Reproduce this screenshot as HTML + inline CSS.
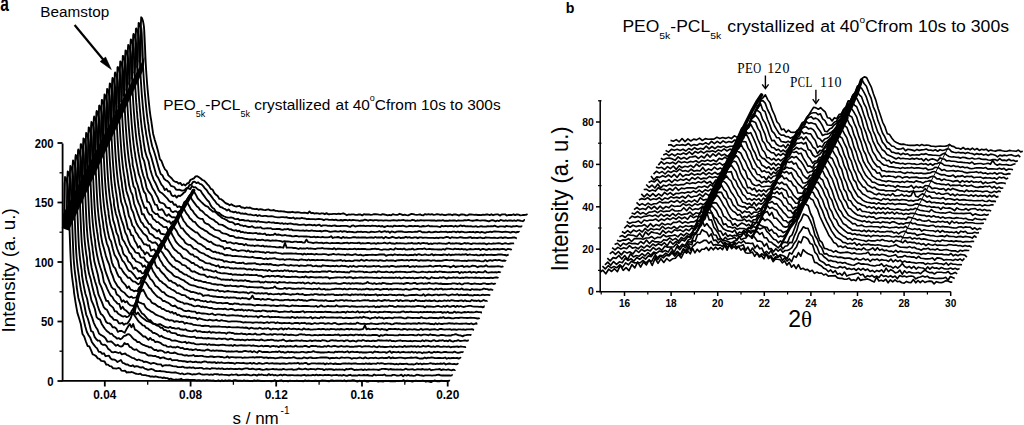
<!DOCTYPE html><html><head><meta charset="utf-8"><style>html,body{margin:0;padding:0;background:#fff;width:1024px;height:425px;overflow:hidden}svg{display:block}.s{font-family:"Liberation Sans",sans-serif}.r{font-family:"Liberation Serif",serif}</style></head><body><svg width="1024" height="425" viewBox="0 0 1024 425"><rect width="1024" height="425" fill="#fff"/><path d="M63.2 183L140.5 22L143.8 32L145.2 56L143.5 70L68.8 230.5L63.2 228.5Z" fill="#a8a8a8"/><path d="M63.2 228.5L68.8 230.5L143.5 69.5L144.5 57L63.2 214Z" fill="#000"/><g fill="none" stroke="#000" stroke-width="1.85" stroke-linejoin="round"><path d="M62.0 228.0L62.3 227.9L62.6 227.6L62.9 227.2L63.2 226.4L63.5 225.4L63.8 224.1L64.1 220.8L64.4 203.5L64.7 187.4L65.0 177.0L65.3 177.2L65.6 177.6L65.9 178.3L66.2 179.1L66.5 180.0L66.8 181.0L67.1 182.3L67.4 184.0L67.7 186.2L68.0 189.5L68.3 195.2L68.6 202.0L68.9 209.9L69.2 219.1L69.5 228.2L69.8 236.4L70.1 244.8L70.4 252.8L70.7 259.7L71.0 265.0L71.3 268.9L71.6 272.3L71.9 275.2L72.2 277.8L72.5 280.2L72.8 282.5L73.1 284.7L73.4 286.8L73.7 288.6L74.0 292.3L75.7 303.3L77.4 312.9L79.1 318.3L80.8 324.0L82.5 334.0L84.2 336.5L85.9 341.5L87.6 346.0L89.3 346.3L91.0 350.2L92.7 354.4L94.4 355.0L96.1 356.1L97.8 358.4L99.5 358.9L101.2 360.9L102.9 361.2L104.6 361.5L106.3 364.7L108.0 364.6L109.7 366.1L111.4 366.3L113.1 368.3L114.8 368.4L116.5 368.6L118.2 368.0L119.9 368.3L121.6 370.7L123.3 370.9L125.0 370.7L126.7 372.5L128.4 372.1L130.1 372.3L131.8 372.0L133.5 372.7L135.2 373.5L136.9 373.9L138.6 374.1L140.3 373.6L142.0 374.9L143.7 375.1L145.4 375.1L147.1 375.6L148.8 375.9L150.5 376.7L152.2 376.4L153.9 376.9L155.6 376.3L157.3 376.8L159.0 377.4L160.7 377.3L162.4 378.0L164.1 377.5L165.8 378.2L167.5 378.1L169.2 379.2L170.9 378.6L172.6 379.5L174.3 379.8L176.0 379.4L177.7 379.7L179.4 379.5L181.1 378.8L182.8 380.0L184.5 380.0L186.2 379.7L187.9 379.7L189.6 380.0L191.3 380.0L193.0 379.8L194.7 379.9L196.4 380.5L198.1 380.2L199.8 380.2L201.5 380.6L203.2 380.2L204.9 380.6L206.6 380.0L208.3 380.3L210.0 380.3L211.7 380.6L213.4 380.4L215.1 381.1L216.8 380.8L218.5 380.3L220.2 381.2L221.9 380.2L223.6 381.1L225.3 380.3L227.0 380.8L228.7 380.3L230.4 380.5L232.1 381.1L233.8 380.2L235.5 380.1L237.2 380.7L238.9 380.7L240.6 380.7L242.3 381.0L244.0 380.3L245.7 380.9L247.4 380.7L249.1 381.0L250.8 380.9L252.5 381.2L254.2 380.3L255.9 380.8L257.6 380.4L259.3 380.7L261.0 381.0L262.7 380.9L264.4 381.0L266.1 380.8L267.8 380.9L269.5 380.9L271.2 381.3L272.9 381.1L274.6 380.2L276.3 381.0L278.0 381.2L279.7 380.7L281.4 380.3L283.1 381.3L284.8 380.9L286.5 381.0L288.2 381.4L289.9 380.6L291.6 380.8L293.3 380.8L295.0 381.1L296.7 380.7L298.4 381.0L300.1 380.9L301.8 381.2L303.5 381.3L305.2 380.4L306.9 381.0L308.6 380.7L310.3 380.9L312.0 381.0L313.7 381.0L315.4 380.6L317.1 381.0L318.8 380.9L320.5 380.8L322.2 380.4L323.9 380.6L325.6 380.7L327.3 381.1L329.0 381.3L330.7 380.5L332.4 380.5L334.1 380.9L335.8 380.7L337.5 380.6L339.2 380.6L340.9 380.6L342.6 381.0L344.3 380.3L346.0 381.3L347.7 380.6L349.4 380.7L351.1 380.6L352.8 380.2L354.5 380.4L356.2 381.3L357.9 381.5L359.6 380.6L361.3 381.3L363.0 380.9L364.7 380.6L366.4 381.5L368.1 381.6L369.8 380.8L371.5 380.9L373.2 381.0L374.9 380.9L376.6 381.2L378.3 381.5L380.0 381.0L381.7 381.3L383.4 381.5L385.1 380.8L386.8 381.0L388.5 380.8L390.2 381.3L391.9 381.2L393.6 381.3L395.3 381.3L397.0 380.9L398.7 381.2L400.4 380.8L402.1 380.8L403.8 380.2L405.5 381.4L407.2 380.6L408.9 381.0L410.6 381.0L412.3 381.5L414.0 381.1L415.7 380.7L417.4 381.0L419.1 380.9L420.8 381.1L422.5 380.6L424.2 381.0L425.9 381.7L427.6 381.2L429.3 381.7L431.0 382.1L432.7 381.2L434.4 380.5L436.1 381.0L437.8 381.4L439.5 381.3L441.2 380.6L442.9 380.9L444.6 381.0L446.3 381.0L448.0 381.0L449.7 380.7L450.0 380.8"/><path d="M64.7 222.3L65.0 222.2L65.3 221.9L65.6 221.4L65.9 220.6L66.2 219.5L66.5 218.1L66.8 213.4L67.1 195.1L67.4 179.6L67.7 171.5L68.0 171.7L68.3 172.2L68.6 172.9L68.9 173.7L69.2 174.6L69.5 175.7L69.8 177.0L70.1 178.7L70.4 181.0L70.7 184.6L71.0 190.6L71.3 197.4L71.6 205.6L71.9 214.8L72.2 223.7L72.5 231.7L72.8 239.7L73.1 247.4L73.4 254.1L73.7 259.2L74.0 263.0L74.3 266.4L74.6 269.3L74.9 271.9L75.2 274.3L75.5 276.6L75.8 278.8L76.1 280.8L76.4 282.7L76.7 287.0L78.4 297.9L80.1 303.7L81.8 311.6L83.5 319.0L85.2 326.3L86.9 332.0L88.6 335.2L90.3 337.8L92.0 342.3L93.7 344.6L95.4 346.8L97.1 348.4L98.8 351.8L100.5 351.9L102.2 353.9L103.9 353.3L105.6 356.2L107.3 355.8L109.0 355.7L110.7 358.5L112.4 359.6L114.1 359.5L115.8 360.4L117.5 362.0L119.2 361.0L120.9 360.0L122.6 362.9L124.3 363.4L126.0 364.5L127.7 364.4L129.4 365.7L131.1 366.1L132.8 365.3L134.5 366.8L136.2 366.2L137.9 366.4L139.6 367.3L141.3 367.5L143.0 367.2L144.7 368.6L146.4 369.1L148.1 369.8L149.8 369.4L151.5 369.0L153.2 369.6L154.9 370.8L156.6 371.0L158.3 371.1L160.0 371.0L161.7 371.4L163.4 371.4L165.1 371.6L166.8 372.1L168.5 372.2L170.2 372.3L171.9 372.6L173.6 372.5L175.3 372.3L177.0 372.9L178.7 373.3L180.4 374.0L182.1 373.4L183.8 374.3L185.5 374.2L187.2 373.5L188.9 373.6L190.6 374.0L192.3 374.6L194.0 374.1L195.7 374.3L197.4 373.9L199.1 373.4L200.8 374.1L202.5 374.5L204.2 374.7L205.9 374.4L207.6 374.4L209.3 374.8L211.0 374.4L212.7 374.9L214.4 374.1L216.1 374.2L217.8 374.2L219.5 374.8L221.2 374.4L222.9 374.7L224.6 374.8L226.3 374.8L228.0 375.2L229.7 375.2L231.4 374.5L233.1 374.8L234.8 374.7L236.5 374.4L238.2 375.4L239.9 375.1L241.6 374.8L243.3 374.7L245.0 375.0L246.7 374.5L248.4 374.8L250.1 375.3L251.8 375.3L253.5 374.7L255.2 374.8L256.9 375.6L258.6 374.5L260.3 374.8L262.0 374.5L263.7 375.1L265.4 375.1L267.1 375.4L268.8 374.1L270.5 375.1L272.2 374.5L273.9 375.3L275.6 375.0L277.3 375.6L279.0 375.2L280.7 374.7L282.4 375.5L284.1 374.7L285.8 374.9L287.5 375.4L289.2 375.2L290.9 375.2L292.6 375.1L294.3 375.3L296.0 375.4L297.7 375.2L299.4 375.4L301.1 375.5L302.8 375.1L304.5 374.8L306.2 375.6L307.9 375.1L309.6 375.3L311.3 375.4L313.0 374.8L314.7 375.3L316.4 374.6L318.1 375.4L319.8 375.0L321.5 375.2L323.2 375.4L324.9 374.9L326.6 375.2L328.3 374.9L330.0 375.1L331.7 375.5L333.4 375.2L335.1 375.1L336.8 374.8L338.5 375.5L340.2 375.2L341.9 375.7L343.6 374.9L345.3 375.5L347.0 375.8L348.7 375.2L350.4 374.8L352.1 375.7L353.8 375.5L355.5 375.4L357.2 375.6L358.9 375.0L360.6 375.4L362.3 375.4L364.0 375.0L365.7 375.4L367.4 375.0L369.1 375.5L370.8 375.6L372.5 375.8L374.2 374.5L375.9 375.3L377.6 375.1L379.3 375.2L381.0 375.1L382.7 375.2L384.4 374.5L386.1 375.6L387.8 375.7L389.5 375.6L391.2 375.7L392.9 374.9L394.6 374.9L396.3 375.5L398.0 375.7L399.7 375.3L401.4 374.7L403.1 376.2L404.8 375.0L406.5 375.6L408.2 374.9L409.9 375.6L411.6 375.3L413.3 375.8L415.0 375.6L416.7 374.7L418.4 374.9L420.1 375.4L421.8 375.5L423.5 375.9L425.2 375.4L426.9 375.3L428.6 375.3L430.3 375.3L432.0 375.6L433.7 375.3L435.4 375.3L437.1 374.8L438.8 374.6L440.5 375.3L442.2 375.5L443.9 375.3L445.6 375.5L447.3 375.5L449.0 375.3L450.7 375.6L452.4 375.1L452.7 375.3"/><path d="M67.3 216.5L67.6 216.4L67.9 216.1L68.2 215.6L68.5 214.8L68.8 213.7L69.1 212.2L69.4 205.6L69.7 186.9L70.0 171.9L70.3 166.0L70.6 166.3L70.9 166.8L71.2 167.5L71.5 168.3L71.8 169.2L72.1 170.3L72.4 171.7L72.7 173.5L73.0 175.8L73.3 179.8L73.6 186.0L73.9 192.9L74.2 201.2L74.5 210.4L74.8 219.0L75.1 226.8L75.4 234.7L75.7 242.0L76.0 248.4L76.3 253.4L76.6 257.2L76.9 260.5L77.2 263.4L77.5 266.0L77.8 268.4L78.1 270.7L78.4 272.9L78.7 274.9L79.0 276.7L79.3 279.8L81.0 290.0L82.7 298.1L84.4 305.5L86.1 314.3L87.8 318.5L89.5 324.5L91.2 331.2L92.9 331.8L94.6 336.9L96.3 339.2L98.0 340.7L99.7 340.6L101.4 344.0L103.1 344.8L104.8 344.6L106.5 346.0L108.2 348.9L109.9 350.0L111.6 352.0L113.3 352.3L115.0 351.8L116.7 352.4L118.4 353.0L120.1 352.3L121.8 354.3L123.5 353.8L125.2 353.5L126.9 355.1L128.6 355.7L130.3 356.8L132.0 357.8L133.7 358.1L135.4 359.3L137.1 360.2L138.8 359.5L140.5 360.3L142.2 360.6L143.9 362.0L145.6 361.7L147.3 362.2L149.0 362.8L150.7 363.8L152.4 363.2L154.1 363.0L155.8 363.6L157.5 364.4L159.2 364.4L160.9 364.3L162.6 366.3L164.3 365.3L166.0 365.2L167.7 365.3L169.4 365.1L171.1 365.6L172.8 366.2L174.5 366.4L176.2 366.4L177.9 367.1L179.6 367.1L181.3 367.0L183.0 366.7L184.7 367.6L186.4 367.7L188.1 367.7L189.8 367.3L191.5 367.9L193.2 367.4L194.9 368.3L196.6 368.1L198.3 368.2L200.0 367.9L201.7 367.9L203.4 368.8L205.1 368.7L206.8 368.3L208.5 368.7L210.2 369.0L211.9 368.2L213.6 368.4L215.3 368.4L217.0 368.8L218.7 368.3L220.4 368.8L222.1 368.3L223.8 369.1L225.5 369.1L227.2 368.7L228.9 369.1L230.6 368.6L232.3 368.8L234.0 369.2L235.7 368.9L237.4 369.1L239.1 368.7L240.8 369.2L242.5 369.2L244.2 368.6L245.9 368.3L247.6 368.4L249.3 369.1L251.0 369.0L252.7 368.6L254.4 369.2L256.1 369.5L257.8 369.1L259.5 369.0L261.2 369.5L262.9 369.8L264.6 369.7L266.3 369.0L268.0 369.5L269.7 369.3L271.4 369.2L273.1 369.0L274.8 369.4L276.5 369.1L278.2 369.6L279.9 369.4L281.6 369.7L283.3 368.9L285.0 369.3L286.7 369.6L288.4 369.4L290.1 369.4L291.8 369.1L293.5 369.9L295.2 369.7L296.9 369.5L298.6 368.5L300.3 369.0L302.0 369.4L303.7 369.1L305.4 368.6L307.1 369.4L308.8 369.5L310.5 368.9L312.2 369.2L313.9 369.1L315.6 369.6L317.3 368.7L319.0 368.8L320.7 369.2L322.4 369.1L324.1 370.1L325.8 369.2L327.5 369.5L329.2 369.2L330.9 369.2L332.6 369.5L334.3 370.0L336.0 369.3L337.7 369.7L339.4 369.5L341.1 369.6L342.8 369.5L344.5 370.2L346.2 369.0L347.9 369.3L349.6 369.0L351.3 368.7L353.0 369.4L354.7 370.1L356.4 369.7L358.1 369.9L359.8 369.6L361.5 369.4L363.2 370.1L364.9 369.3L366.6 370.0L368.3 369.3L370.0 369.5L371.7 369.6L373.4 369.5L375.1 369.6L376.8 369.7L378.5 370.0L380.2 369.5L381.9 368.8L383.6 368.8L385.3 369.0L387.0 369.2L388.7 369.7L390.4 369.0L392.1 369.5L393.8 369.5L395.5 369.6L397.2 369.4L398.9 369.6L400.6 369.5L402.3 369.9L404.0 369.6L405.7 368.7L407.4 369.5L409.1 369.6L410.8 369.3L412.5 369.2L414.2 369.9L415.9 369.6L417.6 369.2L419.3 369.4L421.0 369.5L422.7 369.0L424.4 369.7L426.1 369.5L427.8 369.7L429.5 369.0L431.2 370.2L432.9 369.8L434.6 369.7L436.3 369.3L438.0 369.3L439.7 369.0L441.4 370.1L443.1 369.3L444.8 369.6L446.5 369.8L448.2 369.3L449.9 369.9L451.6 370.3L453.3 369.7L455.0 370.1L455.3 369.8"/><path d="M70.0 210.8L70.3 210.7L70.6 210.4L70.9 209.8L71.2 209.0L71.5 207.8L71.8 206.3L72.1 197.5L72.4 179.0L72.7 164.5L73.0 160.5L73.3 160.8L73.6 161.4L73.9 162.1L74.2 162.9L74.5 163.8L74.8 165.0L75.1 166.4L75.4 168.3L75.7 170.7L76.0 175.1L76.3 181.4L76.6 188.4L76.9 196.9L77.2 206.0L77.5 214.3L77.8 221.9L78.1 229.5L78.4 236.6L78.7 242.7L79.0 247.6L79.3 251.3L79.6 254.6L79.9 257.5L80.2 260.1L80.5 262.5L80.8 264.8L81.1 267.0L81.4 268.9L81.7 270.7L82.0 275.5L83.7 285.6L85.4 293.8L87.1 298.7L88.8 307.5L90.5 313.5L92.2 317.9L93.9 323.1L95.6 326.7L97.3 329.2L99.0 333.5L100.7 334.9L102.4 335.8L104.1 336.9L105.8 338.7L107.5 341.7L109.2 341.6L110.9 341.3L112.6 342.6L114.3 344.2L116.0 345.7L117.7 344.7L119.4 346.1L121.1 346.6L122.8 345.8L124.5 343.0L126.2 344.2L127.9 343.9L129.6 346.8L131.3 347.4L133.0 349.2L134.7 349.8L136.4 349.3L138.1 350.9L139.8 352.1L141.5 352.5L143.2 352.9L144.9 353.0L146.6 354.4L148.3 355.5L150.0 355.3L151.7 355.6L153.4 356.1L155.1 355.9L156.8 356.8L158.5 357.0L160.2 358.3L161.9 357.7L163.6 357.4L165.3 358.4L167.0 358.9L168.7 359.3L170.4 358.7L172.1 360.3L173.8 360.1L175.5 360.1L177.2 360.1L178.9 360.9L180.6 360.8L182.3 361.2L184.0 361.2L185.7 361.5L187.4 362.0L189.1 361.7L190.8 361.5L192.5 362.2L194.2 362.0L195.9 361.7L197.6 362.4L199.3 362.1L201.0 362.6L202.7 361.8L204.4 361.5L206.1 361.7L207.8 362.5L209.5 362.2L211.2 362.5L212.9 362.5L214.6 362.1L216.3 363.1L218.0 362.3L219.7 362.8L221.4 362.3L223.1 362.8L224.8 363.1L226.5 362.8L228.2 362.7L229.9 363.0L231.6 362.8L233.3 363.2L235.0 363.8L236.7 362.8L238.4 362.9L240.1 363.1L241.8 363.2L243.5 362.8L245.2 363.4L246.9 363.5L248.6 363.3L250.3 362.9L252.0 363.8L253.7 362.9L255.4 363.6L257.1 363.8L258.8 363.0L260.5 363.4L262.2 363.9L263.9 363.6L265.6 363.1L267.3 363.0L269.0 363.6L270.7 363.3L272.4 363.2L274.1 363.7L275.8 363.4L277.5 363.5L279.2 363.7L280.9 363.7L282.6 363.5L284.3 363.5L286.0 363.8L287.7 363.7L289.4 363.2L291.1 363.5L292.8 363.3L294.5 363.2L296.2 363.4L297.9 362.8L299.6 363.9L301.3 363.3L303.0 363.7L304.7 363.0L306.4 363.0L308.1 364.3L309.8 364.0L311.5 363.4L313.2 363.4L314.9 363.4L316.6 363.7L318.3 363.5L320.0 363.4L321.7 363.7L323.4 363.3L325.1 364.4L326.8 363.4L328.5 364.0L330.2 363.3L331.9 363.7L333.6 364.0L335.3 363.5L337.0 364.0L338.7 364.0L340.4 364.2L342.1 363.7L343.8 363.5L345.5 363.3L347.2 363.7L348.9 363.3L350.6 363.7L352.3 363.7L354.0 363.5L355.7 363.3L357.4 363.8L359.1 363.8L360.8 363.8L362.5 363.7L364.2 364.0L365.9 363.3L367.6 363.8L369.3 363.5L371.0 364.0L372.7 363.6L374.4 363.6L376.1 363.9L377.8 363.0L379.5 363.6L381.2 363.1L382.9 363.4L384.6 364.0L386.3 363.9L388.0 363.6L389.7 363.7L391.4 363.7L393.1 363.8L394.8 364.4L396.5 363.8L398.2 364.5L399.9 363.6L401.6 364.0L403.3 364.0L405.0 363.8L406.7 363.7L408.4 364.3L410.1 364.4L411.8 364.1L413.5 364.5L415.2 364.1L416.9 363.2L418.6 364.1L420.3 363.5L422.0 364.3L423.7 363.7L425.4 363.9L427.1 363.8L428.8 363.6L430.5 363.2L432.2 363.7L433.9 363.7L435.6 364.1L437.3 363.6L439.0 363.9L440.7 363.5L442.4 363.8L444.1 363.2L445.8 364.5L447.5 363.9L449.2 363.5L450.9 363.9L452.6 364.1L454.3 363.9L456.0 364.3L457.7 363.8L458.0 363.0"/><path d="M72.7 205.1L73.0 205.0L73.3 204.6L73.6 204.0L73.9 203.1L74.2 201.9L74.5 200.3L74.8 189.2L75.1 171.4L75.4 157.4L75.7 155.0L76.0 155.4L76.3 155.9L76.6 156.7L76.9 157.6L77.2 158.5L77.5 159.6L77.8 161.1L78.1 163.1L78.4 165.6L78.7 170.4L79.0 176.9L79.3 183.9L79.6 192.6L79.9 201.6L80.2 209.5L80.5 217.0L80.8 224.3L81.1 231.1L81.4 237.0L81.7 241.7L82.0 245.5L82.3 248.7L82.6 251.6L82.9 254.2L83.2 256.6L83.5 258.9L83.8 261.1L84.1 263.0L84.4 264.8L84.7 269.4L86.4 279.7L88.1 285.9L89.8 292.8L91.5 300.6L93.2 304.4L94.9 309.0L96.6 317.1L98.3 318.8L100.0 319.6L101.7 323.9L103.4 326.6L105.1 329.0L106.8 331.0L108.5 332.2L110.2 333.8L111.9 333.7L113.6 336.0L115.3 337.0L117.0 338.7L118.7 338.1L120.4 339.2L122.1 338.2L123.8 336.2L125.5 335.7L127.2 334.5L128.9 334.1L130.6 335.5L132.3 337.6L134.0 339.3L135.7 340.1L137.4 342.1L139.1 341.9L140.8 343.4L142.5 344.6L144.2 345.2L145.9 346.0L147.6 346.3L149.3 347.4L151.0 347.1L152.7 348.7L154.4 350.0L156.1 349.8L157.8 351.0L159.5 350.5L161.2 350.5L162.9 351.1L164.6 352.5L166.3 352.6L168.0 351.7L169.7 352.8L171.4 353.2L173.1 353.0L174.8 352.5L176.5 353.4L178.2 354.2L179.9 354.3L181.6 354.4L183.3 355.1L185.0 355.5L186.7 355.2L188.4 355.8L190.1 355.6L191.8 355.6L193.5 355.0L195.2 356.2L196.9 356.0L198.6 356.1L200.3 355.9L202.0 355.8L203.7 356.4L205.4 356.6L207.1 356.9L208.8 356.8L210.5 356.3L212.2 356.5L213.9 357.0L215.6 356.8L217.3 356.7L219.0 356.6L220.7 357.0L222.4 357.0L224.1 357.6L225.8 357.4L227.5 356.4L229.2 357.8L230.9 357.2L232.6 357.1L234.3 357.3L236.0 357.5L237.7 357.3L239.4 357.3L241.1 357.3L242.8 358.0L244.5 357.4L246.2 357.7L247.9 357.6L249.6 357.4L251.3 357.3L253.0 357.2L254.7 357.7L256.4 357.2L258.1 357.2L259.8 357.2L261.5 357.1L263.2 357.7L264.9 357.7L266.6 357.4L268.3 358.2L270.0 357.6L271.7 357.9L273.4 357.9L275.1 358.4L276.8 358.1L278.5 357.8L280.2 357.5L281.9 357.4L283.6 357.8L285.3 357.9L287.0 358.1L288.7 357.7L290.4 357.9L292.1 357.6L293.8 357.2L295.5 357.9L297.2 358.4L298.9 358.2L300.6 358.4L302.3 358.3L304.0 357.4L305.7 357.8L307.4 358.4L309.1 357.7L310.8 357.5L312.5 358.0L314.2 358.1L315.9 358.0L317.6 357.8L319.3 357.7L321.0 357.5L322.7 357.5L324.4 357.5L326.1 357.4L327.8 357.7L329.5 358.5L331.2 358.0L332.9 357.8L334.6 358.1L336.3 357.6L338.0 358.1L339.7 358.3L341.4 357.4L343.1 357.7L344.8 357.9L346.5 357.6L348.2 357.6L349.9 357.8L351.6 358.8L353.3 358.2L355.0 358.1L356.7 358.3L358.4 357.9L360.1 357.5L361.8 358.1L363.5 358.4L365.2 357.3L366.9 358.1L368.6 358.4L370.3 357.9L372.0 357.8L373.7 358.2L375.4 357.7L377.1 358.2L378.8 358.3L380.5 357.9L382.2 357.7L383.9 358.2L385.6 357.9L387.3 358.0L389.0 357.0L390.7 358.3L392.4 357.5L394.1 358.0L395.8 358.1L397.5 357.8L399.2 357.7L400.9 357.6L402.6 357.9L404.3 358.2L406.0 358.2L407.7 357.8L409.4 357.8L411.1 357.5L412.8 357.9L414.5 357.7L416.2 357.5L417.9 358.0L419.6 358.6L421.3 358.5L423.0 358.5L424.7 357.5L426.4 358.3L428.1 357.6L429.8 357.8L431.5 357.4L433.2 357.7L434.9 358.1L436.6 358.1L438.3 358.0L440.0 358.0L441.7 358.2L443.4 358.1L445.1 357.5L446.8 358.7L448.5 358.0L450.2 358.4L451.9 358.0L453.6 357.8L455.3 358.1L457.0 357.8L458.7 358.6L460.4 357.7L460.7 358.3"/><path d="M75.3 199.3L75.6 199.2L76.0 198.9L76.2 198.2L76.5 197.3L76.8 196.0L77.1 194.3L77.4 180.8L77.8 163.7L78.0 150.7L78.3 149.5L78.6 149.9L78.9 150.5L79.2 151.3L79.5 152.2L79.8 153.1L80.1 154.3L80.4 155.8L80.8 157.8L81.0 160.6L81.3 165.7L81.6 172.3L81.9 179.5L82.2 188.2L82.5 197.1L82.8 204.8L83.1 212.0L83.4 219.1L83.8 225.6L84.0 231.3L84.3 235.9L84.6 239.6L84.9 242.9L85.2 245.7L85.5 248.3L85.8 250.7L86.1 253.0L86.4 255.1L86.8 257.1L87.0 258.8L87.3 264.1L89.0 273.6L90.8 279.6L92.4 287.1L94.1 293.8L95.8 298.3L97.5 305.3L99.2 310.2L100.9 314.0L102.6 315.3L104.3 317.8L106.0 321.7L107.7 323.2L109.4 323.3L111.1 324.8L112.8 327.4L114.5 327.2L116.2 328.4L117.9 331.8L119.6 331.0L121.3 330.8L123.0 331.8L124.7 332.7L126.4 329.4L128.1 326.5L129.8 324.0L131.5 327.3L133.2 324.0L134.9 329.6L136.6 330.4L138.3 331.8L140.0 333.3L141.7 334.8L143.4 336.5L145.1 336.5L146.8 338.1L148.5 339.8L150.2 337.9L151.9 339.8L153.6 340.0L155.3 342.1L157.0 341.6L158.7 342.1L160.4 342.8L162.1 344.2L163.8 345.3L165.5 345.3L167.2 346.7L168.9 346.9L170.6 346.4L172.3 347.3L174.0 347.2L175.7 347.5L177.4 346.7L179.1 347.3L180.8 348.2L182.5 347.8L184.2 349.1L185.9 349.0L187.6 348.8L189.3 349.7L191.0 349.5L192.7 350.0L194.4 349.7L196.1 349.2L197.8 350.2L199.5 349.9L201.2 350.4L202.9 350.5L204.6 350.7L206.3 349.8L208.0 349.5L209.7 350.3L211.4 350.8L213.1 350.3L214.8 350.8L216.5 350.4L218.2 350.7L219.9 350.7L221.6 350.7L223.3 351.2L225.0 351.1L226.7 351.7L228.4 351.3L230.1 351.7L231.8 351.3L233.5 351.6L235.2 351.3L236.9 351.2L238.6 351.9L240.3 351.7L242.0 351.8L243.7 351.2L245.4 350.9L247.1 351.3L248.8 351.7L250.5 351.1L252.2 352.2L253.9 351.2L255.6 352.0L257.3 352.7L259.0 350.9L260.7 351.3L262.4 352.2L264.1 351.8L265.8 352.0L267.5 351.9L269.2 352.4L270.9 352.2L272.6 351.8L274.3 351.9L276.0 351.6L277.7 352.0L279.4 351.2L281.1 352.3L282.8 351.9L284.5 352.7L286.2 352.5L287.9 351.6L289.6 352.4L291.3 351.9L293.0 352.1L294.7 352.5L296.4 352.2L298.1 352.3L299.8 352.3L301.5 351.9L303.2 351.9L304.9 352.3L306.6 352.5L308.3 352.0L310.0 352.2L311.7 351.8L313.4 351.2L315.1 351.9L316.8 352.2L318.5 352.2L320.2 352.5L321.9 352.5L323.6 352.5L325.3 352.3L327.0 352.3L328.7 351.9L330.4 352.3L332.1 352.3L333.8 352.6L335.5 351.6L337.2 352.0L338.9 351.6L340.6 351.9L342.3 351.7L344.0 352.3L345.7 352.0L347.4 351.3L349.1 352.6L350.8 351.8L352.5 351.6L354.2 352.1L355.9 352.0L357.6 351.8L359.3 352.5L361.0 352.1L362.7 352.5L364.4 352.5L366.1 352.5L367.8 352.3L369.5 352.2L371.2 352.1L372.9 352.8L374.6 351.5L376.3 351.8L378.0 352.0L379.7 352.4L381.4 352.3L383.1 352.1L384.8 352.1L386.5 352.9L388.2 352.0L389.9 351.2L391.6 352.9L393.3 351.9L395.0 352.1L396.7 352.3L398.4 351.8L400.1 352.7L401.8 352.2L403.5 351.8L405.2 352.4L406.9 352.4L408.6 352.2L410.3 352.5L412.0 351.7L413.7 352.6L415.4 352.0L417.1 352.8L418.8 352.1L420.5 352.3L422.2 353.2L423.9 352.3L425.6 352.7L427.3 352.5L429.0 351.8L430.7 352.7L432.4 352.7L434.1 351.8L435.8 352.3L437.5 351.8L439.2 352.2L440.9 352.6L442.6 352.4L444.3 351.9L446.0 352.0L447.7 352.3L449.4 352.3L451.1 352.4L452.8 352.5L454.5 351.6L456.2 352.3L457.9 352.8L459.6 352.5L461.3 352.1L463.0 352.1L463.4 352.4"/><path d="M78.0 193.6L78.3 193.5L78.6 193.1L78.9 192.5L79.2 191.5L79.5 190.1L79.8 187.9L80.1 172.3L80.4 156.0L80.7 144.3L81.0 144.1L81.3 144.5L81.6 145.1L81.9 145.9L82.2 146.8L82.5 147.7L82.8 149.0L83.1 150.6L83.4 152.6L83.7 155.6L84.0 161.0L84.3 167.7L84.6 175.1L84.9 183.9L85.2 192.5L85.5 199.9L85.8 207.0L86.1 213.8L86.4 220.1L86.7 225.6L87.0 230.1L87.3 233.8L87.6 237.0L87.9 239.9L88.2 242.5L88.5 244.8L88.8 247.1L89.1 249.2L89.4 251.1L89.7 252.9L90.0 257.6L91.7 268.0L93.4 275.3L95.1 281.5L96.8 286.8L98.5 294.6L100.2 298.3L101.9 302.1L103.6 306.8L105.3 308.9L107.0 309.8L108.7 313.4L110.4 316.3L112.1 317.4L113.8 319.8L115.5 319.8L117.2 320.4L118.9 323.3L120.6 323.5L122.3 322.8L124.0 324.8L125.7 323.6L127.4 323.6L129.1 321.1L130.8 318.0L132.5 312.9L134.2 314.9L135.9 317.6L137.6 320.1L139.3 322.1L141.0 323.5L142.7 325.3L144.4 325.7L146.1 327.8L147.8 328.3L149.5 330.0L151.2 330.8L152.9 332.8L154.6 333.0L156.3 333.9L158.0 334.8L159.7 336.6L161.4 335.8L163.1 337.2L164.8 337.9L166.5 338.4L168.2 339.0L169.9 339.2L171.6 340.5L173.3 340.7L175.0 340.5L176.7 340.9L178.4 341.5L180.1 341.9L181.8 342.3L183.5 342.2L185.2 341.8L186.9 343.2L188.6 342.3L190.3 342.8L192.0 343.4L193.7 343.2L195.4 344.1L197.1 344.3L198.8 344.3L200.5 344.1L202.2 344.1L203.9 344.3L205.6 344.1L207.3 345.0L209.0 344.2L210.7 344.9L212.4 344.7L214.1 344.7L215.8 345.1L217.5 345.2L219.2 345.2L220.9 344.9L222.6 344.7L224.3 344.8L226.0 345.4L227.7 345.4L229.4 345.5L231.1 345.1L232.8 346.0L234.5 344.9L236.2 345.6L237.9 345.7L239.6 345.4L241.3 345.2L243.0 345.5L244.7 345.3L246.4 345.6L248.1 345.3L249.8 345.3L251.5 345.8L253.2 345.3L254.9 345.8L256.6 345.9L258.3 346.3L260.0 346.1L261.7 345.7L263.4 346.5L265.1 345.8L266.8 346.0L268.5 346.0L270.2 346.9L271.9 346.2L273.6 345.9L275.3 346.5L277.0 346.2L278.7 347.1L280.4 346.0L282.1 346.5L283.8 346.0L285.5 346.9L287.2 346.1L288.9 346.4L290.6 346.0L292.3 346.7L294.0 346.6L295.7 345.6L297.4 346.6L299.1 346.6L300.8 346.5L302.5 346.7L304.2 346.0L305.9 345.8L307.6 346.6L309.3 347.0L311.0 346.0L312.7 346.0L314.4 346.1L316.1 346.0L317.8 346.7L319.5 346.5L321.2 346.9L322.9 346.9L324.6 346.1L326.3 346.7L328.0 345.7L329.7 346.4L331.4 346.7L333.1 346.2L334.8 345.8L336.5 346.3L338.2 346.9L339.9 346.3L341.6 346.0L343.3 346.6L345.0 346.7L346.7 346.1L348.4 346.4L350.1 346.9L351.8 346.6L353.5 346.8L355.2 346.4L356.9 346.5L358.6 346.1L360.3 346.2L362.0 347.0L363.7 346.4L365.4 346.2L367.1 346.3L368.8 346.1L370.5 346.7L372.2 346.8L373.9 346.2L375.6 346.9L377.3 347.3L379.0 346.2L380.7 346.8L382.4 346.6L384.1 347.0L385.8 347.0L387.5 346.9L389.2 346.7L390.9 346.4L392.6 347.3L394.3 346.3L396.0 347.0L397.7 346.9L399.4 346.3L401.1 346.6L402.8 347.1L404.5 345.9L406.2 346.9L407.9 346.5L409.6 346.5L411.3 346.1L413.0 346.7L414.7 346.2L416.4 346.8L418.1 346.2L419.8 346.8L421.5 346.7L423.2 345.9L424.9 346.5L426.6 346.5L428.3 345.8L430.0 346.5L431.7 346.9L433.4 346.3L435.1 347.0L436.8 346.2L438.5 346.2L440.2 346.8L441.9 346.8L443.6 346.5L445.3 346.6L447.0 346.9L448.7 346.4L450.4 347.3L452.1 346.8L453.8 346.7L455.5 346.7L457.2 346.5L458.9 347.0L460.6 346.4L462.3 346.7L464.0 346.8L465.7 347.1L466.0 347.0"/><path d="M80.7 187.9L81.0 187.8L81.3 187.4L81.6 186.7L81.9 185.6L82.2 184.1L82.5 181.0L82.8 163.8L83.1 148.3L83.4 138.5L83.7 138.6L84.0 139.1L84.3 139.7L84.6 140.5L84.9 141.4L85.2 142.4L85.5 143.7L85.8 145.3L86.1 147.5L86.4 150.7L86.7 156.4L87.0 163.1L87.3 170.7L87.6 179.5L87.9 187.9L88.2 195.1L88.5 202.0L88.8 208.6L89.1 214.6L89.4 219.9L89.7 224.3L90.0 227.9L90.3 231.1L90.6 234.0L90.9 236.6L91.2 238.9L91.5 241.2L91.8 243.3L92.1 245.2L92.4 246.9L92.7 250.2L94.4 261.8L96.1 268.1L97.8 274.5L99.5 283.1L101.2 286.6L102.9 291.3L104.6 296.4L106.3 300.9L108.0 301.0L109.7 304.7L111.4 306.1L113.1 307.6L114.8 311.3L116.5 311.4L118.2 313.8L119.9 314.8L121.6 315.9L123.3 316.6L125.0 316.0L126.7 317.1L128.4 316.5L130.1 314.5L131.8 310.7L133.5 308.3L135.2 305.1L136.9 304.0L138.6 308.2L140.3 310.8L142.0 313.5L143.7 314.3L145.4 316.4L147.1 318.4L148.8 320.1L150.5 320.2L152.2 322.4L153.9 323.7L155.6 324.6L157.3 325.7L159.0 326.2L160.7 327.9L162.4 327.7L164.1 330.1L165.8 330.1L167.5 331.7L169.2 331.0L170.9 332.7L172.6 333.1L174.3 333.2L176.0 333.5L177.7 335.1L179.4 335.0L181.1 335.9L182.8 335.5L184.5 335.9L186.2 336.3L187.9 336.7L189.6 336.8L191.3 337.1L193.0 336.9L194.7 336.7L196.4 338.1L198.1 337.6L199.8 337.9L201.5 337.7L203.2 338.3L204.9 338.1L206.6 338.5L208.3 338.0L210.0 338.3L211.7 338.5L213.4 338.4L215.1 338.7L216.8 339.2L218.5 338.5L220.2 338.7L221.9 339.0L223.6 338.6L225.3 338.6L227.0 339.5L228.7 339.5L230.4 338.7L232.1 338.8L233.8 339.6L235.5 339.9L237.2 339.7L238.9 339.7L240.6 340.2L242.3 339.7L244.0 340.2L245.7 340.2L247.4 339.5L249.1 340.1L250.8 339.9L252.5 339.7L254.2 339.7L255.9 340.2L257.6 340.1L259.3 340.4L261.0 339.5L262.7 340.0L264.4 340.6L266.1 340.3L267.8 340.0L269.5 340.1L271.2 339.7L272.9 339.9L274.6 340.6L276.3 340.4L278.0 340.9L279.7 340.4L281.4 340.4L283.1 339.5L284.8 340.5L286.5 341.3L288.2 340.8L289.9 340.5L291.6 341.0L293.3 340.9L295.0 340.7L296.7 340.5L298.4 340.7L300.1 340.9L301.8 340.3L303.5 340.8L305.2 340.8L306.9 341.1L308.6 340.9L310.3 340.4L312.0 341.2L313.7 340.7L315.4 340.4L317.1 340.8L318.8 340.6L320.5 341.1L322.2 340.2L323.9 340.3L325.6 340.6L327.3 341.3L329.0 341.1L330.7 340.4L332.4 340.1L334.1 340.6L335.8 340.3L337.5 340.9L339.2 340.8L340.9 340.7L342.6 340.6L344.3 341.3L346.0 340.4L347.7 340.3L349.4 341.2L351.1 341.2L352.8 340.6L354.5 341.0L356.2 341.6L357.9 340.5L359.6 340.7L361.3 340.9L363.0 340.0L364.7 340.7L366.4 341.0L368.1 340.7L369.8 341.1L371.5 341.0L373.2 340.6L374.9 341.0L376.6 340.9L378.3 340.2L380.0 340.5L381.7 340.5L383.4 340.6L385.1 340.6L386.8 340.3L388.5 340.8L390.2 340.2L391.9 341.1L393.6 340.9L395.3 341.3L397.0 340.9L398.7 340.6L400.4 340.3L402.1 341.0L403.8 340.8L405.5 340.9L407.2 341.1L408.9 341.2L410.6 340.8L412.3 341.4L414.0 340.8L415.7 340.8L417.4 341.1L419.1 341.2L420.8 341.3L422.5 340.2L424.2 341.3L425.9 340.3L427.6 340.6L429.3 341.0L431.0 341.3L432.7 340.5L434.4 340.2L436.1 341.2L437.8 341.0L439.5 340.5L441.2 340.7L442.9 340.2L444.6 341.1L446.3 340.7L448.0 341.3L449.7 340.1L451.4 341.1L453.1 341.6L454.8 340.9L456.5 340.9L458.2 340.2L459.9 341.0L461.6 340.9L463.3 340.7L465.0 340.3L466.7 340.9L468.4 340.5L468.7 340.7"/><path d="M83.4 182.2L83.7 182.0L84.0 181.6L84.3 180.9L84.6 179.7L84.9 178.2L85.2 173.6L85.5 155.4L85.8 140.7L86.1 132.9L86.4 133.1L86.7 133.6L87.0 134.3L87.3 135.1L87.6 136.0L87.9 137.0L88.2 138.4L88.5 140.1L88.8 142.3L89.1 145.9L89.4 151.8L89.7 158.5L90.0 166.3L90.3 175.0L90.6 183.2L90.9 190.2L91.2 196.9L91.5 203.2L91.8 209.1L92.1 214.2L92.4 218.5L92.7 222.1L93.0 225.2L93.3 228.1L93.6 230.7L93.9 233.0L94.2 235.3L94.5 237.4L94.8 239.2L95.1 241.0L95.4 245.5L97.1 255.3L98.8 262.4L100.5 268.0L102.2 273.1L103.9 282.1L105.6 284.9L107.3 288.8L109.0 292.4L110.7 295.5L112.4 296.9L114.1 300.1L115.8 301.6L117.5 303.6L119.2 303.8L120.9 309.0L122.6 306.8L124.3 309.5L126.0 310.5L127.7 312.1L129.4 313.9L131.1 313.2L132.8 314.1L134.5 311.1L136.2 314.4L137.9 312.6L139.6 315.1L141.3 316.9L143.0 318.3L144.7 319.5L146.4 320.8L148.1 321.4L149.8 321.9L151.5 322.7L153.2 323.9L154.9 323.8L156.6 324.6L158.3 324.5L160.0 324.1L161.7 325.1L163.4 326.0L165.1 327.0L166.8 327.3L168.5 327.8L170.2 326.9L171.9 328.0L173.6 327.9L175.3 328.6L177.0 328.5L178.7 328.1L180.4 329.4L182.1 329.5L183.8 329.9L185.5 329.3L187.2 330.5L188.9 330.8L190.6 331.2L192.3 331.4L194.0 330.7L195.7 330.2L197.4 331.6L199.1 331.1L200.8 331.5L202.5 332.1L204.2 332.0L205.9 332.1L207.6 332.3L209.3 331.5L211.0 332.9L212.7 332.2L214.4 332.4L216.1 332.8L217.8 332.6L219.5 332.4L221.2 332.8L222.9 332.8L224.6 332.8L226.3 333.8L228.0 332.6L229.7 332.4L231.4 333.0L233.1 333.0L234.8 333.9L236.5 333.6L238.2 333.9L239.9 333.9L241.6 333.4L243.3 334.1L245.0 333.9L246.7 334.6L248.4 334.0L250.1 334.0L251.8 334.3L253.5 334.4L255.2 333.5L256.9 334.6L258.6 334.6L260.3 334.6L262.0 333.9L263.7 333.6L265.4 334.3L267.1 334.7L268.8 334.6L270.5 334.1L272.2 334.9L273.9 334.1L275.6 334.1L277.3 334.6L279.0 334.4L280.7 334.4L282.4 334.2L284.1 335.1L285.8 334.3L287.5 334.9L289.2 335.0L290.9 334.7L292.6 334.9L294.3 335.2L296.0 335.4L297.7 335.2L299.4 334.3L301.1 334.2L302.8 334.6L304.5 334.5L306.2 335.1L307.9 334.9L309.6 334.8L311.3 335.3L313.0 335.3L314.7 334.9L316.4 335.1L318.1 335.3L319.8 334.8L321.5 335.1L323.2 334.6L324.9 335.0L326.6 335.1L328.3 334.9L330.0 335.0L331.7 335.2L333.4 335.1L335.1 334.7L336.8 334.8L338.5 334.5L340.2 335.6L341.9 335.1L343.6 335.2L345.3 335.0L347.0 335.2L348.7 335.2L350.4 334.7L352.1 335.0L353.8 335.4L355.5 334.6L357.2 334.7L358.9 335.2L360.6 334.7L362.3 335.3L364.0 334.6L365.7 335.1L367.4 335.3L369.1 335.2L370.8 335.3L372.5 335.0L374.2 335.0L375.9 335.0L377.6 335.2L379.3 336.3L381.0 335.0L382.7 335.7L384.4 335.0L386.1 334.7L387.8 335.0L389.5 335.2L391.2 335.1L392.9 335.1L394.6 335.3L396.3 335.3L398.0 335.4L399.7 334.7L401.4 335.1L403.1 334.8L404.8 335.2L406.5 335.1L408.2 335.2L409.9 334.9L411.6 334.8L413.3 335.0L415.0 335.3L416.7 335.4L418.4 334.5L420.1 335.2L421.8 335.2L423.5 334.6L425.2 334.7L426.9 334.9L428.6 335.3L430.3 334.3L432.0 335.0L433.7 334.9L435.4 335.2L437.1 335.6L438.8 335.6L440.5 335.0L442.2 335.0L443.9 335.2L445.6 335.5L447.3 335.6L449.0 335.3L450.7 335.6L452.4 334.8L454.1 334.7L455.8 334.2L457.5 334.8L459.2 335.4L460.9 335.5L462.6 336.4L464.3 335.4L466.0 335.2L467.7 334.8L469.4 334.9L471.1 335.0L471.4 335.1"/><path d="M86.0 176.4L86.3 176.3L86.6 175.8L86.9 175.0L87.2 173.9L87.5 172.2L87.8 165.9L88.1 147.3L88.4 133.2L88.7 127.4L89.0 127.7L89.3 128.2L89.6 128.9L89.9 129.7L90.2 130.6L90.5 131.7L90.8 133.1L91.1 134.8L91.4 137.1L91.7 141.0L92.0 147.2L92.3 153.9L92.6 161.9L92.9 170.6L93.2 178.5L93.5 185.2L93.8 191.7L94.1 197.9L94.4 203.5L94.7 208.5L95.0 212.7L95.3 216.2L95.6 219.4L95.9 222.2L96.2 224.8L96.5 227.1L96.8 229.4L97.1 231.5L97.4 233.3L97.7 235.0L98.0 238.6L99.7 247.9L101.4 255.7L103.1 262.1L104.8 269.1L106.5 274.2L108.2 278.6L109.9 283.2L111.6 287.2L113.3 288.8L115.0 289.3L116.7 294.4L118.4 295.6L120.1 297.2L121.8 301.8L123.5 300.3L125.2 302.3L126.9 301.2L128.6 303.9L130.3 305.3L132.0 305.6L133.7 306.0L135.4 303.2L137.1 299.1L138.8 302.3L140.5 302.9L142.2 303.6L143.9 304.0L145.6 307.4L147.3 309.1L149.0 310.0L150.7 311.3L152.4 312.1L154.1 313.3L155.8 314.7L157.5 315.3L159.2 316.0L160.9 316.6L162.6 317.3L164.3 318.4L166.0 319.6L167.7 319.4L169.4 320.6L171.1 320.1L172.8 320.6L174.5 321.9L176.2 321.1L177.9 321.4L179.6 322.1L181.3 321.7L183.0 321.9L184.7 323.7L186.4 322.9L188.1 323.4L189.8 323.7L191.5 323.7L193.2 324.8L194.9 324.9L196.6 325.2L198.3 325.3L200.0 325.3L201.7 326.0L203.4 326.0L205.1 325.6L206.8 325.9L208.5 325.9L210.2 326.8L211.9 326.5L213.6 326.5L215.3 326.4L217.0 326.7L218.7 326.3L220.4 326.7L222.1 326.8L223.8 326.9L225.5 326.8L227.2 327.3L228.9 326.8L230.6 327.1L232.3 327.3L234.0 327.4L235.7 327.3L237.4 327.2L239.1 327.3L240.8 327.6L242.5 327.5L244.2 327.8L245.9 327.5L247.6 328.0L249.3 328.8L251.0 327.7L252.7 328.1L254.4 328.6L256.1 328.4L257.8 328.7L259.5 327.7L261.2 328.3L262.9 329.0L264.6 328.3L266.3 328.7L268.0 328.0L269.7 329.0L271.4 329.5L273.1 328.7L274.8 328.9L276.5 328.9L278.2 329.6L279.9 328.7L281.6 328.3L283.3 329.6L285.0 328.5L286.7 329.2L288.4 328.2L290.1 328.8L291.8 329.1L293.5 328.7L295.2 328.9L296.9 329.3L298.6 328.8L300.3 329.3L302.0 329.7L303.7 328.4L305.4 329.3L307.1 329.4L308.8 329.0L310.5 329.7L312.2 329.6L313.9 329.4L315.6 329.4L317.3 329.2L319.0 328.8L320.7 329.4L322.4 329.0L324.1 329.0L325.8 329.6L327.5 329.2L329.2 329.6L330.9 328.9L332.6 329.1L334.3 329.2L336.0 329.7L337.7 329.2L339.4 329.5L341.1 329.0L342.8 329.3L344.5 329.6L346.2 329.0L347.9 329.0L349.6 329.5L351.3 328.9L353.0 329.4L354.7 329.4L356.4 329.2L358.1 329.6L359.8 329.5L361.5 329.4L363.2 328.8L364.9 325.3L366.6 329.4L368.3 328.7L370.0 329.3L371.7 329.2L373.4 329.0L375.1 329.2L376.8 328.5L378.5 329.2L380.2 329.7L381.9 328.9L383.6 329.5L385.3 329.4L387.0 330.4L388.7 329.0L390.4 329.0L392.1 329.1L393.8 329.0L395.5 328.8L397.2 329.4L398.9 329.0L400.6 329.6L402.3 329.5L404.0 329.0L405.7 329.2L407.4 329.8L409.1 329.2L410.8 329.4L412.5 329.6L414.2 329.2L415.9 329.5L417.6 329.9L419.3 329.8L421.0 328.8L422.7 329.9L424.4 329.3L426.1 329.2L427.8 329.2L429.5 329.8L431.2 329.5L432.9 329.3L434.6 329.1L436.3 329.6L438.0 329.8L439.7 329.0L441.4 329.0L443.1 329.3L444.8 329.6L446.5 329.3L448.2 329.4L449.9 329.1L451.6 329.8L453.3 329.4L455.0 329.5L456.7 329.8L458.4 329.3L460.1 329.4L461.8 329.6L463.5 329.3L465.2 329.9L466.9 329.4L468.6 329.3L470.3 329.3L472.0 329.1L473.7 329.9L474.0 330.0"/><path d="M88.7 170.7L89.0 170.5L89.3 170.1L89.6 169.2L89.9 168.0L90.2 166.3L90.5 157.8L90.8 139.3L91.1 125.9L91.4 122.0L91.7 122.2L92.0 122.8L92.3 123.5L92.6 124.4L92.9 125.2L93.2 126.3L93.5 127.8L93.8 129.6L94.1 132.0L94.4 136.3L94.7 142.6L95.0 149.4L95.3 157.5L95.6 166.1L95.9 173.7L96.2 180.2L96.5 186.6L96.8 192.5L97.1 197.9L97.4 202.8L97.7 206.9L98.0 210.3L98.3 213.5L98.6 216.3L98.9 218.9L99.2 221.2L99.5 223.5L99.8 225.5L100.1 227.4L100.4 229.0L100.7 233.8L102.4 243.3L104.1 248.9L105.8 255.6L107.5 260.7L109.2 264.6L110.9 271.6L112.6 275.6L114.3 280.8L116.0 283.5L117.7 286.5L119.4 288.0L121.1 290.5L122.8 291.7L124.5 292.7L126.2 294.9L127.9 296.5L129.6 297.5L131.3 296.6L133.0 297.9L134.7 297.7L136.4 297.3L138.1 294.0L139.8 288.2L141.5 291.3L143.2 289.7L144.9 293.0L146.6 296.5L148.3 298.8L150.0 299.8L151.7 302.6L153.4 303.5L155.1 304.0L156.8 305.5L158.5 306.8L160.2 307.0L161.9 308.9L163.6 309.0L165.3 310.2L167.0 311.1L168.7 311.2L170.4 312.6L172.1 311.8L173.8 313.7L175.5 312.9L177.2 315.0L178.9 314.7L180.6 316.0L182.3 316.5L184.0 316.2L185.7 316.3L187.4 317.6L189.1 316.6L190.8 317.9L192.5 317.7L194.2 317.9L195.9 318.0L197.6 319.5L199.3 318.3L201.0 318.9L202.7 319.4L204.4 319.8L206.1 320.2L207.8 320.3L209.5 319.7L211.2 320.1L212.9 320.5L214.6 320.4L216.3 319.8L218.0 320.6L219.7 320.8L221.4 320.2L223.1 320.6L224.8 320.9L226.5 321.2L228.2 321.6L229.9 321.6L231.6 321.4L233.3 321.4L235.0 321.3L236.7 321.4L238.4 321.6L240.1 321.6L241.8 322.1L243.5 322.6L245.2 322.1L246.9 322.4L248.6 322.3L250.3 322.3L252.0 322.7L253.7 322.7L255.4 322.4L257.1 322.4L258.8 322.7L260.5 322.4L262.2 322.7L263.9 323.0L265.6 322.7L267.3 322.1L269.0 323.0L270.7 322.4L272.4 322.4L274.1 322.4L275.8 323.3L277.5 322.3L279.2 323.0L280.9 323.2L282.6 323.2L284.3 322.9L286.0 323.1L287.7 323.2L289.4 322.8L291.1 323.5L292.8 323.6L294.5 323.0L296.2 323.0L297.9 322.9L299.6 323.7L301.3 323.0L303.0 323.2L304.7 322.8L306.4 323.8L308.1 323.3L309.8 323.5L311.5 324.0L313.2 323.7L314.9 323.0L316.6 323.6L318.3 323.7L320.0 323.2L321.7 323.1L323.4 323.1L325.1 323.8L326.8 323.5L328.5 323.1L330.2 323.7L331.9 323.8L333.6 323.2L335.3 323.0L337.0 323.9L338.7 324.4L340.4 324.0L342.1 323.9L343.8 323.6L345.5 323.3L347.2 323.6L348.9 323.8L350.6 323.5L352.3 323.9L354.0 323.6L355.7 323.8L357.4 322.6L359.1 323.3L360.8 323.9L362.5 323.9L364.2 323.7L365.9 324.1L367.6 323.8L369.3 323.8L371.0 323.3L372.7 323.7L374.4 323.9L376.1 324.1L377.8 324.0L379.5 323.6L381.2 323.7L382.9 323.2L384.6 323.8L386.3 323.2L388.0 323.5L389.7 323.6L391.4 324.3L393.1 324.1L394.8 323.3L396.5 323.1L398.2 323.5L399.9 323.3L401.6 323.8L403.3 323.7L405.0 323.9L406.7 323.3L408.4 323.5L410.1 323.7L411.8 323.7L413.5 323.4L415.2 323.5L416.9 323.9L418.6 323.0L420.3 323.5L422.0 323.6L423.7 323.1L425.4 323.3L427.1 323.7L428.8 323.5L430.5 324.0L432.2 323.9L433.9 324.4L435.6 323.2L437.3 324.3L439.0 323.4L440.7 324.0L442.4 324.0L444.1 323.7L445.8 323.6L447.5 323.5L449.2 323.1L450.9 323.5L452.6 323.4L454.3 323.9L456.0 323.4L457.7 323.6L459.4 323.8L461.1 323.7L462.8 323.7L464.5 323.6L466.2 323.5L467.9 323.9L469.6 324.0L471.3 323.4L473.0 324.3L474.7 323.9L476.4 323.2L476.7 324.6"/><path d="M91.4 165.0L91.7 164.8L92.0 164.3L92.3 163.4L92.6 162.1L92.9 160.3L93.2 149.5L93.5 131.7L93.8 118.9L94.1 116.5L94.4 116.8L94.7 117.4L95.0 118.1L95.3 119.0L95.6 119.9L95.9 121.0L96.2 122.5L96.5 124.4L96.8 126.9L97.1 131.6L97.4 138.0L97.7 144.9L98.0 153.1L98.3 161.6L98.6 168.8L98.9 175.2L99.2 181.4L99.5 187.1L99.8 192.3L100.1 197.0L100.4 201.0L100.7 204.5L101.0 207.6L101.3 210.4L101.6 213.0L101.9 215.4L102.2 217.6L102.5 219.6L102.8 221.4L103.1 223.1L103.4 226.8L105.1 235.9L106.8 243.3L108.5 247.5L110.2 254.2L111.9 262.3L113.6 266.7L115.3 268.4L117.0 273.0L118.7 276.6L120.4 277.5L122.1 281.3L123.8 283.1L125.5 285.0L127.2 288.0L128.9 286.3L130.6 289.7L132.3 290.1L134.0 291.3L135.7 290.6L137.4 291.1L139.1 287.6L140.8 286.1L142.5 281.0L144.2 281.7L145.9 282.5L147.6 285.0L149.3 287.8L151.0 288.9L152.7 291.7L154.4 293.5L156.1 295.4L157.8 297.0L159.5 297.7L161.2 298.8L162.9 301.0L164.6 300.9L166.3 302.1L168.0 302.7L169.7 303.8L171.4 305.5L173.1 306.2L174.8 305.5L176.5 307.0L178.2 308.4L179.9 308.2L181.6 309.1L183.3 310.3L185.0 311.0L186.7 311.1L188.4 310.6L190.1 311.1L191.8 311.5L193.5 311.6L195.2 311.7L196.9 313.3L198.6 312.7L200.3 313.2L202.0 313.5L203.7 313.5L205.4 313.6L207.1 313.8L208.8 314.4L210.5 314.2L212.2 313.5L213.9 314.7L215.6 315.0L217.3 314.4L219.0 314.4L220.7 314.6L222.4 315.2L224.1 314.6L225.8 315.3L227.5 315.6L229.2 315.5L230.9 315.4L232.6 315.2L234.3 315.3L236.0 315.6L237.7 315.4L239.4 315.8L241.1 315.6L242.8 316.5L244.5 316.6L246.2 315.9L247.9 316.7L249.6 316.4L251.3 316.4L253.0 316.6L254.7 316.7L256.4 316.1L258.1 317.5L259.8 316.4L261.5 315.9L263.2 316.8L264.9 316.9L266.6 316.7L268.3 316.3L270.0 317.4L271.7 317.0L273.4 317.2L275.1 317.0L276.8 317.1L278.5 317.0L280.2 317.4L281.9 317.3L283.6 317.6L285.3 317.6L287.0 317.4L288.7 317.5L290.4 317.9L292.1 316.9L293.8 317.5L295.5 318.0L297.2 317.2L298.9 317.8L300.6 317.4L302.3 317.6L304.0 317.5L305.7 317.6L307.4 317.8L309.1 317.6L310.8 317.0L312.5 318.5L314.2 317.7L315.9 317.5L317.6 318.1L319.3 318.2L321.0 317.0L322.7 317.9L324.4 317.0L326.1 317.6L327.8 317.7L329.5 317.6L331.2 317.5L332.9 317.4L334.6 317.6L336.3 317.7L338.0 317.7L339.7 317.3L341.4 317.5L343.1 318.2L344.8 318.0L346.5 317.7L348.2 318.0L349.9 317.9L351.6 318.2L353.3 317.9L355.0 317.7L356.7 317.5L358.4 317.8L360.1 317.1L361.8 317.9L363.5 316.7L365.2 317.5L366.9 317.7L368.6 318.0L370.3 318.8L372.0 317.9L373.7 317.8L375.4 317.2L377.1 318.3L378.8 317.2L380.5 317.9L382.2 317.6L383.9 318.7L385.6 317.8L387.3 318.0L389.0 317.6L390.7 317.8L392.4 318.3L394.1 317.5L395.8 317.6L397.5 317.7L399.2 317.5L400.9 317.5L402.6 317.9L404.3 318.4L406.0 318.4L407.7 317.4L409.4 317.6L411.1 317.9L412.8 318.0L414.5 317.9L416.2 317.9L417.9 318.0L419.6 318.1L421.3 317.1L423.0 317.8L424.7 318.1L426.4 318.4L428.1 318.2L429.8 317.7L431.5 317.7L433.2 318.0L434.9 317.9L436.6 318.0L438.3 318.3L440.0 317.5L441.7 317.8L443.4 317.1L445.1 318.2L446.8 318.0L448.5 317.6L450.2 318.0L451.9 318.4L453.6 318.3L455.3 317.9L457.0 317.8L458.7 318.0L460.4 317.6L462.1 317.6L463.8 317.8L465.5 317.9L467.2 318.0L468.9 317.8L470.6 317.6L472.3 317.9L474.0 317.8L475.7 318.1L477.4 318.5L479.1 318.3L479.4 317.7"/><path d="M94.0 159.2L94.3 159.1L94.6 158.5L94.9 157.6L95.2 156.2L95.5 154.3L95.8 141.1L96.1 124.3L96.4 112.2L96.7 111.0L97.0 111.3L97.3 112.0L97.6 112.7L97.9 113.6L98.2 114.5L98.5 115.7L98.8 117.2L99.1 119.2L99.4 121.8L99.7 126.9L100.0 133.4L100.3 140.4L100.6 148.7L100.9 157.0L101.2 163.9L101.5 170.2L101.8 176.1L102.1 181.7L102.4 186.8L102.7 191.3L103.0 195.2L103.3 198.6L103.6 201.7L103.9 204.5L104.2 207.1L104.5 209.5L104.8 211.6L105.1 213.7L105.4 215.5L105.7 217.1L106.0 220.9L107.7 231.0L109.4 238.6L111.1 241.5L112.8 248.7L114.5 254.7L116.2 257.5L117.9 260.7L119.6 267.7L121.3 268.6L123.0 271.6L124.7 273.9L126.4 275.7L128.1 277.9L129.8 277.7L131.5 280.0L133.2 281.5L134.9 281.6L136.6 283.0L138.3 284.3L140.0 283.2L141.7 278.7L143.4 277.0L145.1 274.7L146.8 272.5L148.5 275.1L150.2 278.7L151.9 280.1L153.6 282.5L155.3 285.9L157.0 286.8L158.7 288.3L160.4 290.1L162.1 292.0L163.8 292.1L165.5 294.2L167.2 295.5L168.9 296.4L170.6 296.8L172.3 297.3L174.0 298.0L175.7 299.4L177.4 300.8L179.1 301.3L180.8 302.1L182.5 302.4L184.2 303.8L185.9 303.4L187.6 303.6L189.3 304.5L191.0 304.6L192.7 305.7L194.4 306.3L196.1 306.2L197.8 305.6L199.5 306.0L201.2 307.0L202.9 306.5L204.6 307.4L206.3 307.0L208.0 307.6L209.7 308.1L211.4 307.9L213.1 308.6L214.8 308.8L216.5 309.1L218.2 308.6L219.9 308.8L221.6 308.9L223.3 309.2L225.0 308.6L226.7 309.4L228.4 309.6L230.1 309.0L231.8 309.0L233.5 309.5L235.2 310.3L236.9 310.0L238.6 309.7L240.3 310.0L242.0 309.5L243.7 310.6L245.4 310.0L247.1 310.6L248.8 309.9L250.5 310.5L252.2 310.2L253.9 310.9L255.6 311.2L257.3 311.2L259.0 311.0L260.7 311.3L262.4 310.5L264.1 310.6L265.8 311.0L267.5 311.5L269.2 311.2L270.9 311.5L272.6 310.8L274.3 311.2L276.0 311.2L277.7 311.6L279.4 312.2L281.1 311.8L282.8 311.9L284.5 311.4L286.2 311.6L287.9 311.9L289.6 311.8L291.3 311.1L293.0 312.1L294.7 312.1L296.4 311.8L298.1 312.0L299.8 312.0L301.5 311.6L303.2 311.2L304.9 312.5L306.6 311.9L308.3 311.9L310.0 311.9L311.7 312.0L313.4 312.1L315.1 311.6L316.8 312.1L318.5 312.0L320.2 312.0L321.9 312.0L323.6 312.1L325.3 311.7L327.0 312.0L328.7 312.0L330.4 312.0L332.1 312.4L333.8 312.3L335.5 312.4L337.2 312.0L338.9 312.3L340.6 312.4L342.3 312.0L344.0 311.9L345.7 312.7L347.4 311.5L349.1 312.1L350.8 312.1L352.5 311.7L354.2 312.1L355.9 312.3L357.6 311.3L359.3 312.5L361.0 312.1L362.7 311.8L364.4 312.5L366.1 312.1L367.8 312.0L369.5 311.3L371.2 312.4L372.9 312.1L374.6 311.9L376.3 312.1L378.0 312.5L379.7 312.0L381.4 312.1L383.1 312.0L384.8 311.7L386.5 311.8L388.2 312.0L389.9 312.0L391.6 312.5L393.3 312.2L395.0 312.1L396.7 312.3L398.4 312.1L400.1 312.4L401.8 311.6L403.5 311.4L405.2 312.3L406.9 312.0L408.6 312.2L410.3 311.7L412.0 312.0L413.7 312.1L415.4 312.2L417.1 312.1L418.8 312.5L420.5 311.9L422.2 312.4L423.9 312.0L425.6 312.1L427.3 311.8L429.0 312.2L430.7 311.8L432.4 312.5L434.1 312.0L435.8 312.3L437.5 312.1L439.2 312.2L440.9 311.9L442.6 312.9L444.3 312.1L446.0 312.7L447.7 311.8L449.4 312.9L451.1 312.6L452.8 312.8L454.5 311.6L456.2 312.7L457.9 312.2L459.6 312.4L461.3 312.8L463.0 312.3L464.7 312.0L466.4 312.3L468.1 311.9L469.8 312.4L471.5 312.2L473.2 312.4L474.9 312.1L476.6 311.6L478.3 312.1L480.0 312.2L481.7 312.5L482.0 312.5"/><path d="M96.7 153.5L97.0 153.3L97.3 152.7L97.6 151.7L97.9 150.2L98.2 148.0L98.5 132.6L98.8 116.7L99.1 105.9L99.4 105.5L99.7 105.9L100.0 106.5L100.3 107.3L100.6 108.2L100.9 109.1L101.2 110.4L101.5 111.9L101.8 114.0L102.1 116.9L102.4 122.3L102.7 128.9L103.0 136.0L103.3 144.3L103.6 152.4L103.9 159.0L104.2 165.1L104.5 170.9L104.8 176.3L105.1 181.2L105.4 185.6L105.7 189.5L106.0 192.9L106.3 196.0L106.6 198.8L106.9 201.4L107.2 203.7L107.5 205.9L107.8 208.0L108.1 209.8L108.4 211.4L108.7 215.2L110.4 224.6L112.1 230.0L113.8 236.6L115.5 243.1L117.2 248.7L118.9 253.3L120.6 256.5L122.3 260.5L124.0 262.1L125.7 265.1L127.4 268.7L129.1 270.9L130.8 271.3L132.5 273.1L134.2 275.1L135.9 277.7L137.6 279.1L139.3 277.8L141.0 278.3L142.7 277.0L144.4 276.2L146.1 270.8L147.8 269.5L149.5 265.5L151.2 266.5L152.9 270.9L154.6 273.5L156.3 276.5L158.0 278.2L159.7 280.7L161.4 281.5L163.1 283.3L164.8 284.3L166.5 285.8L168.2 287.5L169.9 288.1L171.6 289.5L173.3 290.1L175.0 291.2L176.7 292.8L178.4 293.2L180.1 294.0L181.8 295.0L183.5 295.1L185.2 295.4L186.9 297.1L188.6 297.7L190.3 299.2L192.0 298.6L193.7 299.2L195.4 300.5L197.1 299.6L198.8 299.8L200.5 300.8L202.2 300.9L203.9 301.5L205.6 300.9L207.3 302.1L209.0 301.9L210.7 301.3L212.4 302.2L214.1 302.2L215.8 302.6L217.5 303.1L219.2 302.8L220.9 302.8L222.6 303.4L224.3 303.1L226.0 302.8L227.7 303.0L229.4 304.0L231.1 303.9L232.8 304.3L234.5 303.4L236.2 303.7L237.9 303.7L239.6 304.4L241.3 304.6L243.0 304.2L244.7 304.3L246.4 304.7L248.1 304.5L249.8 304.4L251.5 304.6L253.2 305.1L254.9 305.6L256.6 305.0L258.3 304.9L260.0 305.1L261.7 305.3L263.4 305.4L265.1 305.0L266.8 305.3L268.5 305.3L270.2 305.7L271.9 305.7L273.6 305.4L275.3 305.9L277.0 306.0L278.7 305.8L280.4 305.3L282.1 305.7L283.8 305.3L285.5 305.9L287.2 306.0L288.9 306.4L290.6 306.1L292.3 305.4L294.0 305.9L295.7 305.7L297.4 305.8L299.1 306.0L300.8 306.1L302.5 306.0L304.2 305.9L305.9 306.0L307.6 306.0L309.3 306.1L311.0 306.4L312.7 306.3L314.4 306.5L316.1 305.9L317.8 307.0L319.5 306.3L321.2 305.4L322.9 306.4L324.6 306.7L326.3 306.3L328.0 305.8L329.7 306.3L331.4 306.1L333.1 306.3L334.8 306.4L336.5 305.2L338.2 306.3L339.9 306.5L341.6 306.5L343.3 306.2L345.0 306.2L346.7 306.1L348.4 306.3L350.1 306.8L351.8 306.2L353.5 306.5L355.2 306.5L356.9 306.9L358.6 306.6L360.3 306.6L362.0 306.4L363.7 306.9L365.4 306.4L367.1 306.3L368.8 306.8L370.5 306.6L372.2 306.7L373.9 306.1L375.6 307.3L377.3 306.5L379.0 307.0L380.7 306.5L382.4 306.1L384.1 306.6L385.8 306.3L387.5 306.7L389.2 305.7L390.9 306.1L392.6 306.0L394.3 306.9L396.0 306.8L397.7 306.0L399.4 306.5L401.1 306.5L402.8 306.3L404.5 306.9L406.2 306.2L407.9 306.4L409.6 306.3L411.3 306.7L413.0 306.3L414.7 306.7L416.4 306.1L418.1 306.0L419.8 306.1L421.5 306.3L423.2 306.2L424.9 307.4L426.6 306.2L428.3 306.5L430.0 306.4L431.7 306.6L433.4 306.9L435.1 306.6L436.8 306.2L438.5 306.0L440.2 306.7L441.9 306.8L443.6 306.0L445.3 306.8L447.0 305.7L448.7 306.5L450.4 306.8L452.1 306.1L453.8 305.9L455.5 307.0L457.2 305.9L458.9 306.6L460.6 306.0L462.3 306.6L464.0 307.0L465.7 306.3L467.4 306.2L469.1 305.8L470.8 305.9L472.5 306.3L474.2 306.6L475.9 306.7L477.6 306.6L479.3 306.8L481.0 306.6L482.7 307.4L484.4 306.4L484.7 306.5"/><path d="M99.4 147.8L99.7 147.6L100.0 147.0L100.3 145.9L100.6 144.3L100.9 141.1L101.2 124.1L101.5 109.2L101.8 100.0L102.1 100.0L102.4 100.5L102.7 101.1L103.0 101.9L103.3 102.8L103.6 103.8L103.9 105.0L104.2 106.7L104.5 108.8L104.8 112.0L105.1 117.6L105.4 124.3L105.7 131.6L106.0 139.8L106.3 147.7L106.6 154.1L106.9 160.1L107.2 165.6L107.5 170.9L107.8 175.6L108.1 180.0L108.4 183.8L108.7 187.1L109.0 190.2L109.3 193.0L109.6 195.6L109.9 198.0L110.2 200.2L110.5 202.2L110.8 204.0L111.1 205.7L111.4 208.1L113.1 219.9L114.8 225.1L116.5 232.7L118.2 236.2L119.9 244.6L121.6 247.1L123.3 253.6L125.0 255.8L126.7 257.1L128.4 261.6L130.1 262.8L131.8 265.3L133.5 268.9L135.2 267.6L136.9 268.8L138.6 271.6L140.3 270.9L142.0 273.3L143.7 273.3L145.4 269.9L147.1 268.3L148.8 262.8L150.5 264.4L152.2 259.6L153.9 258.4L155.6 264.9L157.3 267.7L159.0 268.3L160.7 271.2L162.4 273.0L164.1 274.5L165.8 276.9L167.5 278.7L169.2 280.9L170.9 280.6L172.6 282.3L174.3 282.8L176.0 283.9L177.7 285.8L179.4 285.2L181.1 286.5L182.8 287.5L184.5 289.3L186.2 289.7L187.9 290.5L189.6 291.1L191.3 292.1L193.0 291.9L194.7 292.5L196.4 292.9L198.1 293.8L199.8 293.3L201.5 294.2L203.2 296.0L204.9 295.3L206.6 295.3L208.3 295.1L210.0 295.9L211.7 296.1L213.4 296.5L215.1 296.3L216.8 296.8L218.5 297.0L220.2 297.2L221.9 296.9L223.6 297.4L225.3 297.9L227.0 297.2L228.7 297.8L230.4 297.5L232.1 297.6L233.8 297.4L235.5 297.6L237.2 298.3L238.9 298.2L240.6 298.7L242.3 297.8L244.0 298.3L245.7 298.1L247.4 298.7L249.1 299.4L250.8 298.3L252.5 295.6L254.2 298.9L255.9 299.0L257.6 298.9L259.3 299.0L261.0 299.8L262.7 298.9L264.4 299.6L266.1 299.6L267.8 298.9L269.5 299.2L271.2 299.7L272.9 300.3L274.6 299.7L276.3 299.6L278.0 299.9L279.7 300.3L281.4 300.2L283.1 300.4L284.8 299.9L286.5 299.8L288.2 299.7L289.9 300.4L291.6 300.1L293.3 300.0L295.0 300.4L296.7 300.3L298.4 299.5L300.1 300.2L301.8 300.0L303.5 300.5L305.2 300.3L306.9 301.0L308.6 300.4L310.3 300.0L312.0 299.7L313.7 300.0L315.4 300.2L317.1 300.4L318.8 300.7L320.5 300.5L322.2 300.3L323.9 300.8L325.6 300.2L327.3 300.9L329.0 301.2L330.7 300.9L332.4 301.1L334.1 301.0L335.8 300.2L337.5 300.6L339.2 300.5L340.9 300.2L342.6 300.1L344.3 300.8L346.0 300.1L347.7 300.5L349.4 300.6L351.1 300.5L352.8 301.1L354.5 300.9L356.2 300.7L357.9 300.4L359.6 300.8L361.3 300.7L363.0 300.3L364.7 300.1L366.4 300.4L368.1 300.2L369.8 300.8L371.5 300.8L373.2 300.5L374.9 300.8L376.6 300.8L378.3 300.1L380.0 300.7L381.7 301.0L383.4 300.5L385.1 300.0L386.8 300.6L388.5 300.2L390.2 300.8L391.9 300.8L393.6 300.9L395.3 300.7L397.0 300.0L398.7 301.1L400.4 300.1L402.1 301.0L403.8 300.8L405.5 300.4L407.2 300.5L408.9 300.6L410.6 301.3L412.3 300.6L414.0 301.1L415.7 299.8L417.4 300.8L419.1 300.6L420.8 301.1L422.5 300.9L424.2 301.2L425.9 300.4L427.6 300.8L429.3 300.5L431.0 301.0L432.7 300.9L434.4 300.3L436.1 301.1L437.8 301.4L439.5 300.6L441.2 301.1L442.9 300.9L444.6 300.4L446.3 301.0L448.0 300.4L449.7 301.0L451.4 300.2L453.1 300.3L454.8 300.9L456.5 300.8L458.2 301.0L459.9 300.7L461.6 300.4L463.3 301.3L465.0 300.4L466.7 301.2L468.4 301.1L470.1 301.4L471.8 300.0L473.5 300.7L475.2 300.7L476.9 301.0L478.6 300.4L480.3 301.5L482.0 300.8L483.7 300.0L485.4 300.9L487.1 300.8L487.4 300.5"/><path d="M102.0 142.0L102.3 141.8L102.7 141.2L102.9 140.0L103.2 138.3L103.5 133.8L103.8 115.8L104.1 101.7L104.5 94.4L104.8 94.6L105.0 95.1L105.3 95.7L105.6 96.6L106.0 97.4L106.2 98.4L106.5 99.7L106.8 101.4L107.1 103.6L107.5 107.1L107.8 113.0L108.0 119.7L108.3 127.1L108.6 135.4L109.0 143.0L109.2 149.2L109.5 154.9L109.8 160.4L110.1 165.4L110.5 170.1L110.8 174.3L111.0 178.0L111.3 181.4L111.6 184.5L112.0 187.3L112.2 189.9L112.5 192.2L112.8 194.5L113.1 196.5L113.5 198.3L113.8 199.9L114.0 204.7L115.8 213.5L117.5 218.8L119.1 225.7L120.8 232.4L122.5 239.2L124.2 241.7L125.9 245.1L127.6 248.1L129.3 252.5L131.1 253.9L132.8 258.2L134.4 258.9L136.1 261.4L137.8 262.0L139.5 262.7L141.2 263.6L142.9 266.8L144.6 265.4L146.3 268.1L148.0 266.5L149.8 263.2L151.4 262.2L153.1 258.3L154.8 255.6L156.5 253.8L158.2 255.7L159.9 259.7L161.6 262.2L163.3 265.5L165.0 266.9L166.7 269.3L168.4 270.8L170.1 272.1L171.8 273.3L173.5 275.4L175.2 276.6L176.9 277.0L178.6 277.7L180.3 278.8L182.0 279.6L183.8 280.3L185.4 281.7L187.1 282.8L188.8 284.1L190.5 284.8L192.2 285.3L193.9 285.5L195.6 286.2L197.3 286.8L199.0 287.4L200.7 287.4L202.4 288.0L204.1 288.4L205.8 288.7L207.5 289.5L209.2 290.0L210.9 289.6L212.6 289.9L214.3 290.4L216.0 290.7L217.7 290.0L219.4 291.2L221.1 291.2L222.8 291.1L224.5 291.8L226.2 291.4L227.9 291.0L229.6 291.4L231.3 291.6L233.0 291.7L234.7 292.0L236.4 291.8L238.1 292.3L239.8 292.5L241.5 292.4L243.2 292.2L244.9 292.5L246.6 292.5L248.3 293.5L250.0 292.5L251.7 292.2L253.4 292.6L255.1 293.3L256.8 293.5L258.5 293.2L260.2 293.7L261.9 293.2L263.6 293.7L265.3 293.2L267.0 293.2L268.7 294.4L270.4 293.7L272.1 294.1L273.8 294.4L275.5 294.2L277.2 294.1L278.9 293.7L280.6 294.6L282.3 293.8L284.0 293.5L285.7 294.0L287.4 294.1L289.1 294.3L290.8 294.8L292.5 294.2L294.2 294.3L295.9 294.2L297.6 293.6L299.3 294.3L301.0 294.4L302.7 294.0L304.4 295.0L306.1 295.0L307.8 294.8L309.5 294.9L311.2 294.4L312.9 294.8L314.6 294.1L316.3 294.2L318.0 294.5L319.7 294.9L321.4 294.5L323.1 294.5L324.8 295.1L326.5 294.7L328.2 294.5L329.9 294.7L331.6 294.3L333.3 294.4L335.0 295.1L336.7 294.8L338.4 295.1L340.1 294.6L341.8 295.2L343.5 294.5L345.2 294.7L346.9 294.5L348.6 294.9L350.3 295.4L352.0 294.3L353.7 294.9L355.4 294.4L357.1 294.7L358.8 294.7L360.5 294.3L362.2 294.8L363.9 294.4L365.6 295.4L367.3 294.6L369.0 295.0L370.7 295.0L372.4 294.9L374.1 294.8L375.8 294.3L377.5 295.6L379.2 294.9L380.9 295.2L382.6 294.5L384.3 295.1L386.0 294.8L387.7 295.1L389.4 294.7L391.1 294.6L392.8 295.1L394.5 294.9L396.2 295.4L397.9 294.8L399.6 294.6L401.3 295.1L403.0 294.6L404.7 295.7L406.4 295.6L408.1 295.4L409.8 295.1L411.5 295.0L413.2 295.0L414.9 295.0L416.6 294.7L418.3 295.1L420.0 295.4L421.7 295.4L423.4 294.2L425.1 295.8L426.8 295.0L428.5 294.5L430.2 294.8L431.9 295.3L433.6 295.0L435.3 294.7L437.0 294.6L438.7 295.3L440.4 294.7L442.1 294.9L443.8 294.6L445.5 294.5L447.2 295.1L448.9 295.5L450.6 294.9L452.3 294.4L454.0 294.8L455.7 294.9L457.4 294.2L459.1 295.4L460.8 294.7L462.5 295.2L464.2 295.0L465.9 295.0L467.6 294.5L469.3 295.4L471.0 295.2L472.7 295.6L474.4 294.9L476.1 295.2L477.8 294.9L479.5 295.4L481.2 295.2L482.9 294.7L484.6 295.1L486.3 294.8L488.0 294.9L489.7 295.2L490.1 295.6"/><path d="M104.7 136.3L105.0 136.1L105.3 135.4L105.6 134.1L105.9 132.3L106.2 126.1L106.5 107.6L106.8 94.4L107.1 88.9L107.4 89.1L107.7 89.6L108.0 90.3L108.3 91.2L108.6 92.0L108.9 93.1L109.2 94.5L109.5 96.2L109.8 98.5L110.1 102.3L110.4 108.5L110.7 115.1L111.0 122.7L111.3 130.9L111.6 138.2L111.9 144.2L112.2 149.8L112.5 155.1L112.8 160.0L113.1 164.5L113.4 168.6L113.7 172.3L114.0 175.6L114.3 178.7L114.6 181.5L114.9 184.1L115.2 186.5L115.5 188.7L115.8 190.8L116.1 192.6L116.4 194.2L116.7 196.8L118.4 208.7L120.1 215.4L121.8 220.8L123.5 225.6L125.2 232.4L126.9 235.6L128.6 241.2L130.3 245.2L132.0 247.4L133.7 249.3L135.4 252.4L137.1 253.0L138.8 253.1L140.5 257.1L142.2 257.7L143.9 257.5L145.6 260.7L147.3 261.9L149.0 263.1L150.7 261.5L152.4 258.8L154.1 257.0L155.8 254.2L157.5 250.4L159.2 248.2L160.9 251.0L162.6 252.9L164.3 255.8L166.0 258.1L167.7 260.8L169.4 263.0L171.1 264.6L172.8 266.7L174.5 267.2L176.2 268.8L177.9 269.4L179.6 271.3L181.3 272.1L183.0 273.4L184.7 274.5L186.4 274.6L188.1 276.1L189.8 276.6L191.5 278.2L193.2 278.4L194.9 280.0L196.6 280.0L198.3 280.7L200.0 280.7L201.7 281.4L203.4 282.0L205.1 281.9L206.8 282.6L208.5 282.8L210.2 283.1L211.9 283.8L213.6 284.2L215.3 284.2L217.0 284.7L218.7 284.7L220.4 284.6L222.1 284.9L223.8 285.5L225.5 286.0L227.2 285.7L228.9 285.8L230.6 285.5L232.3 286.1L234.0 286.2L235.7 286.0L237.4 286.5L239.1 286.5L240.8 285.9L242.5 286.1L244.2 286.5L245.9 286.7L247.6 287.3L249.3 286.8L251.0 287.1L252.7 287.1L254.4 287.4L256.1 287.4L257.8 287.5L259.5 287.4L261.2 287.1L262.9 287.5L264.6 288.3L266.3 288.1L268.0 288.4L269.7 288.2L271.4 287.8L273.1 287.9L274.8 286.4L276.5 288.1L278.2 288.5L279.9 288.8L281.6 288.8L283.3 288.7L285.0 287.9L286.7 288.9L288.4 288.1L290.1 288.1L291.8 288.7L293.5 288.7L295.2 288.9L296.9 288.7L298.6 288.5L300.3 288.8L302.0 288.4L303.7 288.4L305.4 288.7L307.1 288.8L308.8 288.9L310.5 288.8L312.2 289.3L313.9 288.8L315.6 288.9L317.3 289.3L319.0 288.2L320.7 289.3L322.4 289.3L324.1 288.9L325.8 289.7L327.5 289.3L329.2 289.6L330.9 289.4L332.6 289.1L334.3 289.0L336.0 288.7L337.7 288.8L339.4 288.7L341.1 288.9L342.8 289.3L344.5 288.7L346.2 289.3L347.9 289.4L349.6 288.6L351.3 288.9L353.0 289.1L354.7 288.9L356.4 288.9L358.1 289.6L359.8 289.2L361.5 289.6L363.2 289.1L364.9 289.4L366.6 288.7L368.3 289.0L370.0 289.5L371.7 289.2L373.4 289.6L375.1 289.2L376.8 289.0L378.5 289.1L380.2 289.9L381.9 289.3L383.6 289.0L385.3 289.1L387.0 288.8L388.7 289.7L390.4 289.0L392.1 289.5L393.8 289.2L395.5 289.1L397.2 289.0L398.9 289.4L400.6 289.2L402.3 289.6L404.0 289.7L405.7 289.0L407.4 289.3L409.1 289.8L410.8 289.5L412.5 289.2L414.2 288.7L415.9 288.9L417.6 289.0L419.3 289.9L421.0 289.3L422.7 289.1L424.4 289.1L426.1 289.1L427.8 289.4L429.5 288.7L431.2 288.8L432.9 289.3L434.6 289.6L436.3 288.6L438.0 289.5L439.7 288.9L441.4 288.6L443.1 289.6L444.8 289.2L446.5 289.4L448.2 289.1L449.9 289.2L451.6 288.6L453.3 289.1L455.0 289.3L456.7 288.9L458.4 289.4L460.1 289.4L461.8 288.5L463.5 289.6L465.2 289.5L466.9 289.3L468.6 289.7L470.3 290.1L472.0 289.0L473.7 289.6L475.4 289.5L477.1 289.5L478.8 289.7L480.5 289.7L482.2 289.3L483.9 288.5L485.6 289.1L487.3 289.1L489.0 289.9L490.7 289.3L492.4 289.8L492.7 289.1"/><path d="M107.4 130.6L107.7 130.3L108.0 129.6L108.3 128.3L108.6 126.3L108.9 118.1L109.2 99.6L109.5 87.3L109.8 83.4L110.1 83.7L110.4 84.2L110.7 84.9L111.0 85.8L111.3 86.7L111.6 87.8L111.9 89.2L112.2 91.0L112.5 93.3L112.8 97.6L113.1 103.9L113.4 110.5L113.7 118.3L114.0 126.3L114.3 133.3L114.6 139.1L114.9 144.6L115.2 149.8L115.5 154.5L115.8 158.9L116.1 162.9L116.4 166.6L116.7 169.9L117.0 172.9L117.3 175.8L117.6 178.4L117.9 180.8L118.2 183.0L118.5 185.1L118.8 186.8L119.1 188.5L119.4 189.8L121.1 201.8L122.8 206.6L124.5 214.7L126.2 221.0L127.9 228.8L129.6 229.9L131.3 235.2L133.0 235.7L134.7 240.8L136.4 243.4L138.1 247.7L139.8 246.1L141.5 249.7L143.2 251.0L144.9 254.4L146.6 252.3L148.3 253.3L150.0 256.0L151.7 256.1L153.4 256.7L155.1 253.6L156.8 251.9L158.5 247.7L160.2 247.2L161.9 245.0L163.6 242.8L165.3 248.6L167.0 249.5L168.7 251.3L170.4 254.0L172.1 256.6L173.8 257.7L175.5 260.5L177.2 261.0L178.9 261.9L180.6 263.0L182.3 264.9L184.0 265.2L185.7 265.8L187.4 268.0L189.1 268.4L190.8 270.6L192.5 271.7L194.2 271.3L195.9 272.4L197.6 273.1L199.3 274.2L201.0 274.6L202.7 274.7L204.4 274.7L206.1 276.2L207.8 277.3L209.5 276.3L211.2 277.0L212.9 277.3L214.6 277.9L216.3 277.1L218.0 278.5L219.7 278.7L221.4 279.7L223.1 279.5L224.8 279.7L226.5 279.7L228.2 279.7L229.9 280.2L231.6 279.4L233.3 280.5L235.0 280.4L236.7 280.3L238.4 280.9L240.1 280.4L241.8 280.5L243.5 280.9L245.2 280.2L246.9 281.0L248.6 281.0L250.3 281.5L252.0 281.9L253.7 281.6L255.4 281.6L257.1 281.7L258.8 281.4L260.5 282.5L262.2 282.2L263.9 282.5L265.6 281.5L267.3 282.2L269.0 282.2L270.7 282.5L272.4 281.9L274.1 282.4L275.8 282.2L277.5 283.1L279.2 282.0L280.9 282.4L282.6 282.4L284.3 282.2L286.0 282.7L287.7 282.8L289.4 282.5L291.1 282.6L292.8 282.9L294.5 282.9L296.2 283.1L297.9 282.7L299.6 282.6L301.3 283.0L303.0 282.4L304.7 283.6L306.4 283.2L308.1 282.5L309.8 283.3L311.5 283.7L313.2 282.7L314.9 283.0L316.6 283.6L318.3 283.0L320.0 283.6L321.7 283.7L323.4 283.3L325.1 283.5L326.8 283.7L328.5 283.4L330.2 283.7L331.9 283.3L333.6 283.4L335.3 283.1L337.0 283.5L338.7 283.8L340.4 283.8L342.1 283.5L343.8 282.9L345.5 283.1L347.2 283.6L348.9 283.1L350.6 283.8L352.3 283.1L354.0 283.6L355.7 283.2L357.4 283.2L359.1 283.5L360.8 283.3L362.5 283.8L364.2 283.5L365.9 283.1L367.6 282.0L369.3 283.2L371.0 283.4L372.7 283.8L374.4 283.1L376.1 284.0L377.8 283.7L379.5 283.3L381.2 283.9L382.9 282.9L384.6 283.1L386.3 283.7L388.0 283.7L389.7 283.9L391.4 284.0L393.1 283.3L394.8 283.3L396.5 283.4L398.2 283.4L399.9 283.7L401.6 283.4L403.3 284.0L405.0 283.5L406.7 283.0L408.4 283.0L410.1 283.7L411.8 283.6L413.5 283.0L415.2 282.9L416.9 284.0L418.6 283.7L420.3 283.4L422.0 283.1L423.7 283.8L425.4 283.3L427.1 283.6L428.8 282.7L430.5 283.4L432.2 283.6L433.9 283.7L435.6 283.2L437.3 283.3L439.0 283.9L440.7 283.5L442.4 284.0L444.1 283.8L445.8 284.0L447.5 284.0L449.2 283.8L450.9 283.9L452.6 283.4L454.3 283.3L456.0 283.6L457.7 284.0L459.4 283.3L461.1 284.3L462.8 284.3L464.5 283.3L466.2 283.3L467.9 283.2L469.6 283.7L471.3 284.0L473.0 283.8L474.7 283.4L476.4 283.9L478.1 283.8L479.8 284.1L481.5 284.0L483.2 283.3L484.9 283.4L486.6 284.0L488.3 284.0L490.0 283.8L491.7 283.4L493.4 284.0L495.1 283.7L495.4 284.4"/><path d="M110.1 124.9L110.4 124.6L110.7 123.8L111.0 122.3L111.3 120.3L111.6 109.8L111.9 92.1L112.2 80.4L112.5 77.9L112.8 78.2L113.1 78.8L113.4 79.6L113.7 80.4L114.0 81.3L114.3 82.4L114.6 83.9L114.9 85.8L115.2 88.2L115.5 92.9L115.8 99.3L116.1 106.0L116.4 113.8L116.7 121.7L117.0 128.4L117.3 134.1L117.6 139.4L117.9 144.4L118.2 149.0L118.5 153.3L118.8 157.3L119.1 160.8L119.4 164.1L119.7 167.2L120.0 170.0L120.3 172.6L120.6 175.0L120.9 177.3L121.2 179.3L121.5 181.1L121.8 182.7L122.1 186.5L123.8 196.4L125.5 202.7L127.2 207.3L128.9 216.0L130.6 219.3L132.3 225.5L134.0 227.4L135.7 232.0L137.4 234.1L139.1 237.3L140.8 238.9L142.5 241.8L144.2 244.4L145.9 244.3L147.6 245.6L149.3 245.3L151.0 250.7L152.7 249.8L154.4 249.4L156.1 252.7L157.8 250.0L159.5 245.0L161.2 243.1L162.9 243.0L164.6 238.0L166.3 235.7L168.0 238.0L169.7 242.0L171.4 244.9L173.1 247.9L174.8 249.9L176.5 251.0L178.2 252.9L179.9 253.5L181.6 255.9L183.3 258.2L185.0 258.3L186.7 259.2L188.4 260.3L190.1 261.5L191.8 263.0L193.5 262.9L195.2 264.9L196.9 265.1L198.6 266.5L200.3 267.7L202.0 267.2L203.7 269.8L205.4 269.6L207.1 269.5L208.8 270.4L210.5 270.3L212.2 271.1L213.9 271.7L215.6 270.8L217.3 272.3L219.0 272.6L220.7 273.2L222.4 273.3L224.1 273.1L225.8 273.3L227.5 273.7L229.2 274.1L230.9 273.8L232.6 274.8L234.3 274.4L236.0 274.5L237.7 274.8L239.4 274.6L241.1 275.0L242.8 275.1L244.5 274.3L246.2 274.8L247.9 274.7L249.6 275.2L251.3 275.0L253.0 275.2L254.7 275.1L256.4 274.8L258.1 275.8L259.8 275.7L261.5 275.9L263.2 277.2L264.9 276.5L266.6 276.1L268.3 276.0L270.0 276.5L271.7 275.9L273.4 275.9L275.1 276.6L276.8 276.0L278.5 276.0L280.2 276.5L281.9 277.0L283.6 276.2L285.3 276.9L287.0 277.0L288.7 276.9L290.4 277.1L292.1 276.6L293.8 276.8L295.5 276.7L297.2 276.9L298.9 277.4L300.6 277.3L302.3 276.9L304.0 277.4L305.7 276.3L307.4 277.4L309.1 277.5L310.8 277.0L312.5 277.1L314.2 277.4L315.9 277.5L317.6 277.3L319.3 277.2L321.0 277.2L322.7 277.6L324.4 277.4L326.1 277.2L327.8 277.3L329.5 278.6L331.2 277.9L332.9 277.9L334.6 277.7L336.3 277.5L338.0 277.3L339.7 277.4L341.4 277.7L343.1 277.6L344.8 277.0L346.5 277.9L348.2 277.5L349.9 277.1L351.6 277.5L353.3 278.4L355.0 277.5L356.7 277.8L358.4 277.7L360.1 277.3L361.8 277.5L363.5 277.8L365.2 277.4L366.9 277.5L368.6 277.7L370.3 277.6L372.0 277.6L373.7 277.8L375.4 277.9L377.1 277.7L378.8 278.1L380.5 278.2L382.2 277.3L383.9 277.8L385.6 277.7L387.3 277.8L389.0 277.7L390.7 277.7L392.4 277.7L394.1 278.0L395.8 277.4L397.5 278.0L399.2 277.4L400.9 278.4L402.6 278.1L404.3 277.4L406.0 277.8L407.7 278.0L409.4 277.6L411.1 278.1L412.8 277.7L414.5 278.5L416.2 277.9L417.9 278.0L419.6 277.6L421.3 277.5L423.0 278.1L424.7 277.2L426.4 278.0L428.1 278.5L429.8 278.6L431.5 277.2L433.2 277.8L434.9 278.0L436.6 278.1L438.3 278.2L440.0 277.3L441.7 277.8L443.4 277.2L445.1 277.9L446.8 278.6L448.5 277.5L450.2 277.9L451.9 277.9L453.6 277.3L455.3 277.9L457.0 277.4L458.7 277.8L460.4 278.1L462.1 277.6L463.8 278.0L465.5 277.4L467.2 277.5L468.9 277.8L470.6 277.6L472.3 277.6L474.0 277.9L475.7 277.5L477.4 277.9L479.1 277.6L480.8 278.2L482.5 277.8L484.2 277.7L485.9 278.1L487.6 278.0L489.3 278.0L491.0 277.6L492.7 278.1L494.4 277.7L496.1 277.3L497.8 277.7L498.1 278.4"/><path d="M112.7 119.1L113.0 118.8L113.3 117.9L113.6 116.4L113.9 114.2L114.2 101.4L114.5 84.7L114.8 73.8L115.1 72.4L115.4 72.8L115.7 73.4L116.0 74.2L116.3 75.0L116.6 75.9L116.9 77.1L117.2 78.6L117.5 80.6L117.8 83.2L118.1 88.2L118.4 94.7L118.7 101.5L119.0 109.3L119.3 117.1L119.6 123.5L119.9 129.0L120.2 134.2L120.5 139.1L120.8 143.6L121.1 147.7L121.4 151.6L121.7 155.1L122.0 158.4L122.3 161.4L122.6 164.2L122.9 166.9L123.2 169.3L123.5 171.5L123.8 173.6L124.1 175.4L124.4 177.0L124.7 179.5L126.4 191.0L128.1 196.1L129.8 202.1L131.5 209.2L133.2 212.5L134.9 218.7L136.6 223.5L138.3 226.5L140.0 228.7L141.7 230.9L143.4 233.6L145.1 234.8L146.8 236.2L148.5 240.5L150.2 241.1L151.9 242.7L153.6 242.7L155.3 242.3L157.0 244.0L158.7 246.7L160.4 245.2L162.1 241.2L163.8 240.3L165.5 237.3L167.2 234.3L168.9 234.0L170.6 230.7L172.3 235.0L174.0 237.9L175.7 241.3L177.4 243.4L179.1 245.2L180.8 246.4L182.5 247.9L184.2 249.2L185.9 249.7L187.6 251.1L189.3 253.3L191.0 254.5L192.7 254.4L194.4 256.5L196.1 256.7L197.8 257.6L199.5 259.7L201.2 260.4L202.9 261.1L204.6 262.3L206.3 263.1L208.0 263.4L209.7 263.4L211.4 264.5L213.1 264.9L214.8 265.5L216.5 266.3L218.2 265.3L219.9 267.6L221.6 267.0L223.3 266.8L225.0 267.8L226.7 267.3L228.4 267.3L230.1 268.3L231.8 268.1L233.5 268.7L235.2 268.2L236.9 268.5L238.6 268.6L240.3 268.3L242.0 268.7L243.7 268.5L245.4 268.9L247.1 269.6L248.8 269.2L250.5 269.2L252.2 270.0L253.9 269.1L255.6 269.7L257.3 269.7L259.0 270.2L260.7 269.9L262.4 269.9L264.1 270.3L265.8 270.2L267.5 271.0L269.2 269.9L270.9 270.8L272.6 271.3L274.3 270.9L276.0 270.9L277.7 270.5L279.4 271.1L281.1 270.7L282.8 271.2L284.5 270.2L286.2 270.8L287.9 270.4L289.6 271.5L291.3 270.9L293.0 271.6L294.7 271.1L296.4 271.1L298.1 271.9L299.8 271.8L301.5 271.8L303.2 272.0L304.9 271.7L306.6 271.9L308.3 272.1L310.0 271.5L311.7 271.4L313.4 272.1L315.1 271.8L316.8 271.7L318.5 271.8L320.2 272.0L321.9 271.4L323.6 271.5L325.3 271.5L327.0 271.9L328.7 271.1L330.4 271.2L332.1 272.0L333.8 271.9L335.5 271.4L337.2 272.1L338.9 271.7L340.6 271.9L342.3 272.1L344.0 272.0L345.7 272.4L347.4 272.1L349.1 272.6L350.8 271.1L352.5 271.4L354.2 271.5L355.9 271.8L357.6 271.6L359.3 271.5L361.0 271.6L362.7 271.6L364.4 272.3L366.1 271.8L367.8 272.2L369.5 272.4L371.2 272.4L372.9 271.8L374.6 271.6L376.3 272.5L378.0 271.4L379.7 271.5L381.4 272.1L383.1 272.2L384.8 272.0L386.5 271.7L388.2 272.1L389.9 272.4L391.6 271.9L393.3 272.7L395.0 272.0L396.7 271.6L398.4 271.9L400.1 271.7L401.8 271.8L403.5 271.8L405.2 272.0L406.9 272.3L408.6 272.1L410.3 272.1L412.0 271.6L413.7 271.5L415.4 271.9L417.1 272.3L418.8 272.3L420.5 272.1L422.2 271.6L423.9 271.9L425.6 272.1L427.3 272.3L429.0 271.7L430.7 272.0L432.4 272.1L434.1 272.0L435.8 271.5L437.5 272.1L439.2 271.5L440.9 271.6L442.6 272.0L444.3 271.8L446.0 272.1L447.7 272.4L449.4 272.2L451.1 272.4L452.8 271.9L454.5 272.1L456.2 271.9L457.9 271.8L459.6 273.2L461.3 272.0L463.0 272.7L464.7 272.0L466.4 272.4L468.1 272.1L469.8 271.6L471.5 272.7L473.2 272.0L474.9 272.1L476.6 272.8L478.3 271.9L480.0 272.1L481.7 272.3L483.4 272.4L485.1 271.0L486.8 272.3L488.5 272.7L490.2 272.4L491.9 272.2L493.6 272.3L495.3 272.2L497.0 272.5L498.7 271.9L500.4 272.3L500.7 272.6"/><path d="M115.4 113.4L115.7 113.1L116.0 112.1L116.3 110.5L116.6 108.0L116.9 92.9L117.2 77.3L117.5 67.4L117.8 67.0L118.1 67.4L118.4 68.0L118.7 68.8L119.0 69.6L119.3 70.6L119.6 71.8L119.9 73.4L120.2 75.4L120.5 78.2L120.8 83.6L121.1 90.2L121.4 97.0L121.7 104.9L122.0 112.4L122.3 118.5L122.6 123.9L122.9 129.0L123.2 133.7L123.5 138.1L123.8 142.1L124.1 145.9L124.4 149.4L124.7 152.6L125.0 155.7L125.3 158.5L125.6 161.1L125.9 163.5L126.2 165.8L126.5 167.9L126.8 169.7L127.1 171.3L127.4 173.2L129.1 185.1L130.8 191.3L132.5 194.9L134.2 204.0L135.9 208.3L137.6 213.3L139.3 217.7L141.0 221.9L142.7 223.5L144.4 226.9L146.1 227.4L147.8 229.1L149.5 233.5L151.2 234.1L152.9 235.2L154.6 237.3L156.3 238.3L158.0 238.0L159.7 239.2L161.4 241.6L163.1 240.6L164.8 237.0L166.5 236.2L168.2 233.4L169.9 228.2L171.6 225.9L173.3 226.4L175.0 228.7L176.7 231.1L178.4 234.7L180.1 236.5L181.8 238.5L183.5 239.7L185.2 242.7L186.9 244.0L188.6 244.8L190.3 244.9L192.0 246.7L193.7 248.7L195.4 248.8L197.1 249.8L198.8 251.4L200.5 252.5L202.2 253.1L203.9 253.6L205.6 255.0L207.3 255.6L209.0 256.6L210.7 257.5L212.4 258.3L214.1 258.3L215.8 259.1L217.5 259.5L219.2 259.4L220.9 260.0L222.6 260.2L224.3 261.7L226.0 261.1L227.7 261.7L229.4 262.1L231.1 262.3L232.8 261.8L234.5 262.1L236.2 262.8L237.9 263.1L239.6 262.8L241.3 263.1L243.0 262.5L244.7 263.7L246.4 263.9L248.1 263.5L249.8 263.5L251.5 263.5L253.2 263.4L254.9 263.1L256.6 264.0L258.3 264.2L260.0 264.7L261.7 264.1L263.4 263.9L265.1 264.4L266.8 264.0L268.5 264.5L270.2 264.0L271.9 264.5L273.6 265.1L275.3 265.0L277.0 265.4L278.7 265.5L280.4 264.9L282.1 264.8L283.8 264.4L285.5 265.2L287.2 265.3L288.9 265.7L290.6 265.0L292.3 265.3L294.0 265.7L295.7 265.3L297.4 265.3L299.1 266.2L300.8 265.4L302.5 265.6L304.2 265.8L305.9 265.9L307.6 265.2L309.3 265.3L311.0 265.2L312.7 266.3L314.4 266.1L316.1 265.6L317.8 266.4L319.5 266.2L321.2 266.6L322.9 265.3L324.6 265.6L326.3 265.9L328.0 266.0L329.7 266.2L331.4 266.2L333.1 265.9L334.8 266.3L336.5 265.7L338.2 266.3L339.9 266.4L341.6 265.7L343.3 266.2L345.0 266.0L346.7 266.3L348.4 267.0L350.1 266.0L351.8 266.7L353.5 265.8L355.2 266.7L356.9 266.9L358.6 266.1L360.3 266.1L362.0 266.2L363.7 266.6L365.4 265.9L367.1 266.7L368.8 266.4L370.5 266.5L372.2 266.4L373.9 265.9L375.6 266.5L377.3 266.1L379.0 266.0L380.7 266.9L382.4 266.7L384.1 266.4L385.8 266.5L387.5 266.2L389.2 266.9L390.9 266.0L392.6 266.0L394.3 266.3L396.0 266.8L397.7 266.3L399.4 266.5L401.1 266.1L402.8 266.3L404.5 266.0L406.2 266.4L407.9 265.8L409.6 267.1L411.3 266.6L413.0 266.1L414.7 266.8L416.4 266.0L418.1 266.7L419.8 266.3L421.5 266.6L423.2 266.5L424.9 266.3L426.6 266.4L428.3 266.4L430.0 265.6L431.7 266.3L433.4 266.7L435.1 266.0L436.8 266.0L438.5 265.9L440.2 265.7L441.9 266.7L443.6 266.0L445.3 265.9L447.0 266.3L448.7 266.3L450.4 267.4L452.1 266.5L453.8 265.7L455.5 267.0L457.2 266.5L458.9 266.3L460.6 266.2L462.3 265.8L464.0 267.0L465.7 266.3L467.4 266.1L469.1 266.8L470.8 266.4L472.5 265.7L474.2 265.9L475.9 266.2L477.6 267.3L479.3 266.4L481.0 266.2L482.7 266.5L484.4 266.4L486.1 265.3L487.8 266.5L489.5 266.7L491.2 266.3L492.9 266.5L494.6 266.5L496.3 266.4L498.0 266.1L499.7 266.3L501.4 266.8L503.1 266.4L503.4 266.2"/><path d="M118.1 107.7L118.4 107.3L118.7 106.3L119.0 104.5L119.3 101.3L119.6 84.4L119.9 70.0L120.2 61.5L120.5 61.5L120.8 61.9L121.1 62.6L121.4 63.4L121.7 64.2L122.0 65.2L122.3 66.5L122.6 68.1L122.9 70.2L123.2 73.3L123.5 79.0L123.8 85.6L124.1 92.5L124.4 100.3L124.7 107.7L125.0 113.5L125.3 118.8L125.6 123.7L125.9 128.3L126.2 132.5L126.5 136.5L126.8 140.2L127.1 143.7L127.4 146.9L127.7 149.9L128.0 152.7L128.3 155.4L128.6 157.8L128.9 160.1L129.2 162.1L129.5 163.9L129.8 165.6L130.1 167.7L131.8 177.4L133.5 186.2L135.2 188.8L136.9 198.2L138.6 203.1L140.3 206.6L142.0 214.2L143.7 214.2L145.4 218.3L147.1 220.7L148.8 223.9L150.5 224.3L152.2 227.5L153.9 228.8L155.6 229.6L157.3 231.6L159.0 229.7L160.7 233.7L162.4 234.0L164.1 234.4L165.8 234.9L167.5 231.8L169.2 229.3L170.9 227.9L172.6 225.4L174.3 222.4L176.0 219.1L177.7 220.5L179.4 224.6L181.1 228.2L182.8 228.5L184.5 231.2L186.2 233.2L187.9 234.7L189.6 236.6L191.3 238.1L193.0 239.1L194.7 240.3L196.4 241.7L198.1 243.3L199.8 243.9L201.5 244.6L203.2 246.2L204.9 247.0L206.6 249.0L208.3 248.9L210.0 249.7L211.7 251.0L213.4 252.0L215.1 251.6L216.8 252.7L218.5 252.6L220.2 253.6L221.9 253.5L223.6 254.4L225.3 255.4L227.0 255.0L228.7 255.4L230.4 255.3L232.1 256.0L233.8 256.2L235.5 256.0L237.2 256.1L238.9 256.4L240.6 256.4L242.3 256.7L244.0 256.8L245.7 256.8L247.4 257.1L249.1 257.4L250.8 257.4L252.5 256.8L254.2 257.7L255.9 257.9L257.6 258.0L259.3 258.0L261.0 258.0L262.7 258.6L264.4 259.0L266.1 258.3L267.8 259.1L269.5 258.5L271.2 258.6L272.9 258.3L274.6 258.2L276.3 258.8L278.0 259.2L279.7 259.5L281.4 259.4L283.1 259.2L284.8 260.0L286.5 259.3L288.2 259.4L289.9 259.2L291.6 259.6L293.3 259.5L295.0 259.9L296.7 259.8L298.4 260.3L300.1 259.7L301.8 259.3L303.5 259.8L305.2 259.8L306.9 260.3L308.6 259.5L310.3 260.3L312.0 259.8L313.7 260.0L315.4 260.4L317.1 259.8L318.8 260.2L320.5 260.1L322.2 260.0L323.9 260.2L325.6 260.4L327.3 260.1L329.0 260.4L330.7 260.3L332.4 260.5L334.1 260.9L335.8 260.6L337.5 260.5L339.2 260.4L340.9 260.0L342.6 261.0L344.3 260.4L346.0 261.2L347.7 260.8L349.4 260.6L351.1 261.2L352.8 261.1L354.5 260.4L356.2 260.4L357.9 260.5L359.6 260.8L361.3 259.7L363.0 260.5L364.7 260.8L366.4 259.9L368.1 260.3L369.8 260.6L371.5 260.1L373.2 260.5L374.9 260.3L376.6 260.4L378.3 260.9L380.0 260.2L381.7 260.5L383.4 260.9L385.1 260.8L386.8 260.2L388.5 260.7L390.2 260.5L391.9 260.3L393.6 260.5L395.3 261.1L397.0 260.3L398.7 260.2L400.4 260.2L402.1 260.0L403.8 260.4L405.5 260.3L407.2 260.0L408.9 260.7L410.6 260.0L412.3 260.0L414.0 260.3L415.7 259.9L417.4 260.3L419.1 260.9L420.8 260.2L422.5 260.5L424.2 260.4L425.9 260.5L427.6 260.1L429.3 260.4L431.0 260.8L432.7 260.4L434.4 260.3L436.1 260.8L437.8 260.7L439.5 260.7L441.2 260.8L442.9 260.5L444.6 260.2L446.3 259.9L448.0 260.2L449.7 260.3L451.4 260.2L453.1 260.1L454.8 260.7L456.5 260.4L458.2 260.5L459.9 260.7L461.6 260.8L463.3 260.8L465.0 260.7L466.7 261.1L468.4 260.4L470.1 260.6L471.8 260.6L473.5 260.5L475.2 260.4L476.9 260.8L478.6 260.7L480.3 261.2L482.0 261.4L483.7 261.3L485.4 260.1L487.1 261.3L488.8 260.5L490.5 260.1L492.2 260.8L493.9 260.1L495.6 260.0L497.3 260.3L499.0 259.8L500.7 260.4L502.4 260.9L504.1 260.5L505.8 260.8L506.1 261.1"/><path d="M120.7 101.9L121.0 101.6L121.3 100.4L121.6 98.5L121.9 94.0L122.2 76.0L122.5 62.7L122.8 55.9L123.1 56.0L123.4 56.5L123.7 57.2L124.0 58.0L124.3 58.9L124.6 59.9L124.9 61.2L125.2 62.9L125.5 65.0L125.8 68.5L126.1 74.4L126.4 80.9L126.7 88.0L127.0 95.8L127.3 102.9L127.6 108.5L127.9 113.6L128.2 118.4L128.5 122.9L128.8 127.0L129.1 130.9L129.4 134.5L129.7 137.9L130.0 141.1L130.3 144.2L130.6 147.0L130.9 149.6L131.2 152.1L131.5 154.3L131.8 156.4L132.1 158.2L132.4 159.8L132.7 165.1L134.4 171.9L136.1 180.8L137.8 185.7L139.5 191.9L141.2 198.3L142.9 203.2L144.6 207.9L146.3 207.6L148.0 212.2L149.7 214.6L151.4 214.8L153.1 219.0L154.8 220.0L156.5 222.0L158.2 222.1L159.9 224.0L161.6 225.2L163.3 226.8L165.0 227.1L166.7 227.0L168.4 231.2L170.1 228.5L171.8 226.2L173.5 223.4L175.2 222.5L176.9 217.0L178.6 216.0L180.3 213.4L182.0 217.4L183.7 221.0L185.4 223.0L187.1 225.8L188.8 227.1L190.5 228.4L192.2 229.7L193.9 231.0L195.6 232.4L197.3 232.5L199.0 234.6L200.7 236.7L202.4 237.6L204.1 238.8L205.8 239.6L207.5 240.9L209.2 242.0L210.9 241.7L212.6 243.4L214.3 244.4L216.0 245.1L217.7 245.7L219.4 245.5L221.1 246.5L222.8 246.7L224.5 249.3L226.2 248.0L227.9 248.1L229.6 248.0L231.3 249.3L233.0 250.2L234.7 249.7L236.4 250.3L238.1 251.0L239.8 250.7L241.5 250.3L243.2 250.4L244.9 250.7L246.6 251.5L248.3 250.4L250.0 251.8L251.7 251.5L253.4 252.1L255.1 251.3L256.8 251.7L258.5 251.6L260.2 252.0L261.9 252.2L263.6 252.2L265.3 253.0L267.0 252.1L268.7 252.2L270.4 252.8L272.1 252.7L273.8 252.7L275.5 252.4L277.2 252.8L278.9 253.1L280.6 253.3L282.3 253.8L284.0 253.5L285.7 253.4L287.4 253.5L289.1 253.5L290.8 253.3L292.5 253.5L294.2 253.6L295.9 253.5L297.6 253.8L299.3 253.9L301.0 253.8L302.7 254.6L304.4 253.6L306.1 254.5L307.8 253.8L309.5 254.2L311.2 253.8L312.9 254.2L314.6 254.6L316.3 253.9L318.0 254.3L319.7 254.3L321.4 254.4L323.1 254.1L324.8 254.2L326.5 254.4L328.2 255.0L329.9 254.6L331.6 254.5L333.3 253.9L335.0 254.4L336.7 254.6L338.4 254.2L340.1 254.6L341.8 254.6L343.5 254.6L345.2 255.2L346.9 254.3L348.6 254.5L350.3 254.8L352.0 255.1L353.7 254.6L355.4 254.2L357.1 254.9L358.8 255.1L360.5 254.6L362.2 255.3L363.9 255.5L365.6 254.9L367.3 255.0L369.0 254.8L370.7 254.9L372.4 254.6L374.1 254.8L375.8 255.0L377.5 254.9L379.2 254.5L380.9 254.4L382.6 254.5L384.3 254.5L386.0 255.9L387.7 255.1L389.4 254.9L391.1 254.7L392.8 255.3L394.5 254.3L396.2 254.7L397.9 255.0L399.6 254.7L401.3 254.9L403.0 255.1L404.7 254.6L406.4 255.0L408.1 255.3L409.8 255.0L411.5 254.8L413.2 255.2L414.9 254.4L416.6 255.2L418.3 254.2L420.0 254.5L421.7 255.1L423.4 254.8L425.1 254.4L426.8 254.9L428.5 255.2L430.2 254.8L431.9 254.1L433.6 255.4L435.3 254.6L437.0 254.8L438.7 254.9L440.4 255.0L442.1 255.0L443.8 254.5L445.5 254.6L447.2 255.2L448.9 254.3L450.6 255.3L452.3 254.6L454.0 254.8L455.7 254.4L457.4 254.7L459.1 254.5L460.8 254.9L462.5 254.5L464.2 254.7L465.9 254.1L467.6 255.1L469.3 254.5L471.0 254.7L472.7 254.8L474.4 255.1L476.1 254.7L477.8 255.4L479.5 255.4L481.2 254.6L482.9 255.4L484.6 254.4L486.3 255.0L488.0 254.8L489.7 254.9L491.4 254.7L493.1 255.0L494.8 255.0L496.5 254.9L498.2 254.5L499.9 254.5L501.6 254.5L503.3 254.8L505.0 255.0L506.7 255.5L508.4 254.7L508.7 254.6"/><path d="M123.4 96.2L123.7 95.8L124.0 94.6L124.3 92.5L124.6 86.3L124.9 67.8L125.2 55.5L125.5 50.4L125.8 50.6L126.1 51.1L126.4 51.8L126.7 52.6L127.0 53.5L127.3 54.5L127.6 55.9L127.9 57.6L128.2 59.9L128.5 63.7L128.8 69.8L129.1 76.3L129.4 83.5L129.7 91.2L130.0 98.0L130.3 103.4L130.6 108.4L130.9 113.1L131.2 117.4L131.5 121.5L131.8 125.3L132.1 128.8L132.4 132.2L132.7 135.4L133.0 138.4L133.3 141.2L133.6 143.9L133.9 146.3L134.2 148.6L134.5 150.7L134.8 152.5L135.1 154.1L135.4 157.1L137.1 165.6L138.8 174.2L140.5 178.6L142.2 186.6L143.9 191.6L145.6 193.9L147.3 201.7L149.0 202.4L150.7 205.4L152.4 211.1L154.1 212.7L155.8 214.1L157.5 213.8L159.2 216.7L160.9 217.7L162.6 218.0L164.3 219.6L166.0 220.5L167.7 221.9L169.4 221.2L171.1 224.0L172.8 221.6L174.5 221.0L176.2 218.8L177.9 214.6L179.6 212.2L181.3 212.1L183.0 207.2L184.7 210.3L186.4 213.4L188.1 215.3L189.8 218.3L191.5 219.6L193.2 221.6L194.9 221.9L196.6 224.3L198.3 226.2L200.0 227.5L201.7 228.7L203.4 229.4L205.1 230.7L206.8 231.4L208.5 233.0L210.2 234.1L211.9 235.0L213.6 236.2L215.3 236.9L217.0 237.5L218.7 238.3L220.4 239.7L222.1 240.9L223.8 241.0L225.5 241.0L227.2 242.9L228.9 242.4L230.6 242.3L232.3 243.2L234.0 243.7L235.7 243.0L237.4 243.4L239.1 244.2L240.8 243.9L242.5 244.1L244.2 245.2L245.9 244.0L247.6 245.4L249.3 245.3L251.0 245.7L252.7 245.4L254.4 246.0L256.1 245.7L257.8 245.4L259.5 245.9L261.2 246.2L262.9 245.6L264.6 246.6L266.3 246.1L268.0 246.6L269.7 246.5L271.4 246.7L273.1 246.8L274.8 246.9L276.5 247.3L278.2 247.3L279.9 247.0L281.6 247.3L283.3 247.7L285.0 242.9L286.7 247.7L288.4 247.6L290.1 247.6L291.8 247.7L293.5 248.0L295.2 247.9L296.9 248.4L298.6 249.0L300.3 248.1L302.0 248.7L303.7 248.5L305.4 248.6L307.1 248.0L308.8 248.7L310.5 248.3L312.2 248.6L313.9 248.9L315.6 249.0L317.3 248.4L319.0 248.4L320.7 248.3L322.4 248.0L324.1 248.6L325.8 248.6L327.5 248.7L329.2 248.7L330.9 248.9L332.6 249.1L334.3 248.1L336.0 249.5L337.7 248.7L339.4 248.7L341.1 248.8L342.8 249.2L344.5 249.0L346.2 249.1L347.9 249.3L349.6 248.9L351.3 249.1L353.0 249.1L354.7 248.7L356.4 249.3L358.1 248.8L359.8 249.2L361.5 248.8L363.2 249.0L364.9 248.9L366.6 249.4L368.3 249.3L370.0 249.3L371.7 249.0L373.4 248.8L375.1 248.7L376.8 249.2L378.5 249.0L380.2 249.6L381.9 249.8L383.6 249.4L385.3 249.3L387.0 249.6L388.7 249.7L390.4 248.9L392.1 249.4L393.8 249.7L395.5 248.3L397.2 249.0L398.9 249.2L400.6 248.8L402.3 249.4L404.0 248.5L405.7 249.6L407.4 249.6L409.1 249.1L410.8 249.4L412.5 248.6L414.2 249.7L415.9 249.4L417.6 249.0L419.3 248.9L421.0 248.8L422.7 249.0L424.4 248.4L426.1 249.3L427.8 249.1L429.5 248.8L431.2 249.2L432.9 249.2L434.6 249.3L436.3 249.4L438.0 249.5L439.7 249.3L441.4 249.7L443.1 249.0L444.8 249.7L446.5 248.4L448.2 248.6L449.9 248.8L451.6 249.2L453.3 249.4L455.0 248.7L456.7 249.1L458.4 249.0L460.1 249.4L461.8 248.8L463.5 249.5L465.2 249.1L466.9 249.8L468.6 249.4L470.3 249.0L472.0 249.3L473.7 249.3L475.4 248.9L477.1 249.2L478.8 248.8L480.5 250.0L482.2 249.0L483.9 249.0L485.6 249.7L487.3 249.7L489.0 248.9L490.7 249.6L492.4 249.4L494.1 249.0L495.8 249.3L497.5 249.0L499.2 249.5L500.9 249.1L502.6 248.8L504.3 249.1L506.0 250.0L507.7 249.0L509.4 249.2L511.1 249.5L511.4 248.7"/><path d="M126.1 90.5L126.4 90.0L126.7 88.7L127.0 86.5L127.3 78.3L127.6 59.9L127.9 48.6L128.2 44.9L128.5 45.1L128.8 45.7L129.1 46.4L129.4 47.2L129.7 48.1L130.0 49.2L130.3 50.6L130.6 52.4L130.9 54.7L131.2 58.9L131.5 65.2L131.8 71.7L132.1 79.0L132.4 86.6L132.7 93.1L133.0 98.3L133.3 103.2L133.6 107.8L133.9 112.0L134.2 115.9L134.5 119.6L134.8 123.1L135.1 126.5L135.4 129.6L135.7 132.6L136.0 135.5L136.3 138.1L136.6 140.6L136.9 142.9L137.2 144.9L137.5 146.7L137.8 148.4L138.1 151.2L139.8 160.2L141.5 168.8L143.2 175.5L144.9 180.0L146.6 187.8L148.3 191.4L150.0 193.4L151.7 195.7L153.4 200.7L155.1 204.6L156.8 204.8L158.5 209.9L160.2 209.9L161.9 209.1L163.6 211.2L165.3 214.6L167.0 215.9L168.7 214.2L170.4 216.0L172.1 217.4L173.8 217.1L175.5 217.9L177.2 216.8L178.9 211.5L180.6 210.6L182.3 208.5L184.0 206.3L185.7 202.3L187.4 202.8L189.1 205.7L190.8 209.0L192.5 210.6L194.2 213.3L195.9 215.1L197.6 217.3L199.3 218.3L201.0 218.8L202.7 218.9L204.4 222.4L206.1 223.6L207.8 224.1L209.5 225.3L211.2 227.1L212.9 227.8L214.6 229.7L216.3 230.1L218.0 230.4L219.7 230.9L221.4 232.6L223.1 233.4L224.8 233.7L226.5 234.0L228.2 234.9L229.9 236.0L231.6 236.0L233.3 236.1L235.0 237.3L236.7 237.8L238.4 237.5L240.1 237.8L241.8 237.9L243.5 238.4L245.2 238.9L246.9 239.0L248.6 239.4L250.3 239.5L252.0 239.5L253.7 239.6L255.4 239.2L257.1 240.2L258.8 239.9L260.5 240.2L262.2 239.6L263.9 240.1L265.6 240.5L267.3 240.2L269.0 240.5L270.7 240.8L272.4 240.3L274.1 240.6L275.8 240.4L277.5 240.7L279.2 240.9L280.9 241.2L282.6 241.8L284.3 241.2L286.0 241.5L287.7 241.4L289.4 241.7L291.1 242.0L292.8 242.2L294.5 241.7L296.2 241.6L297.9 242.2L299.6 242.0L301.3 241.8L303.0 242.6L304.7 242.5L306.4 239.6L308.1 242.1L309.8 242.4L311.5 242.7L313.2 243.2L314.9 242.7L316.6 242.4L318.3 242.9L320.0 242.9L321.7 242.6L323.4 243.3L325.1 242.9L326.8 242.7L328.5 243.2L330.2 243.3L331.9 242.9L333.6 243.1L335.3 243.1L337.0 243.0L338.7 243.0L340.4 243.4L342.1 243.4L343.8 243.0L345.5 242.8L347.2 242.7L348.9 243.5L350.6 242.8L352.3 242.9L354.0 243.2L355.7 243.1L357.4 243.0L359.1 242.6L360.8 243.6L362.5 243.1L364.2 243.3L365.9 243.4L367.6 242.9L369.3 243.0L371.0 243.7L372.7 243.4L374.4 243.2L376.1 243.8L377.8 243.0L379.5 243.3L381.2 243.3L382.9 243.2L384.6 242.7L386.3 243.3L388.0 243.5L389.7 242.7L391.4 243.5L393.1 243.5L394.8 243.8L396.5 243.0L398.2 243.3L399.9 243.2L401.6 243.3L403.3 243.4L405.0 243.6L406.7 243.6L408.4 243.2L410.1 243.3L411.8 242.8L413.5 243.6L415.2 243.5L416.9 243.7L418.6 242.9L420.3 243.8L422.0 243.1L423.7 242.9L425.4 243.4L427.1 243.1L428.8 244.1L430.5 243.5L432.2 244.0L433.9 243.3L435.6 243.4L437.3 243.7L439.0 243.1L440.7 243.3L442.4 243.6L444.1 243.6L445.8 243.9L447.5 243.5L449.2 242.7L450.9 243.7L452.6 243.3L454.3 243.6L456.0 243.1L457.7 243.3L459.4 243.5L461.1 244.0L462.8 243.6L464.5 243.0L466.2 243.5L467.9 243.2L469.6 243.6L471.3 244.1L473.0 243.3L474.7 243.3L476.4 243.6L478.1 243.6L479.8 243.4L481.5 243.7L483.2 243.3L484.9 243.5L486.6 244.3L488.3 243.5L490.0 243.7L491.7 243.8L493.4 243.3L495.1 243.6L496.8 243.3L498.5 243.1L500.2 243.4L501.9 244.0L503.6 243.7L505.3 243.2L507.0 243.6L508.7 243.8L510.4 243.5L512.1 243.3L513.8 243.4L514.1 243.3"/><path d="M128.8 84.7L129.1 84.3L129.3 82.8L129.7 80.4L129.9 70.1L130.2 52.3L130.6 41.8L130.8 39.4L131.2 39.7L131.4 40.2L131.8 41.0L132.1 41.8L132.3 42.7L132.7 43.9L132.9 45.3L133.2 47.2L133.6 49.6L133.8 54.2L134.2 60.6L134.4 67.1L134.8 74.5L135.1 81.9L135.3 88.1L135.7 93.2L135.9 98.0L136.2 102.4L136.6 106.5L136.8 110.4L137.2 114.0L137.4 117.4L137.8 120.7L138.1 123.9L138.3 126.9L138.7 129.7L138.9 132.4L139.2 134.9L139.6 137.1L139.8 139.2L140.2 141.0L140.4 142.6L140.8 146.0L142.4 157.2L144.2 161.2L145.8 168.6L147.6 177.4L149.2 180.7L150.9 184.3L152.6 188.5L154.3 191.0L156.1 194.6L157.8 197.6L159.4 201.9L161.1 202.9L162.8 203.2L164.5 204.2L166.2 207.2L167.9 208.0L169.6 207.9L171.3 211.3L173.0 212.2L174.8 211.2L176.4 211.4L178.1 213.0L179.8 212.5L181.5 207.6L183.2 206.6L184.9 202.0L186.6 200.4L188.3 197.6L190.0 195.0L191.7 199.2L193.4 201.6L195.1 203.9L196.8 206.3L198.5 207.6L200.2 210.1L201.9 210.8L203.6 212.5L205.3 214.5L207.0 215.4L208.7 216.9L210.4 218.2L212.1 219.1L213.8 219.8L215.5 221.7L217.2 222.5L218.9 224.4L220.6 224.6L222.3 224.9L224.0 225.9L225.7 226.9L227.4 228.1L229.1 228.9L230.8 229.1L232.5 230.2L234.2 230.7L235.9 230.1L237.6 231.4L239.3 230.7L241.0 232.2L242.7 231.8L244.4 232.7L246.1 232.5L247.8 233.1L249.5 232.9L251.2 233.1L252.9 233.4L254.6 233.2L256.3 233.0L258.0 233.9L259.7 233.5L261.4 233.9L263.1 234.1L264.8 233.5L266.5 235.1L268.2 234.7L269.9 235.2L271.6 234.8L273.3 234.9L275.0 233.6L276.7 234.9L278.4 234.5L280.1 234.8L281.8 235.5L283.5 235.3L285.2 235.0L286.9 235.6L288.6 235.7L290.3 235.7L292.0 236.4L293.7 236.3L295.4 236.0L297.1 236.0L298.8 236.6L300.5 236.4L302.2 236.4L303.9 236.5L305.6 236.3L307.3 236.5L309.0 236.6L310.7 237.2L312.4 237.1L314.1 236.7L315.8 237.4L317.5 236.8L319.2 237.2L320.9 237.3L322.6 236.8L324.3 237.3L326.0 237.4L327.7 237.4L329.4 237.2L331.1 236.2L332.8 238.0L334.5 237.3L336.2 237.4L337.9 237.0L339.6 237.5L341.3 238.2L343.0 236.9L344.7 237.8L346.4 237.4L348.1 237.9L349.8 237.8L351.5 237.6L353.2 237.2L354.9 237.2L356.6 237.7L358.3 237.3L360.0 237.6L361.7 237.5L363.4 237.5L365.1 237.3L366.8 237.8L368.5 237.6L370.2 237.5L371.9 237.5L373.6 237.8L375.3 237.0L377.0 237.7L378.7 237.3L380.4 237.5L382.1 237.2L383.8 238.4L385.5 236.9L387.2 237.7L388.9 238.0L390.6 237.6L392.3 236.8L394.0 237.4L395.7 238.0L397.4 237.8L399.1 237.2L400.8 238.1L402.5 237.7L404.2 237.7L405.9 236.9L407.6 237.7L409.3 237.2L411.0 237.9L412.7 237.9L414.4 237.3L416.1 237.4L417.8 238.2L419.5 237.4L421.2 237.4L422.9 237.9L424.6 237.6L426.3 237.6L428.0 237.8L429.7 237.9L431.4 237.9L433.1 237.8L434.8 238.1L436.5 237.7L438.2 238.2L439.9 237.6L441.6 237.7L443.3 238.0L445.0 237.4L446.7 237.0L448.4 237.2L450.1 238.2L451.8 237.2L453.5 237.6L455.2 237.7L456.9 237.9L458.6 237.7L460.3 237.2L462.0 237.5L463.7 237.8L465.4 237.9L467.1 237.9L468.8 237.5L470.5 237.1L472.2 238.1L473.9 237.7L475.6 237.9L477.3 238.0L479.0 237.6L480.7 237.5L482.4 238.2L484.1 238.1L485.8 237.3L487.5 237.6L489.2 237.6L490.9 237.9L492.6 237.9L494.3 237.6L496.0 237.9L497.7 238.1L499.4 237.7L501.1 237.4L502.8 238.1L504.5 237.4L506.2 237.5L507.9 238.1L509.6 237.8L511.3 237.8L513.0 237.5L514.7 237.5L516.4 238.2L516.8 238.2"/><path d="M131.4 79.0L131.7 78.5L132.0 76.9L132.3 74.3L132.6 61.6L132.9 45.1L133.2 35.2L133.5 33.9L133.8 34.2L134.1 34.8L134.4 35.6L134.7 36.5L135.0 37.4L135.3 38.5L135.6 40.0L135.9 42.0L136.2 44.5L136.5 49.5L136.8 56.1L137.1 62.6L137.4 70.0L137.7 77.2L138.0 83.1L138.3 88.1L138.6 92.7L138.9 97.0L139.2 101.0L139.5 104.8L139.8 108.4L140.1 111.7L140.4 115.0L140.7 118.1L141.0 121.1L141.3 124.0L141.6 126.6L141.9 129.1L142.2 131.4L142.5 133.5L142.8 135.3L143.1 136.9L143.4 140.7L145.1 151.1L146.8 156.9L148.5 161.0L150.2 169.2L151.9 174.8L153.6 179.6L155.3 182.7L157.0 186.3L158.7 190.4L160.4 192.3L162.1 193.2L163.8 194.9L165.5 196.7L167.2 198.3L168.9 200.8L170.6 202.0L172.3 201.7L174.0 204.8L175.7 204.5L177.4 207.1L179.1 206.3L180.8 207.4L182.5 206.7L184.2 202.4L185.9 201.3L187.6 198.5L189.3 195.9L191.0 193.5L192.7 190.0L194.4 192.2L196.1 195.1L197.8 198.5L199.5 200.2L201.2 201.9L202.9 203.5L204.6 205.1L206.3 206.2L208.0 206.8L209.7 209.0L211.4 210.3L213.1 211.7L214.8 211.5L216.5 213.2L218.2 214.9L219.9 216.0L221.6 217.7L223.3 218.5L225.0 219.2L226.7 220.1L228.4 221.4L230.1 222.1L231.8 222.1L233.5 222.8L235.2 224.6L236.9 224.0L238.6 223.9L240.3 225.3L242.0 225.3L243.7 226.2L245.4 225.7L247.1 226.7L248.8 227.0L250.5 226.9L252.2 226.2L253.9 227.4L255.6 227.8L257.3 227.3L259.0 227.6L260.7 227.2L262.4 228.4L264.1 228.6L265.8 228.3L267.5 228.2L269.2 228.4L270.9 228.2L272.6 229.2L274.3 229.1L276.0 229.0L277.7 228.8L279.4 229.0L281.1 229.5L282.8 229.8L284.5 229.2L286.2 229.3L287.9 228.8L289.6 229.9L291.3 229.4L293.0 230.4L294.7 230.3L296.4 230.4L298.1 230.4L299.8 230.7L301.5 230.6L303.2 230.5L304.9 230.8L306.6 230.4L308.3 230.8L310.0 230.8L311.7 230.4L313.4 230.8L315.1 230.9L316.8 231.1L318.5 231.1L320.2 231.0L321.9 231.5L323.6 230.8L325.3 230.7L327.0 230.9L328.7 231.5L330.4 231.9L332.1 231.6L333.8 231.4L335.5 231.2L337.2 231.6L338.9 231.6L340.6 231.0L342.3 231.8L344.0 231.2L345.7 231.3L347.4 232.1L349.1 231.6L350.8 231.9L352.5 232.0L354.2 232.3L355.9 232.3L357.6 231.6L359.3 231.9L361.0 231.7L362.7 232.1L364.4 231.9L366.1 231.9L367.8 232.3L369.5 232.4L371.2 231.7L372.9 231.8L374.6 232.1L376.3 231.9L378.0 231.6L379.7 231.2L381.4 232.2L383.1 231.6L384.8 231.1L386.5 231.8L388.2 231.4L389.9 232.8L391.6 231.4L393.3 231.9L395.0 232.5L396.7 231.6L398.4 231.5L400.1 231.5L401.8 231.5L403.5 231.9L405.2 232.2L406.9 232.1L408.6 231.9L410.3 231.8L412.0 232.1L413.7 231.9L415.4 231.6L417.1 231.8L418.8 231.1L420.5 231.2L422.2 232.3L423.9 232.1L425.6 232.4L427.3 232.3L429.0 231.7L430.7 232.3L432.4 232.3L434.1 232.0L435.8 231.7L437.5 232.1L439.2 232.1L440.9 231.6L442.6 231.8L444.3 231.8L446.0 231.6L447.7 232.3L449.4 231.9L451.1 232.2L452.8 231.6L454.5 231.7L456.2 232.3L457.9 231.5L459.6 232.4L461.3 231.6L463.0 231.9L464.7 232.3L466.4 232.4L468.1 232.1L469.8 232.0L471.5 232.2L473.2 231.8L474.9 232.5L476.6 232.0L478.3 232.0L480.0 232.6L481.7 231.9L483.4 232.4L485.1 232.9L486.8 232.2L488.5 232.1L490.2 231.7L491.9 232.2L493.6 231.5L495.3 231.5L497.0 231.6L498.7 231.6L500.4 231.9L502.1 232.2L503.8 231.8L505.5 231.7L507.2 231.9L508.9 232.1L510.6 232.6L512.3 231.8L514.0 231.9L515.7 232.5L517.4 232.0L519.1 231.8L519.4 232.1"/><path d="M134.1 73.3L134.4 72.7L134.7 70.9L135.0 68.0L135.3 53.1L135.6 37.9L135.9 29.0L136.2 28.4L136.5 28.8L136.8 29.4L137.1 30.2L137.4 31.1L137.7 32.0L138.0 33.2L138.3 34.8L138.6 36.8L138.9 39.6L139.2 44.9L139.5 51.5L139.8 58.0L140.1 65.4L140.4 72.4L140.7 78.0L141.0 82.9L141.3 87.4L141.6 91.6L141.9 95.6L142.2 99.2L142.5 102.7L142.8 106.1L143.1 109.3L143.4 112.4L143.7 115.4L144.0 118.2L144.3 120.9L144.6 123.4L144.9 125.7L145.2 127.8L145.5 129.5L145.8 131.2L146.1 133.8L147.8 142.8L149.5 151.7L151.2 156.7L152.9 163.0L154.6 168.9L156.3 175.2L158.0 177.6L159.7 181.1L161.4 184.6L163.1 186.5L164.8 190.0L166.5 188.8L168.2 191.4L169.9 191.2L171.6 195.2L173.3 196.3L175.0 195.4L176.7 197.6L178.4 195.6L180.1 196.0L181.8 194.8L183.5 193.0L185.2 191.8L186.9 188.4L188.6 188.3L190.3 189.1L192.0 186.0L193.7 187.4L195.4 187.1L197.1 188.7L198.8 189.9L200.5 190.5L202.2 193.4L203.9 195.6L205.6 198.0L207.3 200.3L209.0 201.8L210.7 205.4L212.4 207.7L214.1 208.7L215.8 211.6L217.5 212.5L219.2 213.0L220.9 214.6L222.6 215.7L224.3 216.5L226.0 217.2L227.7 217.6L229.4 217.6L231.1 217.4L232.8 217.8L234.5 218.9L236.2 219.2L237.9 218.8L239.6 220.3L241.3 219.8L243.0 220.0L244.7 220.5L246.4 220.7L248.1 220.4L249.8 221.3L251.5 221.2L253.2 221.3L254.9 221.2L256.6 221.9L258.3 221.2L260.0 221.8L261.7 221.9L263.4 222.1L265.1 222.3L266.8 222.6L268.5 222.0L270.2 222.4L271.9 222.7L273.6 222.4L275.3 223.1L277.0 222.8L278.7 223.1L280.4 223.6L282.1 223.1L283.8 224.0L285.5 223.4L287.2 224.0L288.9 223.7L290.6 223.5L292.3 223.8L294.0 224.3L295.7 224.2L297.4 224.5L299.1 224.8L300.8 224.9L302.5 224.6L304.2 224.5L305.9 225.4L307.6 224.9L309.3 224.7L311.0 224.9L312.7 225.4L314.4 224.8L316.1 225.6L317.8 225.0L319.5 224.7L321.2 226.1L322.9 225.3L324.6 225.3L326.3 225.4L328.0 225.8L329.7 225.7L331.4 226.1L333.1 225.6L334.8 225.5L336.5 226.0L338.2 226.1L339.9 226.0L341.6 225.8L343.3 225.8L345.0 225.9L346.7 225.9L348.4 226.4L350.1 226.9L351.8 225.7L353.5 225.5L355.2 226.5L356.9 226.2L358.6 225.9L360.3 225.7L362.0 225.8L363.7 225.6L365.4 226.1L367.1 225.9L368.8 225.9L370.5 226.2L372.2 225.7L373.9 225.9L375.6 225.8L377.3 226.3L379.0 225.8L380.7 226.5L382.4 226.0L384.1 227.0L385.8 226.5L387.5 225.9L389.2 226.3L390.9 226.1L392.6 226.7L394.3 225.6L396.0 226.0L397.7 226.2L399.4 226.0L401.1 226.1L402.8 225.7L404.5 226.1L406.2 226.7L407.9 226.3L409.6 225.8L411.3 226.0L413.0 226.3L414.7 226.0L416.4 226.2L418.1 226.0L419.8 226.7L421.5 226.5L423.2 226.0L424.9 226.3L426.6 226.1L428.3 225.5L430.0 226.3L431.7 226.1L433.4 226.4L435.1 226.4L436.8 226.3L438.5 226.7L440.2 227.0L441.9 225.8L443.6 226.3L445.3 225.9L447.0 226.2L448.7 226.2L450.4 226.0L452.1 226.0L453.8 226.7L455.5 225.8L457.2 226.6L458.9 226.2L460.6 225.4L462.3 226.2L464.0 225.7L465.7 226.4L467.4 226.1L469.1 226.3L470.8 226.1L472.5 226.6L474.2 226.6L475.9 226.2L477.6 226.8L479.3 226.6L481.0 226.1L482.7 226.5L484.4 226.6L486.1 226.7L487.8 226.2L489.5 226.4L491.2 226.2L492.9 226.4L494.6 225.7L496.3 226.4L498.0 227.0L499.7 226.3L501.4 226.3L503.1 226.3L504.8 226.9L506.5 225.9L508.2 226.3L509.9 226.3L511.6 226.9L513.3 226.2L515.0 226.3L516.7 225.9L518.4 226.5L520.1 226.7L521.8 226.3L522.1 226.6"/><path d="M136.8 67.6L137.1 66.9L137.4 64.9L137.7 61.3L138.0 44.7L138.3 30.7L138.6 23.0L138.9 23.0L139.2 23.4L139.5 24.0L139.8 24.8L140.1 25.7L140.4 26.6L140.7 27.9L141.0 29.5L141.3 31.6L141.6 34.7L141.9 40.3L142.2 46.8L142.5 53.5L142.8 60.8L143.1 67.6L143.4 73.0L143.7 77.7L144.0 82.2L144.3 86.2L144.6 90.1L144.9 93.7L145.2 97.1L145.5 100.4L145.8 103.5L146.1 106.7L146.4 109.6L146.7 112.5L147.0 115.1L147.3 117.6L147.6 119.9L147.9 122.0L148.2 123.8L148.5 125.4L148.8 129.3L150.5 138.6L152.2 146.3L153.9 151.0L155.6 156.5L157.3 162.8L159.0 168.9L160.7 174.0L162.4 175.2L164.1 178.8L165.8 180.2L167.5 181.1L169.2 182.9L170.9 185.9L172.6 186.4L174.3 187.0L176.0 189.5L177.7 189.9L179.4 189.6L181.1 190.5L182.8 190.6L184.5 190.1L186.2 188.3L187.9 187.7L189.6 184.9L191.3 184.8L193.0 182.0L194.7 181.6L196.4 183.1L198.1 182.3L199.8 183.9L201.5 184.3L203.2 186.2L204.9 188.3L206.6 190.0L208.3 192.8L210.0 194.6L211.7 196.9L213.4 199.3L215.1 201.2L216.8 203.7L218.5 204.7L220.2 207.0L221.9 207.4L223.6 208.5L225.3 209.2L227.0 210.5L228.7 209.4L230.4 211.4L232.1 211.7L233.8 212.4L235.5 211.7L237.2 212.9L238.9 212.4L240.6 213.6L242.3 213.3L244.0 213.9L245.7 213.5L247.4 214.3L249.1 214.7L250.8 214.5L252.5 215.2L254.2 215.3L255.9 214.9L257.6 216.0L259.3 215.2L261.0 215.8L262.7 216.1L264.4 215.8L266.1 215.8L267.8 216.4L269.5 216.4L271.2 216.2L272.9 216.4L274.6 216.8L276.3 217.1L278.0 217.3L279.7 217.3L281.4 217.1L283.1 217.2L284.8 217.4L286.5 217.2L288.2 217.9L289.9 218.0L291.6 218.1L293.3 217.5L295.0 218.9L296.7 218.2L298.4 218.3L300.1 218.5L301.8 217.8L303.5 218.3L305.2 218.5L306.9 219.2L308.6 218.8L310.3 219.2L312.0 219.1L313.7 219.1L315.4 219.4L317.1 219.1L318.8 218.9L320.5 219.1L322.2 219.4L323.9 220.2L325.6 219.3L327.3 219.3L329.0 219.8L330.7 219.9L332.4 219.6L334.1 220.1L335.8 219.6L337.5 220.3L339.2 220.3L340.9 220.0L342.6 220.5L344.3 220.0L346.0 219.9L347.7 220.5L349.4 219.8L351.1 220.3L352.8 220.0L354.5 220.1L356.2 220.4L357.9 220.4L359.6 220.8L361.3 220.5L363.0 220.5L364.7 219.7L366.4 220.0L368.1 220.7L369.8 220.0L371.5 220.2L373.2 220.5L374.9 220.2L376.6 220.1L378.3 220.5L380.0 220.4L381.7 220.3L383.4 220.7L385.1 220.3L386.8 220.4L388.5 220.6L390.2 220.7L391.9 220.3L393.6 220.1L395.3 220.3L397.0 220.7L398.7 220.2L400.4 220.4L402.1 220.2L403.8 220.0L405.5 220.7L407.2 220.5L408.9 220.6L410.6 220.7L412.3 219.8L414.0 220.1L415.7 221.0L417.4 220.3L419.1 220.6L420.8 220.1L422.5 220.4L424.2 220.5L425.9 220.4L427.6 220.3L429.3 220.4L431.0 220.5L432.7 220.5L434.4 220.3L436.1 220.8L437.8 220.5L439.5 220.5L441.2 220.6L442.9 220.2L444.6 220.9L446.3 220.6L448.0 220.8L449.7 220.3L451.4 220.6L453.1 220.5L454.8 220.4L456.5 221.0L458.2 220.3L459.9 220.7L461.6 220.6L463.3 220.5L465.0 220.2L466.7 220.3L468.4 219.9L470.1 220.4L471.8 220.7L473.5 220.7L475.2 220.3L476.9 220.0L478.6 220.4L480.3 220.7L482.0 220.4L483.7 220.4L485.4 220.5L487.1 220.8L488.8 221.4L490.5 220.7L492.2 220.2L493.9 220.5L495.6 221.3L497.3 220.5L499.0 221.1L500.7 219.9L502.4 220.5L504.1 220.9L505.8 220.3L507.5 220.8L509.2 220.4L510.9 220.5L512.6 220.9L514.3 220.3L516.0 221.0L517.7 220.1L519.4 220.5L521.1 220.9L522.8 221.2L524.5 220.0L524.8 220.1"/><path d="M139.4 61.8L139.7 61.1L140.0 58.9L140.3 54.1L140.6 36.3L140.9 23.6L141.2 17.3L141.5 17.5L141.8 17.9L142.1 18.6L142.4 19.4L142.7 20.3L143.0 21.3L143.3 22.6L143.6 24.3L143.9 26.4L144.2 29.8L144.5 35.7L144.8 42.2L145.1 48.9L145.4 56.2L145.7 62.7L146.0 67.9L146.3 72.5L146.6 76.8L146.9 80.8L147.2 84.6L147.5 88.1L147.8 91.4L148.1 94.7L148.4 97.8L148.7 100.9L149.0 103.9L149.3 106.7L149.6 109.4L149.9 111.9L150.2 114.2L150.5 116.3L150.8 118.1L151.1 119.7L151.4 121.8L153.1 133.7L154.8 139.9L156.5 145.5L158.2 151.8L159.9 159.1L161.6 161.2L163.3 165.9L165.0 169.3L166.7 170.9L168.4 175.3L170.1 176.9L171.8 178.5L173.5 180.8L175.2 181.8L176.9 182.0L178.6 183.6L180.3 182.9L182.0 185.3L183.7 184.3L185.4 185.5L187.1 183.5L188.8 183.0L190.5 179.8L192.2 179.2L193.9 178.4L195.6 176.3L197.3 176.2L199.0 177.3L200.7 178.5L202.4 180.0L204.1 180.7L205.8 182.4L207.5 184.4L209.2 186.2L210.9 188.9L212.6 189.6L214.3 193.0L216.0 194.8L217.7 196.1L219.4 198.9L221.1 199.2L222.8 200.5L224.5 202.2L226.2 203.5L227.9 204.0L229.6 205.3L231.3 204.3L233.0 205.4L234.7 206.1L236.4 206.5L238.1 206.1L239.8 206.0L241.5 207.5L243.2 207.5L244.9 208.3L246.6 207.4L248.3 207.9L250.0 207.5L251.7 208.5L253.4 208.8L255.1 209.1L256.8 208.8L258.5 209.8L260.2 209.2L261.9 209.5L263.6 209.9L265.3 210.1L267.0 209.6L268.7 209.5L270.4 210.4L272.1 210.3L273.8 210.0L275.5 210.9L277.2 210.9L278.9 211.4L280.6 211.2L282.3 211.3L284.0 211.5L285.7 211.8L287.4 212.2L289.1 212.2L290.8 212.2L292.5 211.8L294.2 212.3L295.9 212.5L297.6 212.2L299.3 212.3L301.0 212.8L302.7 212.9L304.4 212.6L306.1 212.8L307.8 213.3L309.5 211.5L311.2 213.2L312.9 212.9L314.6 213.6L316.3 213.1L318.0 213.3L319.7 213.9L321.4 213.3L323.1 213.4L324.8 214.2L326.5 213.1L328.2 214.2L329.9 214.2L331.6 214.1L333.3 213.8L335.0 213.9L336.7 214.1L338.4 213.7L340.1 214.0L341.8 213.7L343.5 213.3L345.2 214.2L346.9 215.2L348.6 214.5L350.3 214.7L352.0 214.3L353.7 214.4L355.4 214.8L357.1 214.8L358.8 214.5L360.5 214.5L362.2 215.4L363.9 214.2L365.6 214.5L367.3 214.5L369.0 214.4L370.7 214.9L372.4 214.6L374.1 214.2L375.8 214.2L377.5 214.4L379.2 214.7L380.9 214.9L382.6 214.2L384.3 214.5L386.0 214.8L387.7 215.4L389.4 214.9L391.1 215.3L392.8 214.2L394.5 214.6L396.2 214.9L397.9 214.8L399.6 213.8L401.3 214.3L403.0 215.1L404.7 214.7L406.4 215.1L408.1 215.3L409.8 214.6L411.5 213.9L413.2 214.2L414.9 214.7L416.6 214.8L418.3 214.6L420.0 214.3L421.7 215.2L423.4 215.3L425.1 214.1L426.8 214.6L428.5 214.2L430.2 214.6L431.9 214.2L433.6 214.9L435.3 214.6L437.0 214.2L438.7 214.4L440.4 214.9L442.1 214.4L443.8 215.0L445.5 215.2L447.2 214.6L448.9 214.3L450.6 214.5L452.3 215.2L454.0 214.4L455.7 214.5L457.4 214.9L459.1 215.6L460.8 214.4L462.5 214.5L464.2 214.6L465.9 215.4L467.6 215.3L469.3 214.4L471.0 214.5L472.7 214.6L474.4 214.9L476.1 214.6L477.8 215.0L479.5 214.9L481.2 215.1L482.9 214.7L484.6 214.9L486.3 214.5L488.0 214.5L489.7 215.1L491.4 214.2L493.1 215.2L494.8 214.6L496.5 214.4L498.2 214.4L499.9 215.6L501.6 214.5L503.3 214.4L505.0 214.3L506.7 215.6L508.4 215.0L510.1 214.8L511.8 215.0L513.5 214.3L515.2 215.1L516.9 214.4L518.6 214.6L520.3 215.3L522.0 215.2L523.7 215.0L525.4 214.8L527.1 214.5L527.4 214.9"/></g><path d="M133.9 311.9L137.2 299.6L140.6 288.8L143.9 279.8L147.2 272.5L150.6 265.7L153.9 259.5L157.2 254.1L160.5 248.7L163.9 242.8L167.2 237.0L170.5 231.2L173.9 225.4L177.2 219.6L180.5 213.7L183.8 207.6L187.2 201.7L190.5 196.1L193.8 190.5" fill="none" stroke="#000" stroke-width="3.2" stroke-linecap="round"/><g stroke="#000" stroke-width="1.8" fill="none"><path d="M62.6 143.5V380.8H448"/><path d="M57.5 381.0H62.5"/><path d="M57.5 321.5H62.5"/><path d="M57.5 262.0H62.5"/><path d="M57.5 202.5H62.5"/><path d="M57.5 143.0H62.5"/><path d="M59.5 351.2H62.5" stroke-width="1.3"/><path d="M59.5 291.8H62.5" stroke-width="1.3"/><path d="M59.5 232.2H62.5" stroke-width="1.3"/><path d="M59.5 172.8H62.5" stroke-width="1.3"/><path d="M104.8 381V386.5"/><path d="M190.6 381V386.5"/><path d="M276.2 381V386.5"/><path d="M362.0 381V386.5"/><path d="M447.7 381V386.5"/><path d="M147.7 381V384.8" stroke-width="1.3"/><path d="M233.4 381V384.8" stroke-width="1.3"/><path d="M319.1 381V384.8" stroke-width="1.3"/><path d="M404.8 381V384.8" stroke-width="1.3"/></g><g class="s" font-weight="bold" font-size="13" text-anchor="end" fill="#000"><text transform="translate(53.6 385.5) scale(0.87 1)">0</text><text transform="translate(53.6 326.0) scale(0.87 1)">50</text><text transform="translate(53.6 266.5) scale(0.87 1)">100</text><text transform="translate(53.6 207.0) scale(0.87 1)">150</text><text transform="translate(53.6 147.5) scale(0.87 1)">200</text></g><g class="s" font-weight="bold" font-size="12.6" text-anchor="middle" fill="#000"><text transform="translate(104.8 399.3) scale(0.94 1)">0.04</text><text transform="translate(190.6 399.3) scale(0.94 1)">0.08</text><text transform="translate(276.2 399.3) scale(0.94 1)">0.12</text><text transform="translate(362.0 399.3) scale(0.94 1)">0.16</text><text transform="translate(447.7 399.3) scale(0.94 1)">0.20</text></g><text class="s" font-weight="bold" font-size="21.5" transform="translate(0.3 11) scale(0.72 1)">a</text><text class="s" font-size="15.3" x="40.3" y="16.6">Beamstop</text><path d="M74.6 25L104 60.5" stroke="#000" stroke-width="2.2" fill="none"/><path d="M111.3 69.5L100.2 61.5L105.6 57.1Z" fill="#000" stroke="#000" stroke-width="0.6" stroke-linejoin="round"/><text class="s" font-size="15.4" x="163.3" y="109.6">PEO<tspan font-size="9" dy="7.5">5k</tspan><tspan dy="-7.5">-PCL</tspan><tspan font-size="9" dy="7.5">5k</tspan><tspan dy="-7.5"> crystallized</tspan></text><text class="s" font-size="15.4" x="335.6" y="109.6">at 40<tspan font-size="9" dy="-9">o</tspan><tspan dy="9">Cfrom 10s to 300s</tspan></text><text class="s" font-size="18.8" transform="translate(15.2 332.5) rotate(-90)">Intensity (a. u.)</text><text class="s" font-size="17" x="232.5" y="423.6">s / nm</text><text class="s" font-size="10" x="280.6" y="413.8">-1</text><g fill="none" stroke="#000" stroke-width="1.65" stroke-linejoin="round"><path d="M600.0 272.4L602.9 270.2L605.8 273.8L608.7 269.2L611.6 271.5L614.5 268.7L617.4 271.7L620.3 265.3L623.2 270.4L626.1 267.6L629.0 270.6L631.9 264.6L634.8 267.9L637.7 261.8L640.6 267.1L643.5 261.9L646.4 264.8L649.3 259.7L652.2 265.5L655.1 258.4L658.0 263.4L660.9 258.7L663.8 262.5L666.7 258.5L669.6 261.0L672.5 258.8L675.4 258.3L678.3 254.5L681.2 258.0L684.1 252.0L687.0 252.4L688.0 251.1L690.3 253.8L692.6 248.4L694.9 252.9L697.2 249.3L699.5 251.9L701.8 249.2L704.1 249.3L706.4 247.3L708.7 250.5L711.0 247.3L713.3 249.8L715.6 247.1L717.9 249.3L720.2 247.5L722.5 249.7L724.8 245.3L727.1 250.2L729.4 244.9L731.7 248.7L734.0 246.5L736.3 249.0L738.6 246.5L740.9 250.1L743.2 248.1L745.5 252.7L747.8 253.2L750.1 253.0L752.4 252.1L754.7 256.3L757.0 253.0L759.3 257.0L761.6 255.8L763.9 258.8L766.2 253.8L768.5 258.6L770.8 257.0L773.1 261.7L775.4 258.9L777.7 259.3L780.0 259.6L782.3 262.9L784.6 260.8L786.9 265.1L789.2 262.4L791.5 267.2L793.8 264.8L796.1 268.6L798.4 264.6L800.7 269.2L803.0 268.3L805.3 269.9L807.6 269.4L809.9 271.6L812.2 270.3L814.5 273.4L816.8 272.1L819.1 273.3L821.4 273.0L823.7 275.0L826.0 274.1L828.3 276.1L830.6 275.7L832.9 275.9L835.2 275.6L837.5 277.9L839.8 278.4L842.1 278.4L844.4 279.2L846.7 279.2L849.0 278.2L851.3 280.4L853.6 279.7L855.9 280.7L858.2 277.3L860.5 280.4L862.8 279.6L865.1 279.5L867.4 278.9L869.7 279.8L872.0 280.9L874.3 282.0L876.6 277.0L878.9 281.0L881.2 280.2L883.5 281.2L885.8 279.2L888.1 282.8L890.4 279.8L892.7 281.8L895.0 279.8L897.3 281.7L899.6 281.2L901.9 282.8L904.2 283.1L906.5 281.4L908.8 282.5L911.1 282.6L913.4 279.5L915.7 282.8L918.0 280.5L920.3 282.7L922.6 280.5L924.9 282.5L927.2 281.5L929.5 281.1L931.8 281.4L934.1 283.9L936.4 281.7L938.7 282.4L941.0 282.7L943.3 282.1L945.6 280.7L947.9 281.0L950.2 282.1L952.3 282.1"/><path d="M602.4 266.2L605.3 268.9L608.2 265.7L611.1 267.9L614.0 266.5L616.9 267.7L619.8 264.8L622.7 267.1L625.6 262.9L628.5 264.8L631.4 261.2L634.3 262.9L637.2 262.7L640.1 262.8L643.0 260.4L645.9 262.8L648.8 260.3L651.7 261.4L654.6 255.9L657.5 259.7L660.4 256.1L663.3 257.8L666.2 255.1L669.1 255.9L672.0 252.9L674.9 256.1L677.8 252.2L680.7 254.9L683.6 249.7L686.5 253.1L689.4 246.0L690.4 250.3L692.7 246.3L695.0 244.5L697.3 242.0L699.6 243.0L701.9 241.8L704.2 240.3L706.5 240.4L708.8 243.3L711.1 241.4L713.4 245.3L715.7 244.6L718.0 245.1L720.3 245.1L722.6 246.5L724.9 242.9L727.2 247.4L729.5 244.8L731.8 247.5L734.1 243.0L736.4 247.3L738.7 246.1L741.0 245.8L743.3 244.8L745.6 250.5L747.9 247.0L750.2 251.8L752.5 248.0L754.8 251.6L757.1 253.0L759.4 255.8L761.7 253.8L764.0 255.4L766.3 253.8L768.6 256.5L770.9 255.7L773.2 259.6L775.5 256.9L777.8 257.3L780.1 255.7L782.4 260.5L784.7 257.9L787.0 261.1L789.3 258.8L791.6 261.7L793.9 256.0L796.2 257.4L798.5 252.6L800.8 256.2L803.1 249.7L805.4 251.9L807.7 253.5L810.0 254.6L812.3 255.5L814.6 262.4L816.9 262.9L819.2 264.8L821.5 266.0L823.8 268.3L826.1 269.3L828.4 271.7L830.7 269.9L833.0 272.7L835.3 270.7L837.6 274.2L839.9 273.3L842.2 275.3L844.5 272.1L846.8 276.1L849.1 275.0L851.4 274.5L853.7 274.1L856.0 273.5L858.3 273.0L860.6 275.1L862.9 274.2L865.2 277.6L867.5 275.7L869.8 276.6L872.1 275.3L874.4 277.3L876.7 276.1L879.0 277.4L881.3 274.6L883.6 276.4L885.9 275.8L888.2 276.9L890.5 275.7L892.8 277.3L895.1 276.1L897.4 278.6L899.7 275.6L902.0 276.6L904.3 276.1L906.6 277.1L908.9 276.2L911.2 276.0L913.5 276.5L915.8 278.9L918.1 277.5L920.4 277.0L922.7 276.0L925.0 277.1L927.3 276.2L929.6 278.0L931.9 277.9L934.2 278.4L936.5 278.5L938.8 278.3L941.1 278.4L943.4 278.2L945.7 277.3L948.0 280.2L950.3 276.5L952.6 277.6L954.7 278.5"/><path d="M604.9 264.8L607.8 262.1L610.7 265.3L613.6 261.6L616.5 264.3L619.4 261.8L622.3 262.7L625.2 258.4L628.1 260.5L631.0 258.7L633.9 261.1L636.8 257.5L639.7 259.3L642.6 256.9L645.5 259.1L648.4 255.9L651.3 256.6L654.2 252.6L657.1 257.8L660.0 255.4L662.9 255.9L665.8 253.1L668.7 255.2L671.6 251.2L674.5 254.4L677.4 251.4L680.3 254.8L683.2 248.8L686.1 250.7L689.0 243.8L691.9 244.7L692.9 240.4L695.2 241.3L697.5 234.5L699.8 234.3L702.1 229.7L704.4 231.2L706.7 232.2L709.0 236.6L711.3 233.8L713.6 240.4L715.9 240.1L718.2 243.2L720.5 240.8L722.8 243.6L725.1 242.6L727.4 244.4L729.7 243.4L732.0 245.7L734.3 242.2L736.6 244.0L738.9 241.9L741.2 243.0L743.5 240.9L745.8 243.3L748.1 243.0L750.4 243.5L752.7 243.2L755.0 248.1L757.3 245.1L759.6 248.8L761.9 248.1L764.2 253.4L766.5 251.3L768.8 253.8L771.1 250.4L773.4 255.6L775.7 253.5L778.0 256.7L780.3 254.7L782.6 255.6L784.9 256.6L787.2 258.7L789.5 252.8L791.8 254.1L794.1 249.9L796.4 247.1L798.7 241.2L801.0 242.8L803.3 236.7L805.6 237.3L807.9 239.0L810.2 243.5L812.5 244.5L814.8 252.1L817.1 254.5L819.4 260.0L821.7 261.6L824.0 262.8L826.3 265.1L828.6 264.7L830.9 266.6L833.2 267.0L835.5 267.7L837.8 268.0L840.1 266.5L842.4 267.8L844.7 266.9L847.0 269.1L849.3 268.4L851.6 269.4L853.9 268.5L856.2 270.4L858.5 268.3L860.8 270.2L863.1 268.3L865.4 270.3L867.7 269.1L870.0 271.5L872.3 270.4L874.6 272.1L876.9 270.4L879.2 271.5L881.5 269.8L883.8 272.4L886.1 268.1L888.4 271.6L890.7 269.7L893.0 270.8L895.3 272.9L897.6 272.3L899.9 270.1L902.2 274.2L904.5 270.8L906.8 273.0L909.1 271.8L911.4 272.6L913.7 273.0L916.0 272.9L918.3 272.5L920.6 273.7L922.9 271.5L925.2 270.1L927.5 271.8L929.8 272.7L932.1 272.4L934.4 274.0L936.7 272.3L939.0 272.2L941.3 272.3L943.6 272.7L945.9 272.8L948.2 271.6L950.5 273.9L952.8 273.6L955.1 272.4L957.2 273.9"/><path d="M607.3 258.2L610.2 260.9L613.1 257.6L616.0 258.4L618.9 255.5L621.8 259.1L624.7 255.5L627.6 259.5L630.5 253.9L633.4 256.9L636.3 255.5L639.2 256.2L642.1 253.7L645.0 256.0L647.9 252.7L650.8 255.3L653.7 252.0L656.6 253.2L659.5 251.0L662.4 252.1L665.3 250.6L668.2 252.1L671.1 247.4L674.0 252.5L676.9 246.6L679.8 249.7L682.7 245.7L685.6 247.8L688.5 241.7L691.4 242.1L694.3 234.7L695.3 233.9L697.6 229.8L699.9 224.8L702.2 220.3L704.5 226.2L706.8 223.6L709.1 226.8L711.4 229.1L713.7 234.8L716.0 235.2L718.3 239.8L720.6 238.6L722.9 240.9L725.2 240.6L727.5 241.6L729.8 242.3L732.1 242.7L734.4 241.0L736.7 240.5L739.0 236.4L741.3 239.7L743.6 238.5L745.9 238.0L748.2 234.8L750.5 236.9L752.8 235.2L755.1 238.1L757.4 241.2L759.7 241.1L762.0 242.0L764.3 246.3L766.6 243.4L768.9 248.9L771.2 248.6L773.5 251.8L775.8 248.7L778.1 251.1L780.4 249.1L782.7 252.3L785.0 250.5L787.3 250.5L789.6 249.4L791.9 247.7L794.2 243.2L796.5 240.2L798.8 233.7L801.1 230.5L803.4 226.8L805.7 228.2L808.0 228.4L810.3 234.2L812.6 236.8L814.9 244.1L817.2 247.2L819.5 253.8L821.8 254.3L824.1 257.0L826.4 258.6L828.7 260.9L831.0 260.4L833.3 261.4L835.6 261.5L837.9 262.8L840.2 262.3L842.5 263.1L844.8 262.5L847.1 263.7L849.4 264.4L851.7 265.0L854.0 265.3L856.3 264.1L858.6 262.9L860.9 264.1L863.2 263.9L865.5 264.2L867.8 264.4L870.1 265.2L872.4 265.6L874.7 266.0L877.0 265.2L879.3 265.3L881.6 263.7L883.9 266.5L886.2 265.1L888.5 266.3L890.8 266.3L893.1 268.1L895.4 266.3L897.7 268.2L900.0 266.2L902.3 263.5L904.6 266.6L906.9 267.8L909.2 266.4L911.5 268.4L913.8 266.3L916.1 269.1L918.4 267.2L920.7 267.8L923.0 268.0L925.3 269.7L927.6 266.9L929.9 269.2L932.2 267.1L934.5 268.3L936.8 267.9L939.1 269.0L941.4 267.5L943.7 268.6L946.0 269.0L948.3 269.0L950.6 268.0L952.9 269.2L955.2 268.3L957.5 269.5L959.6 268.5"/><path d="M609.7 253.9L612.6 251.7L615.5 254.3L618.4 251.5L621.3 254.9L624.2 251.4L627.1 253.1L630.0 251.8L632.9 254.0L635.8 250.0L638.7 252.5L641.6 249.4L644.5 251.3L647.4 249.7L650.3 250.9L653.2 247.5L656.1 249.9L659.0 248.0L661.9 250.3L664.8 246.2L667.7 247.1L670.6 247.0L673.5 247.0L676.4 243.8L679.3 247.5L682.2 244.2L685.1 245.6L688.0 240.3L690.9 238.6L693.8 230.0L696.7 226.7L697.7 222.2L700.0 220.1L702.3 215.8L704.6 214.0L706.9 212.7L709.2 219.9L711.5 219.8L713.8 227.3L716.1 230.1L718.4 233.5L720.7 238.4L723.0 240.2L725.3 237.3L727.6 239.7L729.9 238.7L732.2 238.5L734.5 237.3L736.8 239.9L739.1 237.0L741.4 236.4L743.7 232.6L746.0 236.3L748.3 230.6L750.6 231.3L752.9 230.4L755.2 231.1L757.5 231.9L759.8 234.4L762.1 232.6L764.4 237.8L766.7 237.9L769.0 241.7L771.3 242.2L773.6 244.3L775.9 245.8L778.2 247.9L780.5 245.3L782.8 249.0L785.1 246.3L787.4 245.8L789.7 242.4L792.0 242.8L794.3 236.1L796.6 231.2L798.9 223.1L801.2 219.7L803.5 214.0L805.8 214.9L808.1 216.4L810.4 220.9L812.7 226.8L815.0 235.5L817.3 239.3L819.6 245.2L821.9 248.1L824.2 254.0L826.5 253.6L828.8 255.6L831.1 255.9L833.4 256.8L835.7 256.3L838.0 257.4L840.3 257.1L842.6 257.6L844.9 258.4L847.2 258.1L849.5 258.1L851.8 258.9L854.1 259.8L856.4 258.3L858.7 259.7L861.0 259.9L863.3 258.4L865.6 260.0L867.9 259.0L870.2 261.3L872.5 259.3L874.8 259.9L877.1 259.0L879.4 260.7L881.7 259.6L884.0 260.2L886.3 260.3L888.6 261.4L890.9 259.1L893.2 261.9L895.5 259.8L897.8 261.5L900.1 260.1L902.4 262.3L904.7 261.0L907.0 262.2L909.3 261.9L911.6 262.5L913.9 262.6L916.2 263.3L918.5 262.7L920.8 262.8L923.1 262.8L925.4 264.4L927.7 263.3L930.0 264.0L932.3 263.7L934.6 263.3L936.9 263.1L939.2 263.7L941.5 263.8L943.8 264.6L946.1 262.8L948.4 265.2L950.7 263.3L953.0 264.3L955.3 264.2L957.6 264.7L959.9 264.5L962.0 264.8"/><path d="M612.1 247.7L615.0 249.9L617.9 247.4L620.9 249.1L623.8 247.7L626.6 248.7L629.5 245.6L632.4 248.2L635.4 247.2L638.2 248.8L641.1 246.0L644.0 248.0L646.9 245.3L649.9 247.3L652.8 244.0L655.6 245.8L658.5 243.8L661.4 245.3L664.4 242.7L667.2 245.7L670.1 241.1L673.0 244.2L675.9 241.6L678.9 243.2L681.8 239.7L684.6 241.1L687.5 237.3L690.4 236.4L693.4 229.9L696.2 223.7L699.1 214.6L700.1 214.1L702.4 206.0L704.8 208.2L707.0 205.3L709.4 208.6L711.6 212.3L713.9 219.5L716.2 225.1L718.5 231.0L720.8 231.1L723.1 235.3L725.4 233.0L727.7 236.5L730.0 235.0L732.3 236.3L734.6 235.2L736.9 236.0L739.2 234.6L741.5 234.7L743.8 232.3L746.1 231.3L748.4 228.8L750.7 227.3L753.0 222.1L755.3 223.0L757.6 222.2L759.9 224.9L762.2 226.0L764.5 227.0L766.8 231.3L769.1 233.5L771.4 236.5L773.7 239.3L776.0 240.0L778.3 242.8L780.6 240.8L782.9 242.8L785.2 242.1L787.5 242.9L789.8 236.8L792.1 234.9L794.4 228.8L796.7 222.8L799.0 213.4L801.3 208.0L803.6 202.3L805.9 204.3L808.2 205.8L810.5 213.5L812.8 218.0L815.1 226.9L817.4 233.8L819.7 240.5L822.0 242.4L824.3 248.4L826.6 248.7L828.9 250.0L831.2 250.4L833.5 252.1L835.8 250.7L838.1 252.3L840.4 252.9L842.7 252.6L845.0 252.4L847.3 252.1L849.6 252.7L851.9 253.7L854.2 252.9L856.5 253.7L858.8 254.0L861.1 254.0L863.4 253.5L865.7 253.5L868.0 252.1L870.3 255.1L872.6 254.4L874.9 255.0L877.2 254.4L879.5 255.2L881.8 254.3L884.1 254.7L886.4 255.4L888.7 256.4L891.0 256.0L893.3 255.5L895.6 254.7L897.9 257.2L900.2 256.8L902.5 256.8L904.8 255.6L907.1 256.7L909.4 256.5L911.7 257.1L914.0 256.9L916.3 258.4L918.6 256.3L920.9 258.3L923.2 258.5L925.5 258.9L927.8 258.9L930.1 258.8L932.4 257.9L934.7 260.1L937.0 257.9L939.3 258.1L941.6 258.6L943.9 260.2L946.2 259.5L948.5 259.8L950.8 259.7L953.1 260.5L955.4 259.3L957.7 260.2L960.0 258.9L962.3 260.7L964.4 258.4"/><path d="M614.6 244.6L617.5 243.3L620.4 246.3L623.3 243.3L626.2 244.7L629.1 242.7L632.0 243.7L634.9 243.4L637.8 244.3L640.7 241.5L643.6 243.7L646.5 240.0L649.4 243.6L652.3 240.6L655.2 241.9L658.1 241.7L661.0 242.5L663.9 239.7L666.8 240.4L669.7 237.9L672.6 240.1L675.5 238.4L678.4 241.2L681.3 237.6L684.2 238.9L687.1 235.8L690.0 237.4L692.9 234.4L695.8 234.5L698.7 228.3L701.6 225.0L702.6 221.3L704.9 219.2L707.2 212.0L709.5 213.0L711.8 212.7L714.1 217.2L716.4 218.7L718.7 223.0L721.0 225.5L723.3 228.8L725.6 229.9L727.9 230.9L730.2 231.3L732.5 232.1L734.8 230.1L737.1 234.5L739.4 232.0L741.7 232.9L744.0 230.4L746.3 233.2L748.6 231.1L750.9 233.4L753.2 231.0L755.5 232.5L757.8 227.7L760.1 229.1L762.4 228.1L764.7 227.0L767.0 227.3L769.3 231.1L771.6 229.4L773.9 232.9L776.2 233.5L778.5 237.0L780.8 236.1L783.1 236.7L785.4 234.6L787.7 230.6L790.0 226.0L792.3 222.9L794.6 217.3L796.9 216.2L799.2 211.4L801.5 208.5L803.8 202.8L806.1 200.8L808.4 196.2L810.7 198.8L813.0 200.0L815.3 205.5L817.6 209.4L819.9 216.5L822.2 221.3L824.5 226.4L826.8 230.9L829.1 235.8L831.4 238.5L833.7 242.4L836.0 243.4L838.3 246.7L840.6 246.0L842.9 247.6L845.2 246.2L847.5 248.2L849.8 248.0L852.1 248.8L854.4 248.1L856.7 249.7L859.0 248.9L861.3 249.8L863.6 247.8L865.9 249.7L868.2 250.0L870.5 249.4L872.8 247.9L875.1 250.4L877.4 247.7L879.7 250.3L882.0 249.2L884.3 250.8L886.6 250.1L888.9 251.4L891.2 251.1L893.5 252.2L895.8 250.3L898.1 252.3L900.4 251.1L902.7 251.9L905.0 252.0L907.3 252.4L909.6 252.0L911.9 253.3L914.2 252.5L916.5 253.3L918.8 253.3L921.1 254.5L923.4 253.6L925.7 253.9L928.0 253.0L930.3 253.6L932.6 253.6L934.9 254.1L937.2 254.0L939.5 254.3L941.8 254.1L944.1 254.7L946.4 254.6L948.7 255.0L951.0 253.5L953.3 255.8L955.6 254.6L957.9 255.7L960.2 254.4L962.5 254.7L964.8 255.1L966.9 257.2"/><path d="M617.0 240.3L619.9 241.3L622.8 239.9L625.7 240.1L628.6 238.7L631.5 241.5L634.4 238.6L637.3 238.6L640.2 238.5L643.1 239.2L646.0 238.0L648.9 238.0L651.8 236.6L654.7 238.9L657.6 237.2L660.5 237.6L663.4 234.8L666.3 236.7L669.2 235.9L672.1 235.7L675.0 234.9L677.9 236.9L680.8 233.8L683.7 235.8L686.6 233.1L689.5 235.0L692.4 232.1L695.3 233.6L698.2 229.9L701.1 224.7L704.0 218.1L705.0 216.5L707.3 211.4L709.6 208.5L711.9 205.8L714.2 208.3L716.5 210.9L718.8 216.3L721.1 217.9L723.4 224.6L725.7 223.8L728.0 226.9L730.3 226.9L732.6 227.9L734.9 227.3L737.2 229.3L739.5 228.4L741.8 228.5L744.1 228.6L746.4 229.7L748.7 227.4L751.0 229.0L753.3 226.4L755.6 227.6L757.9 224.7L760.2 221.6L762.5 217.6L764.8 220.7L767.1 219.1L769.4 220.4L771.7 222.9L774.0 226.4L776.3 227.6L778.6 230.0L780.9 230.4L783.2 232.7L785.5 231.6L787.8 230.2L790.1 225.8L792.4 223.2L794.7 218.2L797.0 216.0L799.3 209.9L801.6 207.2L803.9 201.5L806.2 199.1L808.5 194.4L810.8 192.2L813.1 192.2L815.4 196.8L817.7 199.2L820.0 206.0L822.3 210.4L824.6 216.8L826.9 221.8L829.2 226.4L831.5 230.9L833.8 234.2L836.1 237.4L838.4 238.7L840.7 240.0L843.0 242.4L845.3 242.6L847.6 244.0L849.9 243.3L852.2 243.9L854.5 242.6L856.8 245.3L859.1 243.6L861.4 245.4L863.7 244.2L866.0 244.7L868.3 244.1L870.6 244.9L872.9 244.7L875.2 245.3L877.5 244.8L879.8 245.0L882.1 245.8L884.4 246.1L886.7 246.1L889.0 246.8L891.3 246.0L893.6 245.8L895.9 244.6L898.2 246.2L900.5 247.2L902.8 247.3L905.1 247.4L907.4 247.6L909.7 246.6L912.0 247.9L914.3 247.2L916.6 248.7L918.9 249.1L921.2 250.2L923.5 248.6L925.8 249.0L928.1 248.2L930.4 249.7L932.7 249.3L935.0 249.9L937.3 248.8L939.6 250.1L941.9 250.2L944.2 249.7L946.5 249.5L948.8 250.3L951.1 250.8L953.4 250.8L955.7 250.9L958.0 251.9L960.3 250.3L962.6 251.1L964.9 250.2L967.2 250.4L969.3 250.5"/><path d="M619.4 236.7L622.3 235.5L625.2 237.5L628.1 234.6L631.0 235.3L633.9 235.4L636.8 236.7L639.7 233.2L642.6 237.4L645.5 231.9L648.4 234.8L651.3 231.9L654.2 232.8L657.1 233.1L660.0 234.4L662.9 230.3L665.8 233.1L668.7 231.1L671.6 232.7L674.5 229.8L677.4 230.8L680.3 229.9L683.2 231.6L686.1 229.2L689.0 230.8L691.9 227.7L694.8 230.0L697.7 225.8L700.6 225.8L703.5 217.9L706.4 213.4L707.4 210.4L709.7 207.7L712.0 203.4L714.3 202.6L716.6 203.1L718.9 206.8L721.2 210.0L723.5 216.1L725.8 217.5L728.1 220.3L730.4 220.9L732.7 225.3L735.0 223.5L737.3 226.3L739.6 224.5L741.9 223.0L744.2 223.9L746.5 225.7L748.8 224.3L751.1 226.6L753.4 225.3L755.7 223.1L758.0 218.7L760.3 215.7L762.6 214.1L764.9 212.5L767.2 211.4L769.5 215.5L771.8 212.4L774.1 218.1L776.4 218.2L778.7 221.0L781.0 223.5L783.3 226.4L785.6 227.1L787.9 226.6L790.2 222.0L792.5 220.9L794.8 215.7L797.1 213.2L799.4 207.8L801.7 206.5L804.0 200.4L806.3 198.4L808.6 192.4L810.9 189.7L813.2 185.3L815.5 187.6L817.8 190.4L820.1 196.0L822.4 199.6L824.7 206.3L827.0 210.5L829.3 217.7L831.6 221.7L833.9 226.6L836.2 229.4L838.5 232.3L840.8 234.2L843.1 235.9L845.4 236.9L847.7 239.3L850.0 238.4L852.3 240.1L854.6 238.5L856.9 239.3L859.2 239.7L861.5 240.2L863.8 240.5L866.1 241.6L868.4 240.2L870.7 240.8L873.0 240.8L875.3 240.8L877.6 240.0L879.9 240.7L882.2 239.5L884.5 240.6L886.8 240.8L889.1 241.5L891.4 240.7L893.7 242.4L896.0 240.4L898.3 241.0L900.6 241.5L902.9 242.8L905.2 240.4L907.5 242.6L909.8 242.0L912.1 242.6L914.4 242.4L916.7 243.8L919.0 243.1L921.3 244.6L923.6 243.6L925.9 245.6L928.2 243.9L930.5 244.7L932.8 245.2L935.1 244.3L937.4 245.4L939.7 245.1L942.0 245.2L944.3 245.5L946.6 245.5L948.9 244.6L951.2 244.8L953.5 245.3L955.8 245.0L958.1 245.8L960.4 245.5L962.7 246.4L965.0 245.4L967.3 246.3L969.6 245.9L971.7 247.4"/><path d="M621.9 231.5L624.8 233.2L627.7 230.7L630.6 232.9L633.5 230.1L636.4 231.6L639.3 229.9L642.2 232.0L645.1 228.4L648.0 230.9L650.9 228.5L653.8 229.7L656.7 229.0L659.6 229.8L662.5 226.3L665.4 229.0L668.3 227.4L671.2 228.6L674.1 226.5L677.0 228.8L679.9 226.1L682.8 227.4L685.7 225.7L688.6 226.5L691.5 225.9L694.4 226.6L697.3 223.6L700.2 224.3L703.1 217.6L706.0 214.5L708.9 208.6L709.9 206.9L712.2 202.1L714.5 198.4L716.8 195.2L719.1 197.4L721.4 201.1L723.7 205.6L726.0 208.5L728.3 213.6L730.6 217.3L732.9 219.3L735.2 218.8L737.5 220.5L739.8 220.2L742.1 220.5L744.4 219.0L746.7 221.3L749.0 220.2L751.3 222.0L753.6 219.7L755.9 219.6L758.2 215.8L760.5 215.5L762.8 211.2L765.1 209.9L767.4 205.8L769.7 208.6L772.0 207.4L774.3 209.2L776.6 210.2L778.9 214.7L781.2 217.0L783.5 220.5L785.8 220.7L788.1 223.0L790.4 220.9L792.7 219.3L795.0 213.2L797.3 212.4L799.6 206.7L801.9 204.7L804.2 199.4L806.5 197.5L808.8 191.5L811.1 189.6L813.4 183.1L815.7 182.4L818.0 182.2L820.3 185.6L822.6 189.4L824.9 195.4L827.2 199.3L829.5 208.1L831.8 211.7L834.1 218.0L836.4 220.1L838.7 225.3L841.0 227.3L843.3 229.5L845.6 231.4L847.9 233.1L850.2 233.0L852.5 234.5L854.8 233.7L857.1 234.9L859.4 234.4L861.7 235.5L864.0 235.4L866.3 236.1L868.6 235.4L870.9 236.8L873.2 235.4L875.5 235.8L877.8 235.6L880.1 236.5L882.4 235.8L884.7 236.3L887.0 235.8L889.3 236.0L891.6 236.8L893.9 237.0L896.2 236.2L898.5 236.9L900.8 236.3L903.1 237.7L905.4 237.7L907.7 237.9L910.0 237.2L912.3 239.1L914.6 238.0L916.9 238.9L919.2 238.2L921.5 239.4L923.8 238.9L926.1 239.4L928.4 240.0L930.7 240.2L933.0 240.7L935.3 241.6L937.6 240.5L939.9 241.6L942.2 240.0L944.5 240.6L946.8 240.8L949.1 241.3L951.4 240.9L953.7 241.6L956.0 240.9L958.3 241.4L960.6 241.2L962.9 242.2L965.2 241.6L967.5 241.6L969.8 241.7L972.1 241.4L974.2 241.5"/><path d="M624.3 228.3L627.2 225.2L630.1 227.2L633.0 225.2L635.9 226.6L638.8 225.9L641.7 226.0L644.6 224.6L647.5 227.1L650.4 223.7L653.3 226.6L656.2 224.5L659.1 225.8L662.0 223.2L664.9 224.9L667.8 223.7L670.7 224.6L673.6 222.2L676.5 222.5L679.4 221.0L682.3 223.2L685.2 221.8L688.1 222.9L691.0 221.7L693.9 221.9L696.8 220.0L699.7 221.8L702.6 217.9L705.5 215.3L708.4 208.3L711.3 203.8L712.3 200.8L714.6 198.0L716.9 192.6L719.2 192.1L721.5 192.4L723.8 197.1L726.1 199.4L728.4 205.2L730.7 208.7L733.0 211.3L735.3 212.4L737.6 215.2L739.9 214.3L742.2 218.0L744.5 216.3L746.8 217.5L749.1 215.2L751.4 217.9L753.7 216.3L756.0 216.1L758.3 213.9L760.6 213.5L762.9 207.3L765.2 207.6L767.5 202.4L769.8 202.7L772.1 201.5L774.4 204.0L776.7 203.6L779.0 207.1L781.3 209.3L783.6 212.7L785.9 214.7L788.2 217.5L790.5 217.5L792.8 217.1L795.1 211.7L797.4 209.1L799.7 206.6L802.0 203.0L804.3 197.3L806.6 195.8L808.9 190.3L811.2 187.1L813.5 182.9L815.8 180.4L818.1 174.1L820.4 178.3L822.7 180.0L825.0 186.7L827.3 189.8L829.6 196.9L831.9 200.2L834.2 207.5L836.5 212.2L838.8 216.4L841.1 219.8L843.4 223.8L845.7 224.9L848.0 227.2L850.3 228.5L852.6 230.3L854.9 230.0L857.2 230.5L859.5 230.4L861.8 231.4L864.1 230.2L866.4 231.8L868.7 230.3L871.0 231.7L873.3 230.8L875.6 232.1L877.9 231.0L880.2 232.0L882.5 231.9L884.8 232.0L887.1 231.3L889.4 231.6L891.7 231.4L894.0 233.0L896.3 232.2L898.6 233.9L900.9 232.3L903.2 231.4L905.5 231.3L907.8 233.1L910.1 233.0L912.4 233.6L914.7 233.4L917.0 235.4L919.3 234.6L921.6 234.3L923.9 233.9L926.2 235.0L928.5 235.1L930.8 235.8L933.1 235.5L935.4 236.3L937.7 236.5L940.0 236.1L942.3 235.9L944.6 236.7L946.9 235.2L949.2 236.4L951.5 236.5L953.8 236.5L956.1 237.2L958.4 236.6L960.7 236.4L963.0 237.2L965.3 236.4L967.6 236.7L969.9 237.1L972.2 238.1L974.5 235.8L976.6 237.7"/><path d="M626.7 221.3L629.6 223.5L632.5 222.2L635.4 222.2L638.3 220.9L641.2 223.2L644.1 220.0L647.0 221.0L649.9 220.0L652.8 220.3L655.7 219.0L658.6 221.2L661.5 219.0L664.4 220.4L667.3 218.2L670.2 219.7L673.1 217.6L676.0 219.3L678.9 216.9L681.8 218.8L684.7 217.2L687.6 219.3L690.5 215.6L693.4 217.7L696.3 216.2L699.2 217.0L702.1 215.2L705.0 215.9L707.9 208.0L710.8 205.5L713.7 197.1L714.7 197.0L717.0 190.7L719.3 188.6L721.6 185.3L723.9 189.6L726.2 191.6L728.5 197.9L730.8 199.4L733.1 205.0L735.4 206.9L737.7 209.9L740.0 210.5L742.3 213.1L744.6 211.1L746.9 212.2L749.2 211.8L751.5 214.3L753.8 212.1L756.1 212.2L758.4 212.0L760.7 210.3L763.0 207.0L765.3 204.6L767.6 200.3L769.9 200.1L772.2 196.7L774.5 196.8L776.8 198.0L779.1 199.1L781.4 201.1L783.7 205.4L786.0 206.7L788.3 210.7L790.6 210.5L792.9 213.7L795.2 210.3L797.5 208.9L799.8 204.8L802.1 202.9L804.4 196.2L806.7 195.3L809.0 187.9L811.3 185.7L813.6 181.1L815.9 179.0L818.2 173.0L820.5 171.0L822.8 171.0L825.1 176.2L827.4 178.9L829.7 185.6L832.0 190.4L834.3 197.8L836.6 203.0L838.9 209.3L841.2 211.9L843.5 216.4L845.8 218.0L848.1 220.0L850.4 221.6L852.7 223.9L855.0 223.5L857.3 225.8L859.6 225.6L861.9 225.1L864.2 226.5L866.5 226.8L868.8 226.5L871.1 226.3L873.4 226.8L875.7 226.7L878.0 226.7L880.3 227.8L882.6 226.4L884.9 227.1L887.2 227.3L889.5 228.0L891.8 227.5L894.1 227.4L896.4 227.0L898.7 228.0L901.0 227.2L903.3 227.7L905.6 226.3L907.9 228.3L910.2 228.8L912.5 229.5L914.8 228.7L917.1 229.6L919.4 228.8L921.7 231.1L924.0 229.8L926.3 230.2L928.6 230.5L930.9 230.7L933.2 230.8L935.5 231.8L937.8 230.4L940.1 232.3L942.4 230.5L944.7 232.0L947.0 231.7L949.3 232.4L951.6 232.0L953.9 232.7L956.2 231.7L958.5 233.5L960.8 231.2L963.1 232.1L965.4 231.3L967.7 233.3L970.0 233.2L972.3 233.3L974.6 232.3L976.9 233.0L979.0 232.6"/><path d="M629.2 218.8L632.1 216.2L635.0 217.4L637.9 216.4L640.8 217.8L643.7 216.4L646.6 216.2L649.5 215.3L652.4 216.2L655.3 215.0L658.2 216.9L661.1 214.2L664.0 216.3L666.9 214.5L669.8 216.2L672.7 213.5L675.6 215.8L678.5 213.4L681.4 215.0L684.3 214.1L687.2 214.0L690.1 212.0L693.0 215.1L695.9 212.8L698.8 213.5L701.7 211.7L704.6 213.3L707.5 206.9L710.4 204.7L713.3 198.0L716.2 195.0L717.2 190.6L719.5 186.5L721.8 181.5L724.1 181.5L726.4 183.6L728.7 187.3L731.0 191.9L733.3 195.1L735.6 198.6L737.9 204.9L740.2 206.0L742.5 206.9L744.8 206.6L747.1 209.1L749.4 206.9L751.7 207.4L754.0 207.4L756.3 210.5L758.6 208.0L760.9 209.5L763.2 205.4L765.5 203.0L767.8 198.5L770.1 197.6L772.4 192.7L774.7 193.6L777.0 191.5L779.3 194.1L781.6 192.5L783.9 197.5L786.2 198.5L788.5 203.8L790.8 204.8L793.1 208.8L795.4 207.2L797.7 207.6L800.0 200.0L802.3 200.3L804.6 194.9L806.9 193.1L809.2 187.7L811.5 184.8L813.8 179.8L816.1 177.1L818.4 172.6L820.7 169.9L823.0 165.5L825.3 166.4L827.6 170.1L829.9 175.5L832.2 178.9L834.5 185.6L836.8 191.9L839.1 198.9L841.4 202.3L843.7 207.9L846.0 211.5L848.3 215.3L850.6 216.6L852.9 218.1L855.2 219.1L857.5 220.1L859.8 220.6L862.1 221.6L864.4 220.8L866.7 222.1L869.0 221.4L871.3 222.9L873.6 222.1L875.9 222.3L878.2 222.0L880.5 222.9L882.8 221.7L885.1 222.4L887.4 222.3L889.7 223.3L892.0 221.9L894.3 221.9L896.6 223.1L898.9 224.1L901.2 223.4L903.5 224.1L905.8 222.9L908.1 222.9L910.4 222.3L912.7 223.8L915.0 223.3L917.3 224.7L919.6 224.9L921.9 225.0L924.2 225.4L926.5 225.9L928.8 226.1L931.1 225.5L933.4 225.4L935.7 226.9L938.0 226.3L940.3 227.0L942.6 226.4L944.9 226.9L947.2 226.8L949.5 227.2L951.8 227.6L954.1 227.9L956.4 228.0L958.7 227.0L961.0 226.7L963.3 227.7L965.6 226.9L967.9 227.3L970.2 227.1L972.5 229.2L974.8 227.8L977.1 229.7L979.4 228.4L981.5 229.0"/><path d="M631.6 213.0L634.5 214.1L637.4 211.5L640.3 213.9L643.2 212.6L646.1 214.4L649.0 212.1L651.9 212.0L654.8 210.9L657.7 212.7L660.6 210.6L663.5 211.8L666.4 211.1L669.3 211.3L672.2 209.2L675.1 211.0L678.0 210.9L680.9 210.7L683.8 207.7L686.7 210.7L689.6 207.3L692.5 210.0L695.4 208.7L698.3 209.4L701.2 207.4L704.1 208.3L707.0 206.8L709.9 204.0L712.8 198.2L715.7 194.4L718.6 187.6L719.6 187.3L721.9 181.2L724.2 178.7L726.5 175.9L728.8 179.0L731.1 181.0L733.4 186.8L735.7 190.0L738.0 195.2L740.3 197.8L742.6 202.2L744.9 202.7L747.2 204.1L749.5 203.4L751.8 205.8L754.1 202.4L756.4 205.8L758.7 203.1L761.0 204.2L763.3 202.9L765.6 199.8L767.9 197.0L770.2 195.4L772.5 189.0L774.8 189.4L777.1 187.2L779.4 189.4L781.7 188.1L784.0 189.5L786.3 190.7L788.6 197.0L790.9 197.0L793.2 200.0L795.5 203.1L797.8 203.3L800.1 198.8L802.4 196.8L804.7 193.9L807.0 192.0L809.3 186.6L811.6 182.8L813.9 178.1L816.2 176.6L818.5 171.8L820.8 168.5L823.1 163.3L825.4 160.6L827.7 160.8L830.0 164.4L832.3 168.1L834.6 175.2L836.9 179.4L839.2 188.3L841.5 192.7L843.8 198.9L846.1 201.9L848.4 207.9L850.7 209.0L853.0 211.7L855.3 213.5L857.6 215.2L859.9 215.4L862.2 216.6L864.5 216.0L866.8 217.6L869.1 216.3L871.4 217.3L873.7 216.9L876.0 219.0L878.3 218.2L880.6 217.6L882.9 217.7L885.2 218.4L887.5 217.9L889.8 218.8L892.1 217.8L894.4 218.8L896.7 218.2L899.0 218.4L901.3 218.9L903.6 218.6L905.9 219.6L908.2 217.1L910.5 217.5L912.8 218.3L915.1 218.7L917.4 220.1L919.7 219.4L922.0 220.8L924.3 221.1L926.6 221.0L928.9 220.1L931.2 221.8L933.5 221.9L935.8 222.2L938.1 221.2L940.4 222.0L942.7 221.3L945.0 222.2L947.3 221.7L949.6 224.0L951.9 221.0L954.2 223.0L956.5 222.0L958.8 223.3L961.1 222.8L963.4 223.5L965.7 222.1L968.0 222.7L970.3 222.7L972.6 222.8L974.9 223.2L977.2 223.5L979.5 223.5L981.8 223.4L983.9 223.3"/><path d="M634.0 209.6L636.9 207.5L639.8 209.6L642.7 208.5L645.6 209.6L648.5 206.3L651.4 208.8L654.3 206.3L657.2 209.2L660.1 206.1L663.0 208.8L665.9 206.5L668.8 207.8L671.7 205.2L674.6 206.5L677.5 206.0L680.4 206.2L683.3 203.6L686.2 205.6L689.1 204.3L692.0 206.1L694.9 203.8L697.8 204.9L700.7 203.4L703.6 204.8L706.5 201.8L709.4 204.1L712.3 198.8L715.2 195.1L718.1 188.0L721.0 183.9L722.0 180.2L724.3 175.6L726.6 171.8L728.9 172.0L731.2 171.6L733.5 178.7L735.8 180.8L738.1 186.6L740.4 189.4L742.7 194.3L745.0 196.1L747.3 199.6L749.6 198.6L751.9 200.4L754.2 198.6L756.5 200.1L758.8 198.6L761.1 201.4L763.4 198.1L765.7 199.7L768.0 196.5L770.3 194.4L772.6 189.1L774.9 185.5L777.2 182.1L779.5 183.8L781.8 182.2L784.1 184.4L786.4 184.3L788.7 188.1L791.0 190.7L793.3 195.0L795.6 197.4L797.9 199.3L800.2 197.2L802.5 195.9L804.8 191.8L807.1 188.6L809.4 184.8L811.7 182.0L814.0 176.5L816.3 174.1L818.6 169.1L820.9 167.0L823.2 161.7L825.5 159.3L827.8 154.1L830.1 157.2L832.4 158.7L834.7 164.4L837.0 168.9L839.3 175.6L841.6 180.7L843.9 189.2L846.2 192.2L848.5 200.0L850.8 201.1L853.1 205.1L855.4 206.8L857.7 210.3L860.0 208.8L862.3 211.5L864.6 211.5L866.9 212.0L869.2 212.2L871.5 213.4L873.8 212.2L876.1 213.8L878.4 212.4L880.7 213.3L883.0 212.2L885.3 214.0L887.6 212.2L889.9 213.4L892.2 212.0L894.5 214.1L896.8 212.4L899.1 213.7L901.4 213.2L903.7 214.6L906.0 213.5L908.3 214.2L910.6 213.4L912.9 213.2L915.2 213.5L917.5 214.5L919.8 214.9L922.1 215.4L924.4 215.3L926.7 216.4L929.0 215.8L931.3 217.0L933.6 215.8L935.9 217.0L938.2 216.7L940.5 218.1L942.8 216.9L945.1 218.3L947.4 217.7L949.7 217.6L952.0 218.1L954.3 218.4L956.6 217.6L958.9 218.0L961.2 218.3L963.5 218.8L965.8 218.3L968.1 219.6L970.4 219.7L972.7 220.1L975.0 218.3L977.3 219.2L979.6 219.4L981.9 219.7L984.2 219.0L986.3 219.6"/><path d="M636.5 202.4L639.4 205.2L642.2 203.6L645.2 205.4L648.1 203.2L651.0 204.9L653.9 203.7L656.8 203.7L659.7 201.6L662.6 202.9L665.5 202.4L668.4 202.8L671.2 200.9L674.2 202.2L677.1 200.4L680.0 202.6L682.9 200.4L685.8 202.7L688.7 200.6L691.6 201.9L694.5 199.8L697.4 202.1L700.2 197.7L703.2 200.2L706.1 199.4L709.0 200.2L711.9 198.1L714.8 194.7L717.7 187.5L720.6 184.7L723.5 177.0L724.5 177.1L726.8 170.2L729.1 167.2L731.4 165.3L733.7 168.5L736.0 171.4L738.2 177.8L740.6 182.2L742.9 186.8L745.1 188.8L747.5 193.1L749.8 193.2L752.0 195.0L754.4 194.8L756.6 196.5L759.0 194.0L761.2 196.1L763.5 193.6L765.9 196.4L768.1 194.2L770.5 191.2L772.8 185.9L775.0 185.1L777.3 179.9L779.6 177.7L782.0 175.6L784.2 178.8L786.5 177.9L788.8 180.8L791.1 181.4L793.4 185.5L795.8 186.9L798.0 193.0L800.3 193.1L802.6 193.4L804.9 188.6L807.2 189.3L809.5 183.4L811.8 179.3L814.1 174.9L816.4 173.9L818.8 167.8L821.0 165.0L823.3 159.7L825.6 157.8L827.9 152.8L830.2 150.1L832.5 150.4L834.8 154.4L837.1 158.0L839.4 165.8L841.7 169.3L844.0 177.9L846.3 182.5L848.6 189.9L850.9 192.6L853.2 197.8L855.5 200.5L857.8 202.9L860.1 203.7L862.4 205.3L864.7 205.7L867.0 207.7L869.3 206.6L871.6 208.1L873.9 206.9L876.2 209.3L878.5 207.5L880.8 209.2L883.1 207.7L885.4 209.1L887.7 207.8L890.0 209.2L892.3 209.3L894.6 209.8L896.9 208.9L899.2 209.3L901.5 209.9L903.8 210.2L906.1 209.4L908.4 210.2L910.7 209.1L913.0 209.5L915.3 208.3L917.6 209.3L919.9 210.2L922.2 210.6L924.5 211.0L926.8 211.2L929.1 211.8L931.4 209.5L933.7 211.5L936.0 212.3L938.3 212.5L940.6 213.0L942.9 212.8L945.2 213.2L947.5 212.5L949.8 212.0L952.1 213.0L954.4 213.4L956.7 213.3L959.0 213.5L961.3 213.4L963.6 213.6L965.9 213.4L968.2 213.3L970.5 213.1L972.8 215.3L975.1 213.9L977.4 214.6L979.7 215.1L982.0 215.2L984.3 214.4L986.6 215.2L988.8 214.2"/><path d="M638.9 200.0L641.8 198.6L644.7 199.5L647.6 197.7L650.5 200.0L653.4 198.8L656.3 199.5L659.2 197.7L662.1 200.1L665.0 197.9L667.9 199.0L670.8 196.8L673.7 198.0L676.6 197.1L679.5 198.1L682.4 196.3L685.3 198.2L688.2 195.2L691.1 197.4L694.0 196.3L696.9 196.1L699.8 194.0L702.7 196.7L705.6 193.4L708.5 195.4L711.4 194.1L714.3 192.6L717.2 188.4L720.1 184.6L723.0 178.7L725.9 173.6L726.9 170.6L729.2 166.9L731.5 163.0L733.8 161.0L736.1 161.9L738.4 166.4L740.7 173.4L743.0 177.5L745.3 180.6L747.6 187.6L749.9 187.5L752.2 189.8L754.5 188.2L756.8 191.8L759.1 189.8L761.4 191.5L763.7 189.9L766.0 191.9L768.3 189.2L770.6 188.8L772.9 186.3L775.2 182.0L777.5 178.7L779.8 176.4L782.1 171.6L784.4 172.8L786.7 171.5L789.0 173.8L791.3 172.5L793.6 177.8L795.9 180.6L798.2 184.0L800.5 185.9L802.8 188.4L805.1 186.0L807.4 184.4L809.7 180.5L812.0 179.6L814.3 173.8L816.6 171.4L818.9 166.0L821.2 164.2L823.5 158.8L825.8 155.9L828.1 150.9L830.4 148.3L832.7 142.9L835.0 146.5L837.3 147.6L839.6 154.0L841.9 157.9L844.2 165.9L846.5 170.4L848.8 179.2L851.1 183.4L853.4 188.7L855.7 192.5L858.0 196.5L860.3 197.7L862.6 200.1L864.9 201.5L867.2 202.3L869.5 202.6L871.8 203.3L874.1 202.9L876.4 204.1L878.7 202.8L881.0 203.9L883.3 203.9L885.6 204.4L887.9 203.3L890.2 204.0L892.5 203.4L894.8 204.6L897.1 204.0L899.4 203.6L901.7 204.1L904.0 204.0L906.3 204.1L908.6 205.4L910.9 205.4L913.2 205.1L915.5 204.1L917.8 203.9L920.1 204.9L922.4 205.6L924.7 205.8L927.0 206.7L929.3 206.2L931.6 207.2L933.9 206.9L936.2 207.5L938.5 207.4L940.8 209.4L943.1 207.2L945.4 208.2L947.7 208.1L950.0 207.9L952.3 209.0L954.6 210.6L956.9 207.9L959.2 209.2L961.5 209.7L963.8 209.7L966.1 208.6L968.4 210.3L970.7 209.0L973.0 208.8L975.3 208.6L977.6 210.1L979.9 209.3L982.2 210.6L984.5 209.5L986.8 210.6L989.1 210.2L991.2 211.0"/><path d="M641.3 193.9L644.2 196.8L647.1 193.9L650.0 196.3L652.9 193.6L655.8 196.3L658.7 193.8L661.6 196.0L664.5 192.4L667.4 194.7L670.3 192.6L673.2 195.2L676.1 193.3L679.0 193.6L681.9 192.5L684.8 193.1L687.7 191.9L690.6 192.6L693.5 190.9L696.4 192.4L699.3 190.2L702.2 192.3L705.1 189.8L708.0 191.1L710.9 189.1L713.8 191.0L716.7 187.5L719.6 185.2L722.5 177.3L725.4 173.9L728.3 168.1L729.3 166.5L731.6 161.0L733.9 158.0L736.2 155.6L738.5 158.0L740.8 162.8L743.1 168.8L745.4 171.1L747.7 178.2L750.0 179.5L752.3 183.8L754.6 185.3L756.9 185.7L759.2 184.5L761.5 186.6L763.8 186.8L766.1 186.3L768.4 186.2L770.7 186.6L773.0 183.1L775.3 182.2L777.6 177.9L779.9 174.7L782.2 169.9L784.5 169.1L786.8 167.2L789.1 168.2L791.4 168.0L793.7 169.6L796.0 171.6L798.3 176.2L800.6 178.1L802.9 182.9L805.2 183.0L807.5 182.1L809.8 179.1L812.1 176.7L814.4 171.3L816.7 169.4L819.0 164.5L821.3 162.4L823.6 157.6L825.9 154.6L828.2 150.0L830.5 147.0L832.8 142.1L835.1 139.7L837.4 139.7L839.7 143.7L842.0 147.9L844.3 155.2L846.6 160.0L848.9 168.5L851.2 172.6L853.5 179.6L855.8 182.1L858.1 188.9L860.4 190.9L862.7 194.1L865.0 195.1L867.3 196.6L869.6 197.9L871.9 198.8L874.2 198.1L876.5 198.9L878.8 199.4L881.1 200.5L883.4 198.5L885.7 199.5L888.0 198.8L890.3 200.5L892.6 199.6L894.9 199.9L897.2 199.4L899.5 200.3L901.8 199.6L904.1 199.8L906.4 200.1L908.7 201.0L911.0 200.4L913.3 201.1L915.6 200.3L917.9 200.2L920.2 198.8L922.5 199.5L924.8 200.8L927.1 202.2L929.4 201.2L931.7 202.8L934.0 202.3L936.3 202.9L938.6 202.8L940.9 203.5L943.2 202.8L945.5 204.4L947.8 203.6L950.1 204.1L952.4 203.7L954.7 204.3L957.0 202.9L959.3 204.4L961.6 204.2L963.9 205.0L966.2 204.3L968.5 204.9L970.8 204.7L973.1 204.6L975.4 205.3L977.7 205.2L980.0 204.6L982.3 206.1L984.6 204.9L986.9 205.5L989.2 205.5L991.5 204.8L993.6 204.9"/><path d="M643.7 189.5L646.6 189.4L649.5 191.2L652.4 189.9L655.3 191.1L658.2 187.7L661.1 189.6L664.0 189.2L666.9 190.8L669.8 188.5L672.7 190.5L675.6 187.3L678.5 190.4L681.4 188.1L684.3 188.8L687.2 187.7L690.1 187.9L693.0 187.7L695.9 188.7L698.8 186.5L701.7 187.3L704.6 186.1L707.5 187.6L710.4 184.6L713.3 186.5L716.2 185.2L719.1 184.2L722.0 178.3L724.9 173.9L727.8 167.2L730.7 163.8L731.7 160.4L734.0 157.3L736.3 151.2L738.6 151.7L740.9 153.3L743.2 158.4L745.5 161.8L747.8 167.5L750.1 171.2L752.4 175.2L754.7 177.7L757.0 180.5L759.3 180.6L761.6 183.0L763.9 181.3L766.2 182.1L768.5 180.9L770.8 182.6L773.1 181.0L775.4 180.4L777.7 175.4L780.0 172.9L782.3 167.8L784.6 168.3L786.9 161.5L789.2 162.4L791.5 161.4L793.8 164.1L796.1 163.0L798.4 167.8L800.7 169.9L803.0 175.0L805.3 177.2L807.6 178.8L809.9 175.2L812.2 175.0L814.5 170.3L816.8 169.5L819.1 163.5L821.4 160.9L823.7 156.4L826.0 154.1L828.3 148.6L830.6 147.0L832.9 140.4L835.2 137.7L837.5 132.7L839.8 136.5L842.1 138.1L844.4 143.7L846.7 148.0L849.0 157.0L851.3 161.1L853.6 169.1L855.9 173.4L858.2 180.5L860.5 183.6L862.8 186.8L865.1 187.6L867.4 191.3L869.7 191.3L872.0 192.4L874.3 194.0L876.6 194.8L878.9 193.3L881.2 194.6L883.5 194.3L885.8 195.4L888.1 194.4L890.4 195.6L892.7 193.5L895.0 195.9L897.3 195.8L899.6 195.6L901.9 194.3L904.2 196.1L906.5 195.2L908.8 196.4L911.1 195.6L913.4 190.5L915.7 196.2L918.0 197.1L920.3 195.1L922.6 193.7L924.9 195.1L927.2 197.0L929.5 195.8L931.8 198.1L934.1 198.0L936.4 198.0L938.7 198.4L941.0 198.6L943.3 197.6L945.6 199.6L947.9 198.8L950.2 198.7L952.5 199.4L954.8 200.1L957.1 199.1L959.4 200.2L961.7 199.9L964.0 199.6L966.3 200.1L968.6 200.3L970.9 200.3L973.2 200.7L975.5 200.8L977.8 200.5L980.1 200.7L982.4 200.3L984.7 201.2L987.0 201.5L989.3 200.3L991.6 201.4L993.9 201.1L996.0 201.6"/><path d="M646.2 184.5L649.1 187.5L652.0 185.2L654.9 188.0L657.8 184.1L660.7 187.9L663.6 185.2L666.5 186.1L669.4 184.3L672.3 185.7L675.2 184.4L678.1 185.3L681.0 184.6L683.9 184.6L686.8 182.8L689.7 183.8L692.6 182.7L695.5 183.4L698.4 181.8L701.3 182.7L704.2 181.0L707.1 183.3L710.0 181.4L712.9 184.3L715.8 180.0L718.7 181.7L721.6 176.4L724.5 175.7L727.4 167.2L730.3 164.2L733.2 156.4L734.2 157.0L736.5 150.4L738.8 148.3L741.1 144.4L743.4 148.9L745.7 151.5L748.0 157.6L750.3 162.1L752.6 168.5L754.9 169.6L757.2 174.5L759.5 174.8L761.8 177.6L764.1 176.7L766.4 180.0L768.7 176.2L771.0 178.7L773.3 176.2L775.6 175.8L777.9 174.0L780.2 170.6L782.5 166.9L784.8 164.1L787.1 160.6L789.4 158.5L791.7 156.6L794.0 157.8L796.3 156.6L798.6 159.3L800.9 161.5L803.2 164.9L805.5 169.1L807.8 172.9L810.1 171.8L812.4 171.1L814.7 167.3L817.0 166.7L819.3 162.1L821.6 158.5L823.9 153.5L826.2 151.5L828.5 146.7L830.8 144.3L833.1 138.8L835.4 137.0L837.7 131.5L840.0 129.7L842.3 129.9L844.6 134.2L846.9 137.9L849.2 145.6L851.5 150.0L853.8 158.3L856.1 163.7L858.4 170.7L860.7 174.1L863.0 178.7L865.3 181.2L867.6 184.9L869.9 186.3L872.2 187.9L874.5 187.2L876.8 189.1L879.1 189.9L881.4 190.1L883.7 190.0L886.0 190.9L888.3 190.8L890.6 190.7L892.9 190.9L895.2 191.2L897.5 189.5L899.8 190.5L902.1 191.0L904.4 191.5L906.7 191.0L909.0 192.1L911.3 191.3L913.6 191.7L915.9 191.6L918.2 191.5L920.5 191.4L922.8 191.2L925.1 188.7L927.4 190.9L929.7 192.0L932.0 192.2L934.3 192.0L936.6 194.0L938.9 192.9L941.2 194.2L943.5 194.2L945.8 193.5L948.1 193.3L950.4 195.2L952.7 194.0L955.0 195.9L957.3 194.1L959.6 195.4L961.9 194.9L964.2 195.0L966.5 195.2L968.8 196.1L971.1 194.9L973.4 196.3L975.7 195.0L978.0 196.4L980.3 195.4L982.6 196.1L984.9 195.5L987.2 197.0L989.5 195.2L991.8 196.8L994.1 195.2L996.4 197.1L998.5 196.4"/><path d="M648.6 182.5L651.5 180.9L654.4 182.0L657.3 179.2L660.2 183.1L663.1 180.7L666.0 181.6L668.9 179.7L671.8 182.4L674.7 179.5L677.6 180.9L680.5 179.2L683.4 180.2L686.3 178.7L689.2 180.6L692.1 177.5L695.0 179.4L697.9 177.1L700.8 179.1L703.7 178.1L706.6 178.6L709.5 176.4L712.4 177.8L715.3 176.8L718.2 177.6L721.1 175.6L724.0 175.2L726.9 167.4L729.8 164.8L732.7 157.6L735.6 153.5L736.6 150.5L738.9 147.1L741.2 141.8L743.5 141.6L745.8 141.8L748.1 148.1L750.4 151.5L752.7 158.0L755.0 162.7L757.3 166.9L759.6 168.3L761.9 171.7L764.2 170.7L766.5 172.4L768.8 172.0L771.1 174.9L773.4 172.0L775.7 173.6L778.0 170.9L780.3 169.5L782.6 165.2L784.9 161.8L787.2 158.0L789.5 156.2L791.8 151.7L794.1 152.5L796.4 151.6L798.7 153.8L801.0 153.2L803.3 158.1L805.6 161.7L807.9 166.1L810.2 166.1L812.5 168.0L814.8 163.5L817.1 162.6L819.4 160.3L821.7 157.8L824.0 151.2L826.3 151.2L828.6 145.3L830.9 143.0L833.2 137.6L835.5 135.1L837.8 130.1L840.1 127.0L842.4 122.9L844.7 125.6L847.0 127.7L849.3 133.9L851.6 138.3L853.9 146.9L856.2 152.1L858.5 160.4L860.8 164.6L863.1 170.3L865.4 174.7L867.7 177.6L870.0 179.3L872.3 182.3L874.6 182.4L876.9 183.8L879.2 184.9L881.5 185.1L883.8 184.9L886.1 186.2L888.4 185.3L890.7 185.9L893.0 186.0L895.3 187.4L897.6 185.5L899.9 186.7L902.2 186.8L904.5 186.8L906.8 187.2L909.1 186.9L911.4 185.4L913.7 188.3L916.0 186.3L918.3 187.6L920.6 186.9L922.9 187.8L925.2 185.6L927.5 185.7L929.8 186.4L932.1 188.7L934.4 188.1L936.7 188.2L939.0 189.1L941.3 189.1L943.6 188.5L945.9 190.7L948.2 188.6L950.5 190.0L952.8 188.4L955.1 189.4L957.4 190.1L959.7 190.9L962.0 190.8L964.3 191.8L966.6 190.0L968.9 191.5L971.2 190.8L973.5 191.6L975.8 190.7L978.1 191.1L980.4 191.2L982.7 191.9L985.0 191.3L987.3 191.1L989.6 192.4L991.9 192.6L994.2 191.3L996.5 192.3L998.8 191.1L1000.9 191.7"/><path d="M651.0 176.1L653.9 179.9L656.8 176.9L659.7 177.4L662.6 175.7L665.5 177.1L668.4 175.0L671.3 177.2L674.2 174.3L677.1 177.4L680.0 173.5L682.9 176.6L685.8 174.6L688.7 175.2L691.6 173.2L694.5 175.1L697.4 173.9L700.3 174.6L703.2 172.5L706.1 174.9L709.0 172.6L711.9 174.4L714.8 172.3L717.7 174.3L720.6 172.6L723.5 172.0L726.4 167.3L729.3 164.1L732.2 157.7L735.1 154.3L738.0 147.3L739.0 146.0L741.3 140.9L743.6 136.5L745.9 133.5L748.2 137.7L750.5 142.8L752.8 149.3L755.1 153.0L757.4 159.4L759.7 160.6L762.0 165.3L764.3 166.5L766.6 168.3L768.9 166.8L771.2 169.7L773.5 167.6L775.8 170.4L778.1 167.6L780.4 167.8L782.7 163.3L785.0 161.2L787.3 155.9L789.6 154.1L791.9 150.3L794.2 149.4L796.5 147.3L798.8 149.0L801.1 148.3L803.4 149.9L805.7 151.1L808.0 156.5L810.3 159.1L812.6 163.2L814.9 161.1L817.2 161.0L819.5 157.2L821.8 157.1L824.1 151.6L826.4 150.6L828.7 144.3L831.0 141.2L833.3 136.8L835.6 133.9L837.9 129.1L840.2 126.3L842.5 119.6L844.8 118.1L847.1 118.9L849.4 124.0L851.7 126.9L854.0 134.9L856.3 140.2L858.6 148.7L860.9 153.4L863.2 161.0L865.5 165.2L867.8 168.9L870.1 172.2L872.4 176.1L874.7 177.6L877.0 179.3L879.3 179.6L881.6 180.6L883.9 181.0L886.2 181.6L888.5 180.8L890.8 181.3L893.1 181.9L895.4 181.7L897.7 181.7L900.0 182.4L902.3 181.5L904.6 182.4L906.9 181.1L909.2 181.8L911.5 181.8L913.8 182.5L916.1 180.9L918.4 181.6L920.7 181.9L923.0 183.0L925.3 181.6L927.6 181.3L929.9 180.6L932.2 181.4L934.5 182.9L936.8 183.6L939.1 183.8L941.4 184.4L943.7 184.3L946.0 185.0L948.3 184.0L950.6 185.8L952.9 185.1L955.2 185.4L957.5 185.4L959.8 185.0L962.1 186.4L964.4 185.1L966.7 186.1L969.0 186.0L971.3 185.2L973.6 186.5L975.9 187.2L978.2 187.4L980.5 186.6L982.8 187.1L985.1 186.3L987.4 186.8L989.7 186.0L992.0 188.0L994.3 186.4L996.6 188.6L998.9 187.1L1001.2 188.2L1003.3 188.0"/><path d="M653.5 174.2L656.4 171.3L659.3 173.1L662.2 171.5L665.1 174.0L668.0 171.0L670.9 172.5L673.8 170.8L676.7 171.7L679.6 169.1L682.5 171.2L685.4 170.6L688.3 171.7L691.2 169.2L694.1 171.2L697.0 170.4L699.9 171.0L702.8 167.4L705.7 171.2L708.6 168.9L711.5 170.3L714.4 167.2L717.3 169.4L720.2 167.9L723.1 169.4L726.0 166.1L728.9 164.8L731.8 158.1L734.7 154.1L737.6 146.5L740.5 144.4L741.5 140.9L743.8 137.9L746.1 131.8L748.4 133.5L750.7 132.7L753.0 137.5L755.3 142.7L757.6 148.5L759.9 155.2L762.2 158.1L764.5 158.9L766.8 161.4L769.1 163.1L771.4 164.9L773.7 163.0L776.0 165.7L778.3 163.6L780.6 165.3L782.9 161.4L785.2 159.4L787.5 153.5L789.8 152.3L792.1 148.4L794.4 146.2L796.7 143.0L799.0 143.2L801.3 142.5L803.6 144.0L805.9 142.4L808.2 149.4L810.5 150.5L812.8 155.0L815.1 156.9L817.4 155.7L819.7 154.4L822.0 151.7L824.3 148.6L826.6 146.6L828.9 142.4L831.2 139.4L833.5 135.8L835.8 133.2L838.1 128.2L840.4 124.7L842.7 120.0L845.0 116.3L847.3 112.2L849.6 115.8L851.9 117.0L854.2 123.4L856.5 128.4L858.8 136.4L861.1 142.1L863.4 150.4L865.7 154.5L868.0 161.8L870.3 165.1L872.6 168.9L874.9 170.0L877.2 173.2L879.5 172.7L881.8 176.9L884.1 175.7L886.4 176.5L888.7 175.9L891.0 176.3L893.3 176.5L895.6 177.7L897.9 176.3L900.2 176.6L902.5 178.1L904.8 177.1L907.1 176.8L909.4 177.9L911.7 177.2L914.0 177.4L916.3 177.1L918.6 177.9L920.9 178.1L923.2 178.0L925.5 177.9L927.8 178.3L930.1 177.1L932.4 176.3L934.7 176.8L937.0 178.9L939.3 178.7L941.6 180.5L943.9 179.1L946.2 180.0L948.5 180.2L950.8 180.8L953.1 181.6L955.4 180.9L957.7 180.6L960.0 182.6L962.3 180.6L964.6 182.0L966.9 181.0L969.2 182.2L971.5 181.1L973.8 182.3L976.1 181.8L978.4 182.3L980.7 181.4L983.0 183.7L985.3 182.1L987.6 183.2L989.9 182.7L992.2 182.4L994.5 181.9L996.8 183.7L999.1 183.1L1001.4 182.8L1003.7 183.0L1005.8 183.6"/><path d="M655.9 167.1L658.8 168.0L661.7 167.3L664.6 169.5L667.5 166.6L670.4 168.7L673.3 166.0L676.2 169.4L679.1 165.8L682.0 167.7L684.9 166.3L687.8 167.0L690.7 165.4L693.6 167.5L696.5 164.1L699.4 166.5L702.3 163.9L705.2 164.9L708.1 163.9L711.0 165.3L713.9 163.6L716.8 164.6L719.7 162.9L722.6 165.1L725.5 163.6L728.4 164.1L731.3 158.4L734.2 153.7L737.1 147.6L740.0 143.5L742.9 136.1L743.9 135.8L746.2 129.4L748.5 127.9L750.8 124.4L753.1 128.6L755.4 132.5L757.7 139.0L760.0 143.8L762.3 149.8L764.6 152.2L766.9 157.6L769.2 157.8L771.5 160.0L773.8 158.4L776.1 160.6L778.4 158.8L780.7 160.8L783.0 158.9L785.3 157.3L787.6 152.9L789.9 150.8L792.2 146.1L794.5 143.8L796.8 138.9L799.1 138.6L801.4 137.0L803.7 139.6L806.0 136.8L808.3 140.2L810.6 142.9L812.9 147.2L815.2 148.7L817.5 153.5L819.8 150.4L822.1 150.8L824.4 147.2L826.7 143.7L829.0 140.6L831.3 138.8L833.6 133.4L835.9 131.0L838.2 126.0L840.5 124.2L842.8 118.8L845.1 114.4L847.4 110.7L849.7 107.6L852.0 109.1L854.3 112.8L856.6 116.8L858.9 124.6L861.2 129.4L863.5 138.9L865.8 144.2L868.1 151.6L870.4 155.9L872.7 160.7L875.0 163.9L877.3 166.6L879.6 167.0L881.9 170.6L884.2 170.7L886.5 171.8L888.8 171.4L891.1 171.7L893.4 171.5L895.7 172.2L898.0 172.0L900.3 171.7L902.6 172.8L904.9 173.4L907.2 172.2L909.5 172.7L911.8 172.4L914.1 173.5L916.4 173.0L918.7 173.4L921.0 173.0L923.3 173.6L925.6 173.6L927.9 173.1L930.2 173.0L932.5 171.8L934.8 171.6L937.1 173.0L939.4 174.1L941.7 174.9L944.0 174.6L946.3 175.5L948.6 176.1L950.9 176.1L953.2 175.1L955.5 177.3L957.8 176.1L960.1 176.4L962.4 175.6L964.7 177.1L967.0 176.3L969.3 176.6L971.6 176.2L973.9 177.7L976.2 177.3L978.5 177.2L980.8 177.1L983.1 178.4L985.4 177.6L987.7 178.0L990.0 177.9L992.3 178.5L994.6 177.9L996.9 179.2L999.2 177.0L1001.5 178.0L1003.8 177.3L1006.1 178.9L1008.2 178.1"/><path d="M658.3 165.1L661.2 161.7L664.1 164.1L667.0 162.5L669.9 163.6L672.8 162.2L675.7 164.0L678.6 161.2L681.5 162.8L684.4 161.7L687.3 162.7L690.2 161.4L693.1 162.0L696.0 160.8L698.9 162.7L701.8 160.5L704.7 161.3L707.6 160.0L710.5 161.3L713.4 160.0L716.3 161.7L719.2 158.4L722.1 159.4L725.0 157.2L727.9 159.4L730.8 156.6L733.7 154.9L736.6 148.1L739.5 144.2L742.4 136.2L745.3 133.3L746.3 130.0L748.6 127.3L750.9 120.8L753.2 121.4L755.5 122.4L757.8 128.4L760.1 131.7L762.4 140.7L764.7 143.5L767.0 149.3L769.3 150.9L771.6 152.8L773.9 152.9L776.2 155.9L778.5 153.9L780.8 155.5L783.1 153.4L785.4 155.3L787.7 151.0L790.0 149.6L792.3 144.7L794.6 142.5L796.9 138.1L799.2 135.9L801.5 130.9L803.8 133.8L806.1 132.7L808.4 133.8L810.7 133.9L813.0 137.7L815.3 140.6L817.6 147.2L819.9 145.9L822.2 147.1L824.5 142.8L826.8 141.7L829.1 139.3L831.4 137.4L833.7 132.2L836.0 130.1L838.3 124.2L840.6 121.3L842.9 116.3L845.2 113.5L847.5 108.3L849.8 106.3L852.1 102.1L854.4 105.1L856.7 106.7L859.0 112.7L861.3 117.8L863.6 127.0L865.9 132.6L868.2 140.6L870.5 144.9L872.8 151.9L875.1 155.2L877.4 159.9L879.7 161.2L882.0 163.7L884.3 165.2L886.6 165.3L888.9 166.7L891.2 166.9L893.5 167.1L895.8 167.7L898.1 167.8L900.4 168.5L902.7 167.4L905.0 168.3L907.3 167.7L909.6 168.0L911.9 167.4L914.2 168.3L916.5 167.9L918.8 167.9L921.1 168.2L923.4 168.6L925.7 168.0L928.0 169.9L930.3 169.5L932.6 169.1L934.9 167.3L937.2 167.5L939.5 168.3L941.8 170.4L944.1 169.5L946.4 170.9L948.7 171.0L951.0 170.7L953.3 170.6L955.6 171.4L957.9 170.7L960.2 171.2L962.5 171.4L964.8 172.4L967.1 172.9L969.4 172.4L971.7 172.2L974.0 172.2L976.3 171.7L978.6 172.8L980.9 172.1L983.2 173.5L985.5 172.9L987.8 174.1L990.1 173.2L992.4 173.7L994.7 172.7L997.0 174.3L999.3 173.0L1001.6 173.0L1003.9 174.3L1006.2 174.4L1008.5 173.6L1010.6 173.9"/><path d="M660.8 158.3L663.6 159.7L666.5 158.2L669.5 158.1L672.4 158.9L675.2 160.3L678.1 156.9L681.0 159.0L684.0 157.4L686.9 159.2L689.8 157.0L692.6 156.9L695.5 156.1L698.5 158.5L701.4 156.0L704.2 158.0L707.1 154.2L710.0 157.1L713.0 153.8L715.9 156.1L718.8 153.1L721.6 155.6L724.5 154.2L727.5 156.5L730.4 153.4L733.2 153.3L736.1 148.2L739.0 142.7L742.0 136.7L744.9 133.8L747.8 126.0L748.8 126.4L751.0 119.8L753.4 117.3L755.6 115.2L758.0 118.2L760.2 122.1L762.5 128.6L764.9 133.8L767.1 141.5L769.4 143.7L771.8 147.5L774.0 147.8L776.3 150.1L778.6 149.3L780.9 151.7L783.2 150.0L785.5 151.8L787.8 149.3L790.1 146.0L792.4 142.3L794.8 141.4L797.0 135.1L799.3 133.1L801.6 129.0L803.9 127.2L806.2 126.8L808.5 128.9L810.8 128.3L813.1 129.6L815.4 132.6L817.7 137.7L820.0 139.0L822.3 141.8L824.6 139.1L826.9 138.2L829.2 136.9L831.5 133.4L833.8 130.5L836.1 128.8L838.4 122.9L840.7 119.8L843.0 115.6L845.3 113.4L847.6 107.7L849.9 105.4L852.2 99.8L854.5 98.2L856.8 98.4L859.1 102.9L861.4 107.0L863.7 114.2L866.0 120.8L868.3 129.1L870.6 133.5L872.9 141.1L875.2 145.8L877.5 150.8L879.8 153.8L882.1 157.7L884.4 158.3L886.7 160.7L889.0 160.3L891.3 163.2L893.6 161.8L895.9 162.9L898.2 163.1L900.5 163.7L902.8 163.2L905.1 164.3L907.4 163.5L909.7 163.5L912.0 164.0L914.3 163.9L916.6 164.5L918.9 164.3L921.2 163.4L923.5 164.3L925.8 163.7L928.1 165.1L930.4 163.7L932.7 165.3L935.0 163.7L937.3 163.6L939.6 162.6L941.9 163.4L944.2 165.1L946.5 165.5L948.8 165.6L951.1 166.5L953.4 165.5L955.7 166.6L958.0 166.3L960.3 167.4L962.6 166.7L964.9 167.7L967.2 167.3L969.5 168.4L971.8 168.7L974.1 168.3L976.4 167.8L978.7 167.9L981.0 167.9L983.3 168.2L985.6 167.5L987.9 169.1L990.2 168.9L992.5 168.8L994.8 169.0L997.1 169.3L999.4 168.2L1001.7 169.2L1004.0 168.4L1006.3 170.3L1008.6 169.0L1010.9 169.2L1013.0 169.8"/><path d="M663.2 155.0L666.1 153.7L669.0 155.8L671.9 153.9L674.8 155.8L677.7 153.7L680.6 154.5L683.5 153.0L686.4 154.4L689.3 151.9L692.2 154.4L695.1 151.6L698.0 153.1L700.9 151.2L703.8 153.1L706.7 151.1L709.6 151.6L712.5 150.8L715.4 152.1L718.3 149.9L721.2 151.1L724.1 148.8L727.0 151.0L729.9 149.1L732.8 150.1L735.7 147.1L738.6 143.9L741.5 137.1L744.4 133.9L747.3 125.8L750.2 123.4L751.2 118.6L753.5 115.3L755.8 109.7L758.1 110.9L760.4 112.8L762.7 119.5L765.0 122.9L767.3 128.6L769.6 135.4L771.9 140.8L774.2 140.4L776.5 144.2L778.8 145.8L781.1 146.5L783.4 145.0L785.7 147.9L788.0 144.3L790.3 146.7L792.6 140.9L794.9 139.1L797.2 135.3L799.5 134.0L801.8 127.7L804.1 126.1L806.4 121.6L808.7 123.4L811.0 122.7L813.3 123.5L815.6 124.1L817.9 128.3L820.2 131.2L822.5 135.5L824.8 134.4L827.1 134.3L829.4 133.2L831.7 131.9L834.0 129.8L836.3 126.7L838.6 120.7L840.9 120.2L843.2 113.0L845.5 112.5L847.8 105.6L850.1 103.9L852.4 99.3L854.7 96.2L857.0 91.4L859.3 94.8L861.6 96.9L863.9 103.5L866.2 107.7L868.5 116.5L870.8 121.7L873.1 131.0L875.4 135.9L877.7 142.8L880.0 145.9L882.3 149.8L884.6 151.3L886.9 154.4L889.2 155.4L891.5 156.6L893.8 157.7L896.1 159.0L898.4 157.6L900.7 158.7L903.0 158.3L905.3 158.7L907.6 158.7L909.9 159.2L912.2 158.4L914.5 159.1L916.8 158.2L919.1 159.3L921.4 158.7L923.7 160.9L926.0 158.5L928.3 160.6L930.6 159.3L932.9 158.9L935.2 159.8L937.5 161.0L939.8 157.9L942.1 158.7L944.4 159.1L946.7 161.0L949.0 160.5L951.3 161.2L953.6 161.3L955.9 161.5L958.2 162.2L960.5 162.1L962.8 162.4L965.1 162.6L967.4 162.7L969.7 163.4L972.0 162.0L974.3 164.1L976.6 163.8L978.9 163.5L981.2 163.5L983.5 164.2L985.8 163.8L988.1 163.3L990.4 164.3L992.7 160.5L995.0 163.9L997.3 165.2L999.6 164.1L1001.9 164.7L1004.2 164.8L1006.5 164.6L1008.8 165.1L1011.1 165.2L1013.4 164.3L1015.5 163.7"/><path d="M665.6 150.4L668.5 152.1L671.4 149.4L674.3 150.3L677.2 149.3L680.1 150.5L683.0 149.2L685.9 151.0L688.8 148.5L691.7 150.0L694.6 147.7L697.5 149.5L700.4 148.3L703.3 149.1L706.2 146.1L709.1 148.9L712.0 146.5L714.9 148.6L717.8 146.4L720.7 147.3L723.6 146.0L726.5 147.5L729.4 146.4L732.3 146.3L735.2 145.3L738.1 143.5L741.0 137.1L743.9 134.7L746.8 126.4L749.7 123.5L752.6 115.0L753.6 116.4L755.9 110.6L758.2 107.7L760.5 103.6L762.8 110.0L765.1 111.7L767.4 119.3L769.7 124.7L772.0 131.1L774.3 133.4L776.6 137.6L778.9 137.7L781.2 141.5L783.5 141.9L785.8 142.4L788.1 141.2L790.4 142.6L792.7 138.6L795.0 136.3L797.3 133.1L799.6 132.5L801.9 125.4L804.2 124.5L806.5 119.5L808.8 117.5L811.1 116.7L813.4 118.9L815.7 118.1L818.0 119.4L820.3 122.1L822.6 126.0L824.9 131.3L827.2 131.8L829.5 129.1L831.8 128.1L834.1 125.0L836.4 123.3L838.7 120.8L841.0 117.7L843.3 112.1L845.6 110.2L847.9 104.9L850.2 102.3L852.5 96.4L854.8 95.7L857.1 88.7L859.4 87.3L861.7 88.3L864.0 92.3L866.3 96.9L868.6 104.1L870.9 110.9L873.2 118.8L875.5 125.4L877.8 132.3L880.1 136.0L882.4 142.1L884.7 144.7L887.0 148.5L889.3 149.1L891.6 152.1L893.9 152.4L896.2 153.4L898.5 153.1L900.8 154.7L903.1 153.3L905.4 154.4L907.7 153.8L910.0 155.6L912.3 154.9L914.6 155.0L916.9 154.7L919.2 155.1L921.5 154.1L923.8 154.4L926.1 153.6L928.4 154.9L930.7 154.9L933.0 155.3L935.3 155.2L937.6 155.5L939.9 155.8L942.2 154.3L944.5 153.2L946.8 155.1L949.1 156.5L951.4 157.0L953.7 156.8L956.0 157.2L958.3 157.4L960.6 158.1L962.9 157.2L965.2 157.6L967.5 158.4L969.8 158.7L972.1 158.0L974.4 159.0L976.7 158.8L979.0 158.3L981.3 159.1L983.6 159.4L985.9 159.2L988.2 160.0L990.5 160.3L992.8 159.6L995.1 159.6L997.4 160.7L999.7 158.7L1002.0 160.4L1004.3 160.1L1006.6 160.8L1008.9 159.3L1011.2 160.7L1013.5 160.3L1015.8 161.4L1017.9 160.7"/><path d="M668.0 145.1L670.9 144.7L673.8 146.6L676.7 144.7L679.6 145.3L682.5 144.6L685.4 145.5L688.3 143.5L691.2 145.8L694.1 144.6L697.0 145.2L699.9 143.5L702.8 144.4L705.7 142.8L708.6 144.4L711.5 141.4L714.4 143.7L717.3 141.3L720.2 143.4L723.1 140.9L726.0 142.7L728.9 141.5L731.8 142.4L734.7 140.0L737.6 141.5L740.5 136.4L743.4 134.5L746.3 126.3L749.2 124.5L752.1 116.4L755.0 113.3L756.0 110.3L758.3 107.3L760.6 101.0L762.9 100.6L765.2 103.1L767.5 109.5L769.8 114.0L772.1 119.9L774.4 125.8L776.7 129.6L779.0 133.3L781.3 135.2L783.6 135.0L785.9 136.7L788.2 136.6L790.5 138.2L792.8 137.0L795.1 135.4L797.4 131.7L799.7 129.7L802.0 124.7L804.3 122.3L806.6 117.8L808.9 115.0L811.2 113.2L813.5 112.7L815.8 112.7L818.1 114.6L820.4 113.9L822.7 118.9L825.0 120.7L827.3 125.0L829.6 125.3L831.9 125.1L834.2 122.3L836.5 121.3L838.8 117.5L841.1 115.7L843.4 110.0L845.7 109.6L848.0 101.8L850.3 101.0L852.6 96.1L854.9 93.1L857.2 87.7L859.5 84.6L861.8 79.7L864.1 83.5L866.4 86.3L868.7 92.8L871.0 97.8L873.3 106.8L875.6 111.8L877.9 120.4L880.2 126.2L882.5 133.0L884.8 136.8L887.1 141.9L889.4 143.5L891.7 146.0L894.0 146.5L896.3 148.5L898.6 149.1L900.9 149.0L903.2 148.0L905.5 150.7L907.8 149.3L910.1 149.6L912.4 150.1L914.7 150.9L917.0 149.4L919.3 150.4L921.6 149.9L923.9 149.7L926.2 149.0L928.5 150.3L930.8 150.1L933.1 150.8L935.4 149.8L937.7 151.2L940.0 149.7L942.3 150.5L944.6 150.0L946.9 149.0L949.2 149.0L951.5 151.6L953.8 152.3L956.1 152.8L958.4 152.3L960.7 152.9L963.0 152.6L965.3 153.6L967.6 152.5L969.9 153.3L972.2 153.6L974.5 154.8L976.8 153.6L979.1 154.4L981.4 153.9L983.7 155.1L986.0 154.2L988.3 155.5L990.6 154.1L992.9 154.5L995.2 155.2L997.5 156.9L999.8 155.1L1002.1 155.9L1004.4 155.1L1006.7 155.7L1009.0 155.0L1011.3 154.7L1013.6 155.7L1015.9 156.3L1018.2 155.2L1020.3 157.1"/><path d="M670.5 140.4L673.4 141.2L676.3 139.6L679.2 141.8L682.1 138.5L685.0 141.6L687.9 138.9L690.8 141.0L693.7 139.1L696.6 139.9L699.5 138.1L702.4 140.5L705.3 138.6L708.2 139.3L711.1 139.1L714.0 139.1L716.9 137.3L719.8 138.6L722.7 137.5L725.6 138.4L728.5 137.3L731.4 138.6L734.3 135.8L737.2 137.4L740.1 135.3L743.0 133.2L745.9 127.4L748.8 124.9L751.7 116.9L754.6 112.8L757.5 105.6L758.5 105.5L760.8 99.6L763.1 97.6L765.4 94.9L767.7 99.6L770.0 102.9L772.3 110.2L774.6 115.0L776.9 121.8L779.2 124.3L781.5 129.7L783.8 129.0L786.1 132.4L788.4 130.2L790.7 132.1L793.0 132.4L795.3 132.2L797.6 130.6L799.9 127.0L802.2 122.7L804.5 121.4L806.8 117.4L809.1 114.5L811.4 110.6L813.7 107.3L816.0 107.9L818.3 109.2L820.6 107.7L822.9 110.0L825.2 111.9L827.5 117.7L829.8 118.1L832.1 121.0L834.4 117.7L836.7 118.7L839.0 114.6L841.3 113.9L843.6 109.3L845.9 106.8L848.2 100.9L850.5 101.0L852.8 95.0L855.1 92.5L857.4 86.1L859.7 84.6L862.0 78.5L864.3 76.9L866.6 77.6L868.9 82.3L871.2 86.8L873.5 94.0L875.8 100.1L878.1 108.5L880.4 115.3L882.7 122.3L885.0 126.9L887.3 133.7L889.6 134.6L891.9 138.3L894.2 141.1L896.5 142.5L898.8 143.6L901.1 144.4L903.4 144.1L905.7 144.7L908.0 145.1L910.3 145.4L912.6 145.4L914.9 145.4L917.2 144.8L919.5 145.7L921.8 144.6L924.1 145.5L926.4 145.1L928.7 145.3L931.0 146.1L933.3 146.3L935.6 146.6L937.9 146.3L940.2 146.0L942.5 146.2L944.8 146.2L947.1 145.9L949.4 144.4L951.7 146.1L954.0 146.6L956.3 148.2L958.6 148.3L960.9 149.2L963.2 147.5L965.5 149.3L967.8 148.6L970.1 149.8L972.4 148.2L974.7 149.9L977.0 148.5L979.3 150.4L981.6 149.3L983.9 149.9L986.2 149.2L988.5 151.1L990.8 150.1L993.1 150.7L995.4 151.1L997.7 150.4L1000.0 150.1L1002.3 150.8L1004.6 151.2L1006.9 151.3L1009.2 150.4L1011.5 150.8L1013.8 151.0L1016.1 151.3L1018.4 150.1L1020.7 151.9L1022.8 151.3"/></g><g fill="none" stroke="#000" stroke-linecap="round" stroke-linejoin="round"><path d="M700.6 221L711.2 196L721.8 174.7L732.4 153.5L743 128.8L751.8 111.2L757.5 101L761.5 95" stroke-width="3.6"/><path d="M705 210L711.2 196L721.8 174.7L732.4 153.5L743 129.5" stroke-width="5.2"/><path d="M797.5 218L804.7 201.4L813.1 184.4L825.8 159L838.6 133.6L851.3 106.5L857.5 92L861.5 80" stroke-width="3.6"/><path d="M804.7 201.4L813.1 184.4L825.8 159L838.6 133.6L846 118" stroke-width="5.2"/><path d="M752 238L764 212L775 183L786 157L797.5 130.5" stroke-width="2.4"/><path d="M781 245L790 228L797.5 218" stroke-width="2.4"/><path d="M900.5 242L925 193L949.5 145" stroke-width="1.0"/></g><g stroke="#000" stroke-width="1.5" fill="none"><path d="M600.2 100.2V291.7H950.7"/><path d="M596 291.6H600.2"/><path d="M596 249.2H600.2"/><path d="M596 206.8H600.2"/><path d="M596 164.4H600.2"/><path d="M596 122.0H600.2"/><path d="M598 270.4H601.5" stroke-width="1.2"/><path d="M598 228.0H601.5" stroke-width="1.2"/><path d="M598 185.6H601.5" stroke-width="1.2"/><path d="M598 143.2H601.5" stroke-width="1.2"/><path d="M598 100.8H601.5" stroke-width="1.2"/><path d="M624.5 291.6V296"/><path d="M671.1 291.6V296"/><path d="M717.7 291.6V296"/><path d="M764.3 291.6V296"/><path d="M810.9 291.6V296"/><path d="M857.5 291.6V296"/><path d="M904.1 291.6V296"/><path d="M950.7 291.6V296"/><path d="M601.2 291.6V294.6" stroke-width="1.2"/><path d="M647.8 291.6V294.6" stroke-width="1.2"/><path d="M694.4 291.6V294.6" stroke-width="1.2"/><path d="M741.0 291.6V294.6" stroke-width="1.2"/><path d="M787.6 291.6V294.6" stroke-width="1.2"/><path d="M834.2 291.6V294.6" stroke-width="1.2"/><path d="M880.8 291.6V294.6" stroke-width="1.2"/><path d="M927.4 291.6V294.6" stroke-width="1.2"/></g><g class="s" font-weight="bold" font-size="10.2" text-anchor="end" fill="#000"><text transform="translate(593.8 295.3) scale(1.02 1)">0</text><text transform="translate(593.8 252.9) scale(1.02 1)">20</text><text transform="translate(593.8 210.5) scale(1.02 1)">40</text><text transform="translate(593.8 168.1) scale(1.02 1)">60</text><text transform="translate(593.8 125.7) scale(1.02 1)">80</text></g><g class="s" font-weight="bold" font-size="10.4" text-anchor="middle" fill="#000"><text x="624.5" y="306.8" transform="translate(18.74 0) scale(0.97 1)">16</text><text x="671.1" y="306.8" transform="translate(20.13 0) scale(0.97 1)">18</text><text x="717.7" y="306.8" transform="translate(21.53 0) scale(0.97 1)">20</text><text x="764.3" y="306.8" transform="translate(22.93 0) scale(0.97 1)">22</text><text x="810.9" y="306.8" transform="translate(24.33 0) scale(0.97 1)">24</text><text x="857.5" y="306.8" transform="translate(25.73 0) scale(0.97 1)">26</text><text x="904.1" y="306.8" transform="translate(27.12 0) scale(0.97 1)">28</text><text x="950.7" y="306.8" transform="translate(28.52 0) scale(0.97 1)">30</text></g><text class="s" font-weight="bold" font-size="14.2" x="565.7" y="12.7">b</text><text class="s" font-size="15.9" transform="translate(622.4 31.8) scale(1.1 1)">PEO<tspan font-size="9.5" dy="7">5k</tspan><tspan dy="-7">-PCL</tspan><tspan font-size="9.5" dy="7">5k</tspan></text><text class="s" font-size="15.9" transform="translate(727.3 31.8) scale(1.112 1)">crystallized</text><text class="s" font-size="15.9" transform="translate(820.2 31.8) scale(1.11 1)">at 40<tspan font-size="9" dy="-9">o</tspan><tspan dy="9">Cfrom 10s to 300s</tspan></text><text class="s" font-size="21.9" transform="translate(568.3 271.2) scale(1.1 1) rotate(-90)">Intensity (a. u.)</text><text class="s" font-size="23" x="788.3" y="327.2">2</text><text class="r" font-size="23" x="801" y="327.2">θ</text><text class="r" font-size="14.0" transform="translate(737.2 72.6) scale(0.95 1)">P</text><text class="r" font-size="14.0" transform="translate(745.0 72.6) scale(0.93 1)">E</text><text class="r" font-size="14.0" transform="translate(753.2 72.6) scale(0.78 1)">O</text><text class="r" font-size="14.0" transform="translate(767.2 72.6) scale(1.0 1)">1</text><text class="r" font-size="14.0" transform="translate(774.6 72.6) scale(1.0 1)">2</text><text class="r" font-size="14.0" transform="translate(782.4 72.6) scale(1.0 1)">0</text><text class="r" font-size="14.0" transform="translate(790.1 87.4) scale(0.95 1)">P</text><text class="r" font-size="14.0" transform="translate(797.8 87.4) scale(0.78 1)">C</text><text class="r" font-size="14.0" transform="translate(805.6 87.4) scale(0.8 1)">L</text><text class="r" font-size="14.0" transform="translate(820.1 87.4) scale(1.0 1)">1</text><text class="r" font-size="14.0" transform="translate(827.1 87.4) scale(1.0 1)">1</text><text class="r" font-size="14.0" transform="translate(834.6 87.4) scale(1.0 1)">0</text><g stroke="#000" stroke-width="1.4" fill="none"><path d="M765.4 75.5V88"/><path d="M762.2 84.3L765.4 88.6L768.6 84.3"/><path d="M815.9 89.8V103"/><path d="M812.7 99.2L815.9 103.6L819.1 99.2"/></g></svg></body></html>
